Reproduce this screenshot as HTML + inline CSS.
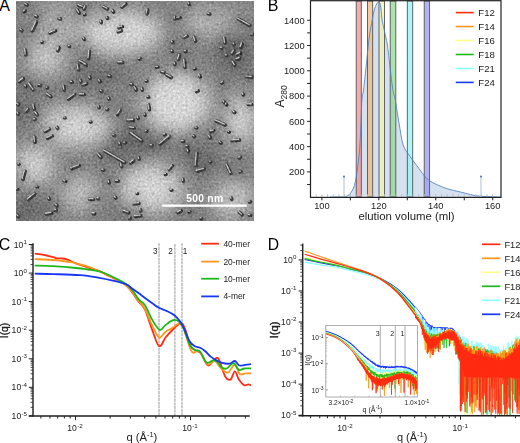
<!DOCTYPE html>
<html><head><meta charset="utf-8"><style>
html,body{margin:0;padding:0;background:#fff;width:520px;height:443px;overflow:hidden;}
svg{display:block;font-family:"Liberation Sans",sans-serif;}
</style></head><body>
<svg width="520" height="443" viewBox="0 0 520 443">
<defs>
<clipPath id="clipA"><rect x="16" y="1" width="238" height="220"/></clipPath>
<clipPath id="clipD"><rect x="303" y="240" width="217" height="175.6"/></clipPath>
<clipPath id="clipInset"><rect x="326" y="326" width="91.4" height="70.6"/></clipPath>
<filter id="blurA" x="-20%" y="-20%" width="140%" height="140%"><feGaussianBlur stdDeviation="9"/></filter>
<filter id="blurH" x="-10%" y="-10%" width="120%" height="120%"><feGaussianBlur stdDeviation="3"/></filter>
<filter id="blurR" x="-5%" y="-5%" width="110%" height="110%"><feGaussianBlur stdDeviation="0.45"/></filter>
<filter id="grainA" x="16" y="1" width="238" height="220" filterUnits="userSpaceOnUse" color-interpolation-filters="sRGB">
<feTurbulence type="fractalNoise" baseFrequency="0.42" numOctaves="2" seed="7" result="t"/>
<feColorMatrix in="t" type="matrix" values="0.33 0.33 0.33 0 0  0.33 0.33 0.33 0 0  0.33 0.33 0.33 0 0  0 0 0 0 1" result="g"/>
<feComposite in="SourceGraphic" in2="g" operator="arithmetic" k1="0" k2="1" k3="0.55" k4="-0.275"/>
</filter>
</defs>
<text x="-0.8" y="10.8" font-size="16" font-family="Liberation Sans, sans-serif" fill="#000">A</text>
<g clip-path="url(#clipA)">
<g filter="url(#grainA)">
<rect x="16" y="1" width="238" height="220" fill="rgb(132,132,132)"/>
<g filter="url(#blurA)">
<ellipse cx="22" cy="105" rx="10" ry="30" fill="rgb(115,115,115)" opacity="1.00"/>
<ellipse cx="105" cy="70" rx="24" ry="12" fill="rgb(112,112,112)" opacity="0.95"/>
<ellipse cx="135" cy="145" rx="36" ry="16" fill="rgb(108,108,108)" opacity="0.95"/>
<ellipse cx="26" cy="12" rx="14" ry="12" fill="rgb(135,135,135)" opacity="0.50"/>
<ellipse cx="28" cy="210" rx="16" ry="14" fill="rgb(100,100,100)" opacity="0.90"/>
<ellipse cx="234" cy="55" rx="22" ry="20" fill="rgb(110,110,110)" opacity="0.95"/>
<ellipse cx="236" cy="10" rx="20" ry="12" fill="rgb(120,120,120)" opacity="0.70"/>
<ellipse cx="200" cy="158" rx="22" ry="16" fill="rgb(110,110,110)" opacity="0.90"/>
<ellipse cx="120" cy="212" rx="22" ry="10" fill="rgb(115,115,115)" opacity="0.80"/>
<ellipse cx="50" cy="100" rx="20" ry="12" fill="rgb(135,135,135)" opacity="0.50"/>
<ellipse cx="46" cy="58" rx="20" ry="17" fill="rgb(200,200,200)" opacity="0.95"/>
<ellipse cx="58" cy="30" rx="22" ry="16" fill="rgb(188,188,188)" opacity="0.80"/>
<ellipse cx="122" cy="32" rx="40" ry="22" fill="rgb(212,212,212)" opacity="1.00"/>
<ellipse cx="236" cy="14" rx="16" ry="10" fill="rgb(170,170,170)" opacity="0.60"/>
<ellipse cx="206" cy="22" rx="22" ry="15" fill="rgb(188,188,188)" opacity="0.85"/>
<ellipse cx="176" cy="102" rx="34" ry="30" fill="rgb(215,215,215)" opacity="1.00"/>
<ellipse cx="76" cy="126" rx="34" ry="20" fill="rgb(210,210,210)" opacity="1.00"/>
<ellipse cx="34" cy="165" rx="20" ry="20" fill="rgb(205,205,205)" opacity="1.00"/>
<ellipse cx="152" cy="188" rx="32" ry="24" fill="rgb(210,210,210)" opacity="1.00"/>
<ellipse cx="240" cy="120" rx="16" ry="26" fill="rgb(205,205,205)" opacity="1.00"/>
<ellipse cx="234" cy="200" rx="22" ry="18" fill="rgb(200,200,200)" opacity="0.95"/>
<ellipse cx="80" cy="193" rx="18" ry="18" fill="rgb(195,195,195)" opacity="0.90"/>
<ellipse cx="60" cy="6" rx="22" ry="8" fill="rgb(175,175,175)" opacity="0.60"/>
</g>
<path d="M25.9,4.4L27.1,5.1M24.4,11.7L25.2,11.2M35.9,16.1L37.1,16.8M32.4,30.9L36.6,22.0M21.0,29.8L22.0,30.7M50.2,33.2L55.6,30.7M59.2,18.8L60.6,19.1M42.2,42.2L42.6,42.2M25.5,49.7L25.9,55.0M57.9,50.8L59.1,47.7M69.3,46.4L69.7,46.5M83.6,38.5L84.6,39.4M78.7,5.6L82.9,7.1M77.3,9.8L79.3,13.1M84.3,9.1L85.5,7.0M84.7,14.8L85.1,14.8M88.8,58.5L89.4,51.2M80.1,61.3L86.5,65.0M77.9,64.9L78.7,69.8M103.8,7.0L107.6,9.2M112.9,10.8L113.5,12.1M107.2,17.7L107.6,18.4M101.1,21.3L101.3,22.6M122.1,7.1L125.9,4.0M119.1,27.8L122.3,26.7M118.3,32.0L121.5,30.9M147.1,13.9L147.7,10.0M175.0,16.9L175.0,19.2M172.3,41.8L172.7,42.7M172.3,51.4L172.7,51.4M139.2,59.2L140.6,58.7M118.8,62.6L122.7,62.6M156.7,67.3L158.1,67.3M161.9,71.9L164.7,72.8M174.9,63.3L175.1,64.6M188.9,3.2L189.1,4.5M208.4,13.8L209.8,14.1M177.8,18.3L180.2,17.8M238.3,18.9L249.9,25.6M184.4,37.7L187.0,36.2M194.2,37.4L195.6,41.1M224.5,38.2L225.3,43.1M221.1,48.1L221.9,48.1M233.9,43.9L234.3,44.6M240.9,47.5L242.3,43.8M232.5,53.8L234.2,50.9M237.6,54.8L240.6,53.1M226.2,55.6L227.0,55.6M236.7,59.5L239.9,58.4M233.1,62.3L235.1,65.6M251.8,34.8L253.2,34.8M178.4,59.7L179.6,55.0M184.5,60.3L185.1,67.6M185.2,51.4L186.1,51.4M194.5,69.0L195.3,69.0M19.6,81.9L23.4,78.8M29.4,84.0L33.6,90.1M25.2,85.8L26.2,86.7M39.2,85.5L40.6,85.5M47.1,94.0L51.1,96.9M47.2,88.0L47.6,88.0M63.8,86.0L64.4,89.9M68.6,99.2L74.6,94.9M80.5,94.5L84.4,94.5M83.1,85.2L86.7,83.9M70.9,81.8L72.3,82.3M80.6,80.6L81.0,81.9M89.7,77.2L90.3,78.5M17.7,104.1L18.7,105.0M17.8,113.1L18.6,114.4M26.5,111.6L28.3,109.3M33.7,105.2L34.3,109.1M35.6,112.6L37.4,114.9M34.4,119.6L35.4,119.6M45.3,131.7L49.5,129.2M47.5,138.3L52.3,136.0M57.0,127.4L57.8,128.5M34.7,137.0L35.1,142.3M64.7,118.0L65.1,118.0M90.6,122.1L91.0,122.1M109.2,76.0L110.6,76.5M99.5,80.6L100.1,81.9M130.9,84.4L132.3,84.7M135.0,87.5L136.4,90.0M142.3,88.9L142.5,90.2M146.2,81.2L147.0,81.2M101.1,91.0L101.9,91.5M108.7,98.1L109.3,99.4M98.9,106.5L99.1,107.8M107.0,109.6L107.9,109.6M117.6,114.7L120.4,110.6M147.9,97.0L148.8,97.0M148.7,104.7L149.5,109.6M144.7,114.0L145.1,115.3M138.0,117.6L138.4,118.3M128.0,120.7L133.4,120.2M130.5,127.6L134.3,128.3M131.1,133.3L142.1,141.0M146.4,131.4L146.8,131.4M113.5,135.5L114.5,135.5M119.7,143.2L120.1,144.5M124.5,143.0L125.4,143.0M160.2,144.4L169.6,136.5M150.9,145.6L152.3,145.6M166.8,74.9L171.4,77.6M164.5,134.7L165.3,134.7M199.6,75.6L200.2,76.9M221.8,83.2L223.0,82.5M196.5,91.6L198.3,90.9M246.4,76.8L251.8,77.3M243.1,94.2L243.5,94.9M223.7,101.5L224.5,102.6M226.5,104.1L226.7,105.0M248.1,104.5L251.9,104.5M233.6,111.7L234.6,112.6M216.0,120.8L225.4,125.1M196.1,127.8L196.9,128.1M211.0,131.8L213.8,130.9M228.9,132.2L229.3,132.2M209.4,136.3L210.4,138.0M193.7,136.1L194.3,136.6M232.1,140.8L239.5,140.1M182.5,141.4L183.9,141.4M187.0,146.4L187.8,146.4M220.3,142.7L221.1,143.2M22.9,179.3L25.1,171.2M28.1,199.8L34.9,194.1M72.3,168.2L79.3,165.7M71.4,168.1L71.8,169.0M64.2,180.9L65.6,181.4M37.2,187.0L37.6,187.0M48.8,198.0L49.5,199.3M56.1,204.9L57.1,205.8M46.4,214.1L51.8,213.2M55.0,210.5L56.4,210.2M89.6,199.5L93.5,199.5M18.8,164.5L19.2,164.5M17.1,189.5L17.5,189.5M17.7,215.7L18.7,216.6M93.4,213.7L94.8,213.7M98.5,154.6L101.1,157.5M104.8,151.0L125.0,162.7M121.2,163.8L121.8,166.7M130.9,163.2L133.9,160.7M139.0,157.9L139.2,159.2M102.8,170.2L103.7,170.2M108.8,181.0L109.2,182.9M116.5,181.2L118.4,181.2M169.2,169.6L172.4,165.9M165.4,174.5L166.2,174.5M171.2,190.2L172.0,190.2M134.2,203.9L139.0,203.4M124.2,211.1L128.8,212.8M135.5,216.4L140.9,215.9M140.5,209.7L140.9,211.0M115.4,197.5L116.0,198.0M137.2,193.7L137.6,193.7M97.8,198.7L98.7,198.7M129.7,218.7L130.1,218.7M197.0,153.3L196.0,165.6M197.1,171.2L204.3,169.3M210.2,162.0L211.1,162.0M227.2,165.4L231.0,173.5M187.9,150.2L188.5,151.9M239.2,158.0L240.6,157.5M240.4,172.0L241.2,172.0M183.0,179.3L183.4,181.2M231.5,198.0L231.7,199.3M239.3,212.4L242.3,214.9M249.3,215.4L250.7,215.4M178.3,212.8L181.3,211.1M189.5,212.0L190.3,212.0M249.3,202.0L250.7,202.0M201.3,218.7L201.7,218.7" stroke="#000" stroke-width="9" stroke-linecap="round" opacity="0.10" filter="url(#blurH)" fill="none"/>
<g filter="url(#blurR)" fill="none" stroke-linecap="round">
<path d="M25.9,4.4L27.1,5.1M24.4,11.7L25.2,11.2M35.9,16.1L37.1,16.8M32.4,30.9L36.6,22.0M21.0,29.8L22.0,30.7M50.2,33.2L55.6,30.7M59.2,18.8L60.6,19.1M42.2,42.2L42.6,42.2M25.5,49.7L25.9,55.0M57.9,50.8L59.1,47.7M69.3,46.4L69.7,46.5M83.6,38.5L84.6,39.4M78.7,5.6L82.9,7.1M77.3,9.8L79.3,13.1M84.3,9.1L85.5,7.0M84.7,14.8L85.1,14.8M88.8,58.5L89.4,51.2M80.1,61.3L86.5,65.0M77.9,64.9L78.7,69.8M103.8,7.0L107.6,9.2M112.9,10.8L113.5,12.1M107.2,17.7L107.6,18.4M101.1,21.3L101.3,22.6M122.1,7.1L125.9,4.0M119.1,27.8L122.3,26.7M118.3,32.0L121.5,30.9M147.1,13.9L147.7,10.0M175.0,16.9L175.0,19.2M172.3,41.8L172.7,42.7M172.3,51.4L172.7,51.4M139.2,59.2L140.6,58.7M118.8,62.6L122.7,62.6M156.7,67.3L158.1,67.3M161.9,71.9L164.7,72.8M174.9,63.3L175.1,64.6M188.9,3.2L189.1,4.5M208.4,13.8L209.8,14.1M177.8,18.3L180.2,17.8M238.3,18.9L249.9,25.6M184.4,37.7L187.0,36.2M194.2,37.4L195.6,41.1M224.5,38.2L225.3,43.1M221.1,48.1L221.9,48.1M233.9,43.9L234.3,44.6M240.9,47.5L242.3,43.8M232.5,53.8L234.2,50.9M237.6,54.8L240.6,53.1M226.2,55.6L227.0,55.6M236.7,59.5L239.9,58.4M233.1,62.3L235.1,65.6M251.8,34.8L253.2,34.8M178.4,59.7L179.6,55.0M184.5,60.3L185.1,67.6M185.2,51.4L186.1,51.4M194.5,69.0L195.3,69.0M19.6,81.9L23.4,78.8M29.4,84.0L33.6,90.1M25.2,85.8L26.2,86.7M39.2,85.5L40.6,85.5M47.1,94.0L51.1,96.9M47.2,88.0L47.6,88.0M63.8,86.0L64.4,89.9M68.6,99.2L74.6,94.9M80.5,94.5L84.4,94.5M83.1,85.2L86.7,83.9M70.9,81.8L72.3,82.3M80.6,80.6L81.0,81.9M89.7,77.2L90.3,78.5M17.7,104.1L18.7,105.0M17.8,113.1L18.6,114.4M26.5,111.6L28.3,109.3M33.7,105.2L34.3,109.1M35.6,112.6L37.4,114.9M34.4,119.6L35.4,119.6M45.3,131.7L49.5,129.2M47.5,138.3L52.3,136.0M57.0,127.4L57.8,128.5M34.7,137.0L35.1,142.3M64.7,118.0L65.1,118.0M90.6,122.1L91.0,122.1M109.2,76.0L110.6,76.5M99.5,80.6L100.1,81.9M130.9,84.4L132.3,84.7M135.0,87.5L136.4,90.0M142.3,88.9L142.5,90.2M146.2,81.2L147.0,81.2M101.1,91.0L101.9,91.5M108.7,98.1L109.3,99.4M98.9,106.5L99.1,107.8M107.0,109.6L107.9,109.6M117.6,114.7L120.4,110.6M147.9,97.0L148.8,97.0M148.7,104.7L149.5,109.6M144.7,114.0L145.1,115.3M138.0,117.6L138.4,118.3M128.0,120.7L133.4,120.2M130.5,127.6L134.3,128.3M131.1,133.3L142.1,141.0M146.4,131.4L146.8,131.4M113.5,135.5L114.5,135.5M119.7,143.2L120.1,144.5M124.5,143.0L125.4,143.0M160.2,144.4L169.6,136.5M150.9,145.6L152.3,145.6M166.8,74.9L171.4,77.6M164.5,134.7L165.3,134.7M199.6,75.6L200.2,76.9M221.8,83.2L223.0,82.5M196.5,91.6L198.3,90.9M246.4,76.8L251.8,77.3M243.1,94.2L243.5,94.9M223.7,101.5L224.5,102.6M226.5,104.1L226.7,105.0M248.1,104.5L251.9,104.5M233.6,111.7L234.6,112.6M216.0,120.8L225.4,125.1M196.1,127.8L196.9,128.1M211.0,131.8L213.8,130.9M228.9,132.2L229.3,132.2M209.4,136.3L210.4,138.0M193.7,136.1L194.3,136.6M232.1,140.8L239.5,140.1M182.5,141.4L183.9,141.4M187.0,146.4L187.8,146.4M220.3,142.7L221.1,143.2M22.9,179.3L25.1,171.2M28.1,199.8L34.9,194.1M72.3,168.2L79.3,165.7M71.4,168.1L71.8,169.0M64.2,180.9L65.6,181.4M37.2,187.0L37.6,187.0M48.8,198.0L49.5,199.3M56.1,204.9L57.1,205.8M46.4,214.1L51.8,213.2M55.0,210.5L56.4,210.2M89.6,199.5L93.5,199.5M18.8,164.5L19.2,164.5M17.1,189.5L17.5,189.5M17.7,215.7L18.7,216.6M93.4,213.7L94.8,213.7M98.5,154.6L101.1,157.5M104.8,151.0L125.0,162.7M121.2,163.8L121.8,166.7M130.9,163.2L133.9,160.7M139.0,157.9L139.2,159.2M102.8,170.2L103.7,170.2M108.8,181.0L109.2,182.9M116.5,181.2L118.4,181.2M169.2,169.6L172.4,165.9M165.4,174.5L166.2,174.5M171.2,190.2L172.0,190.2M134.2,203.9L139.0,203.4M124.2,211.1L128.8,212.8M135.5,216.4L140.9,215.9M140.5,209.7L140.9,211.0M115.4,197.5L116.0,198.0M137.2,193.7L137.6,193.7M97.8,198.7L98.7,198.7M129.7,218.7L130.1,218.7M197.0,153.3L196.0,165.6M197.1,171.2L204.3,169.3M210.2,162.0L211.1,162.0M227.2,165.4L231.0,173.5M187.9,150.2L188.5,151.9M239.2,158.0L240.6,157.5M240.4,172.0L241.2,172.0M183.0,179.3L183.4,181.2M231.5,198.0L231.7,199.3M239.3,212.4L242.3,214.9M249.3,215.4L250.7,215.4M178.3,212.8L181.3,211.1M189.5,212.0L190.3,212.0M249.3,202.0L250.7,202.0M201.3,218.7L201.7,218.7" stroke="#3a3a3a" stroke-width="3.6"/>
<path d="M25.0,3.5L26.3,4.2M23.6,10.8L24.3,10.3M35.0,15.2L36.3,15.9M31.6,30.0L35.7,21.1M20.1,28.9L21.2,29.8M49.4,32.3L54.7,29.8M58.4,17.9L59.7,18.2M41.3,41.4L41.8,41.4M24.6,48.8L25.1,54.1M57.1,49.9L58.2,46.8M68.5,45.5L68.8,45.6M82.8,37.6L83.7,38.5M77.9,4.7L82.0,6.2M76.5,8.9L78.4,12.2M83.5,8.2L84.7,6.1M83.9,13.8L84.3,13.8M87.9,57.6L88.6,50.3M79.2,60.4L85.7,64.1M77.0,64.0L77.9,68.9M102.9,6.1L106.8,8.2M112.0,9.9L112.7,11.2M106.3,16.8L106.8,17.5M100.2,20.4L100.5,21.7M121.3,6.2L125.0,3.1M118.3,26.9L121.4,25.8M117.5,31.1L120.6,30.0M146.2,13.0L146.9,9.1M174.2,16.0L174.2,18.3M171.5,40.9L171.8,41.8M171.5,50.5L171.8,50.5M138.4,58.3L139.7,57.8M117.9,61.8L121.8,61.8M155.9,66.5L157.2,66.5M161.1,71.0L163.8,71.9M174.0,62.4L174.3,63.7M188.0,2.3L188.3,3.6M207.6,12.9L208.9,13.2M177.0,17.4L179.3,16.9M237.4,18.0L249.1,24.7M183.6,36.8L186.1,35.3M193.4,36.5L194.7,40.2M223.6,37.3L224.5,42.2M220.2,47.2L221.1,47.2M233.0,43.0L233.5,43.7M240.1,46.6L241.4,42.9M231.6,52.9L233.3,50.0M236.8,53.9L239.7,52.2M225.3,54.8L226.2,54.8M235.9,58.6L239.0,57.5M232.3,61.4L234.2,64.7M251.0,33.9L252.3,33.9M177.5,58.8L178.8,54.1M183.6,59.4L184.3,66.7M184.4,50.5L185.3,50.5M193.6,68.1L194.5,68.1M18.8,81.0L22.5,77.9M28.5,83.1L32.8,89.2M24.3,84.9L25.4,85.8M38.3,84.6L39.8,84.6M46.2,93.1L50.3,96.0M46.3,87.1L46.8,87.1M62.9,85.1L63.6,89.0M67.7,98.3L73.8,94.0M79.6,93.7L83.5,93.7M82.2,84.3L85.9,83.0M70.1,80.9L71.4,81.4M79.7,79.7L80.2,81.0M88.8,76.3L89.5,77.6M16.8,103.2L17.9,104.1M17.0,112.2L17.7,113.5M25.6,110.7L27.5,108.4M32.8,104.3L33.5,108.2M34.7,111.7L36.6,114.0M33.6,118.8L34.5,118.8M44.4,130.8L48.7,128.3M46.6,137.4L51.5,135.1M56.1,126.5L57.0,127.6M33.8,136.1L34.3,141.4M63.9,117.1L64.3,117.1M89.8,121.2L90.2,121.2M108.4,75.1L109.7,75.6M98.6,79.7L99.3,81.0M130.1,83.5L131.4,83.8M134.1,86.6L135.6,89.1M141.4,88.0L141.7,89.3M145.3,80.4L146.2,80.4M100.3,90.1L101.0,90.6M107.8,97.2L108.5,98.5M98.0,105.6L98.3,106.9M106.1,108.8L107.0,108.8M116.7,113.8L119.6,109.7M147.0,96.2L147.9,96.2M147.8,103.8L148.7,108.7M143.8,113.1L144.3,114.4M137.1,116.7L137.6,117.4M127.2,119.8L132.5,119.3M129.6,126.7L133.5,127.4M130.3,132.4L141.2,140.1M145.6,130.5L145.9,130.5M112.7,134.6L113.6,134.6M118.8,142.3L119.3,143.6M123.6,142.1L124.5,142.1M159.3,143.5L168.8,135.6M150.1,144.7L151.4,144.7M165.9,74.0L170.6,76.7M163.6,133.8L164.5,133.8M198.7,74.7L199.4,76.0M220.9,82.3L222.2,81.6M195.7,90.7L197.4,90.0M245.6,75.9L250.9,76.4M242.2,93.3L242.7,94.0M222.8,100.6L223.7,101.7M225.7,103.2L225.8,104.1M247.2,103.7L251.1,103.7M232.7,110.8L233.8,111.7M215.1,119.9L224.6,124.2M195.2,126.9L196.1,127.2M210.2,130.9L212.9,130.0M228.1,131.2L228.4,131.2M208.6,135.4L209.5,137.1M192.8,135.2L193.5,135.7M231.3,139.9L238.6,139.2M181.7,140.5L183.0,140.5M186.1,145.5L187.0,145.5M219.5,141.8L220.2,142.3M22.1,178.4L24.2,170.3M27.2,198.9L34.1,193.2M71.5,167.3L78.4,164.8M70.6,167.2L70.9,168.1M63.4,180.0L64.7,180.5M36.3,186.1L36.8,186.1M47.9,197.1L48.6,198.4M55.2,204.0L56.3,204.9M45.6,213.2L50.9,212.3M54.2,209.6L55.5,209.3M88.8,198.6L92.7,198.6M17.9,163.6L18.3,163.6M16.2,188.6L16.6,188.6M16.8,214.8L17.9,215.7M92.5,212.8L94.0,212.8M97.7,153.7L100.2,156.6M103.9,150.1L124.2,161.8M120.4,162.9L120.9,165.8M130.1,162.3L133.0,159.8M138.1,157.0L138.4,158.3M101.9,169.3L102.8,169.3M108.0,180.1L108.3,182.0M115.6,180.2L117.5,180.2M168.4,168.7L171.5,165.0M164.5,173.6L165.4,173.6M170.3,189.3L171.2,189.3M133.3,203.0L138.2,202.5M123.3,210.2L128.0,211.9M134.7,215.5L140.0,215.0M139.6,208.8L140.1,210.1M114.5,196.6L115.2,197.1M136.4,192.8L136.8,192.8M96.9,197.8L97.8,197.8M128.9,217.8L129.2,217.8M196.2,152.4L195.1,164.7M196.3,170.3L203.4,168.4M209.4,161.1L210.3,161.1M226.4,164.5L230.1,172.6M187.0,149.3L187.7,151.0M238.4,157.1L239.7,156.6M239.5,171.1L240.4,171.1M182.2,178.4L182.5,180.3M230.6,197.1L230.9,198.4M238.5,211.5L241.4,214.0M248.5,214.5L249.8,214.5M177.5,211.9L180.4,210.2M188.6,211.1L189.5,211.1M248.5,201.1L249.8,201.1M200.5,217.8L200.8,217.8" stroke="#c2c2c2" stroke-width="1.4"/>
</g>
</g>
</g>
<rect x="162.3" y="204.5" width="84.5" height="2.3" fill="#fff"/>
<text x="204.8" y="202.2" font-size="10.3" font-weight="bold" letter-spacing="0.25" text-anchor="middle" fill="#fff" font-family="Liberation Sans, sans-serif">500 nm</text>
<text x="267.7" y="11.1" font-size="16" font-family="Liberation Sans, sans-serif" fill="#000">B</text>
<path d="M330.00,197.00 C331.72,196.98 337.88,196.97 340.30,196.90 C342.72,196.83 343.05,196.95 344.50,196.60 C345.95,196.25 347.50,196.23 349.00,194.80 C350.50,193.37 352.28,191.02 353.50,188.00 C354.72,184.98 355.50,181.03 356.30,176.70 C357.10,172.37 357.70,167.28 358.30,162.00 C358.90,156.72 359.45,151.67 359.90,145.00 C360.35,138.33 360.67,129.50 361.00,122.00 C361.33,114.50 361.48,105.33 361.90,100.00 C362.32,94.67 362.82,95.38 363.50,90.00 C364.18,84.62 365.28,74.37 366.00,67.70 C366.72,61.03 367.22,55.45 367.80,50.00 C368.38,44.55 368.77,40.00 369.50,35.00 C370.23,30.00 371.40,24.17 372.20,20.00 C373.00,15.83 373.57,12.67 374.30,10.00 C375.03,7.33 375.90,5.35 376.60,4.00 C377.30,2.65 377.93,1.97 378.50,1.90 C379.07,1.83 379.58,2.42 380.00,3.60 C380.42,4.78 380.65,6.27 381.00,9.00 C381.35,11.73 381.63,16.83 382.10,20.00 C382.57,23.17 383.27,25.50 383.80,28.00 C384.33,30.50 384.70,32.17 385.30,35.00 C385.90,37.83 386.60,39.55 387.40,45.00 C388.20,50.45 389.18,60.20 390.10,67.70 C391.02,75.20 392.03,84.62 392.90,90.00 C393.77,95.38 394.28,94.50 395.30,100.00 C396.32,105.50 397.68,115.50 399.00,123.00 C400.32,130.50 401.37,139.43 403.20,145.00 C405.03,150.57 407.75,152.98 410.00,156.40 C412.25,159.82 414.27,162.23 416.70,165.50 C419.13,168.77 422.38,173.42 424.60,176.00 C426.82,178.58 427.43,179.33 430.00,181.00 C432.57,182.67 436.67,184.58 440.00,186.00 C443.33,187.42 445.90,188.33 450.00,189.50 C454.10,190.67 460.27,191.95 464.60,193.00 C468.93,194.05 471.77,195.18 476.00,195.80 C480.23,196.42 485.83,196.50 490.00,196.70 C494.17,196.90 499.17,196.95 501.00,197.00 L501,197 L330,197 Z" fill="#d6e1f0"/>
<rect x="356.2" y="1" width="5.1" height="196" fill="#f09090" fill-opacity="0.75" stroke="#555" stroke-width="0.9"/>
<rect x="367.5" y="1" width="5.2" height="196" fill="#f0b880" fill-opacity="0.75" stroke="#555" stroke-width="0.9"/>
<rect x="379.0" y="1" width="5.5" height="196" fill="#f0f0b0" fill-opacity="0.75" stroke="#555" stroke-width="0.9"/>
<rect x="390.2" y="1" width="5.6" height="196" fill="#90d890" fill-opacity="0.75" stroke="#555" stroke-width="0.9"/>
<rect x="407.3" y="1" width="5.4" height="196" fill="#90f4f4" fill-opacity="0.75" stroke="#555" stroke-width="0.9"/>
<rect x="424.2" y="1" width="5.4" height="196" fill="#9898f0" fill-opacity="0.75" stroke="#555" stroke-width="0.9"/>
<path d="M330.00,197.00 C331.72,196.98 337.88,196.97 340.30,196.90 C342.72,196.83 343.05,196.95 344.50,196.60 C345.95,196.25 347.50,196.23 349.00,194.80 C350.50,193.37 352.28,191.02 353.50,188.00 C354.72,184.98 355.50,181.03 356.30,176.70 C357.10,172.37 357.70,167.28 358.30,162.00 C358.90,156.72 359.45,151.67 359.90,145.00 C360.35,138.33 360.67,129.50 361.00,122.00 C361.33,114.50 361.48,105.33 361.90,100.00 C362.32,94.67 362.82,95.38 363.50,90.00 C364.18,84.62 365.28,74.37 366.00,67.70 C366.72,61.03 367.22,55.45 367.80,50.00 C368.38,44.55 368.77,40.00 369.50,35.00 C370.23,30.00 371.40,24.17 372.20,20.00 C373.00,15.83 373.57,12.67 374.30,10.00 C375.03,7.33 375.90,5.35 376.60,4.00 C377.30,2.65 377.93,1.97 378.50,1.90 C379.07,1.83 379.58,2.42 380.00,3.60 C380.42,4.78 380.65,6.27 381.00,9.00 C381.35,11.73 381.63,16.83 382.10,20.00 C382.57,23.17 383.27,25.50 383.80,28.00 C384.33,30.50 384.70,32.17 385.30,35.00 C385.90,37.83 386.60,39.55 387.40,45.00 C388.20,50.45 389.18,60.20 390.10,67.70 C391.02,75.20 392.03,84.62 392.90,90.00 C393.77,95.38 394.28,94.50 395.30,100.00 C396.32,105.50 397.68,115.50 399.00,123.00 C400.32,130.50 401.37,139.43 403.20,145.00 C405.03,150.57 407.75,152.98 410.00,156.40 C412.25,159.82 414.27,162.23 416.70,165.50 C419.13,168.77 422.38,173.42 424.60,176.00 C426.82,178.58 427.43,179.33 430.00,181.00 C432.57,182.67 436.67,184.58 440.00,186.00 C443.33,187.42 445.90,188.33 450.00,189.50 C454.10,190.67 460.27,191.95 464.60,193.00 C468.93,194.05 471.77,195.18 476.00,195.80 C480.23,196.42 485.83,196.50 490.00,196.70 C494.17,196.90 499.17,196.95 501.00,197.00" fill="none" stroke="#4f80c0" stroke-width="0.85"/>
<rect x="343.3" y="176.5" width="1.4" height="20.4" fill="#c5d3e6"/>
<circle cx="344.0" cy="176.5" r="0.9" fill="#3a6ab0"/>
<rect x="480.3" y="176.5" width="1.4" height="20.4" fill="#c5d3e6"/>
<circle cx="481.0" cy="176.5" r="0.9" fill="#3a6ab0"/>
<line x1="316.2" y1="194.2" x2="316.2" y2="196.8" stroke="#bbb" stroke-width="0.9"/>
<line x1="321.9" y1="194.2" x2="321.9" y2="196.8" stroke="#bbb" stroke-width="0.9"/>
<line x1="327.6" y1="194.2" x2="327.6" y2="196.8" stroke="#bbb" stroke-width="0.9"/>
<line x1="333.3" y1="194.2" x2="333.3" y2="196.8" stroke="#bbb" stroke-width="0.9"/>
<line x1="339.0" y1="194.2" x2="339.0" y2="196.8" stroke="#bbb" stroke-width="0.9"/>
<line x1="344.7" y1="194.2" x2="344.7" y2="196.8" stroke="#bbb" stroke-width="0.9"/>
<line x1="350.4" y1="194.2" x2="350.4" y2="196.8" stroke="#bbb" stroke-width="0.9"/>
<line x1="356.1" y1="194.2" x2="356.1" y2="196.8" stroke="#bbb" stroke-width="0.9"/>
<line x1="361.8" y1="194.2" x2="361.8" y2="196.8" stroke="#bbb" stroke-width="0.9"/>
<line x1="367.5" y1="194.2" x2="367.5" y2="196.8" stroke="#bbb" stroke-width="0.9"/>
<line x1="373.1" y1="194.2" x2="373.1" y2="196.8" stroke="#bbb" stroke-width="0.9"/>
<line x1="378.8" y1="194.2" x2="378.8" y2="196.8" stroke="#bbb" stroke-width="0.9"/>
<line x1="384.5" y1="194.2" x2="384.5" y2="196.8" stroke="#bbb" stroke-width="0.9"/>
<line x1="390.2" y1="194.2" x2="390.2" y2="196.8" stroke="#bbb" stroke-width="0.9"/>
<line x1="395.9" y1="194.2" x2="395.9" y2="196.8" stroke="#bbb" stroke-width="0.9"/>
<line x1="401.6" y1="194.2" x2="401.6" y2="196.8" stroke="#bbb" stroke-width="0.9"/>
<line x1="407.3" y1="194.2" x2="407.3" y2="196.8" stroke="#bbb" stroke-width="0.9"/>
<line x1="413.0" y1="194.2" x2="413.0" y2="196.8" stroke="#bbb" stroke-width="0.9"/>
<line x1="418.7" y1="194.2" x2="418.7" y2="196.8" stroke="#bbb" stroke-width="0.9"/>
<line x1="424.4" y1="194.2" x2="424.4" y2="196.8" stroke="#bbb" stroke-width="0.9"/>
<line x1="430.1" y1="194.2" x2="430.1" y2="196.8" stroke="#bbb" stroke-width="0.9"/>
<line x1="435.8" y1="194.2" x2="435.8" y2="196.8" stroke="#bbb" stroke-width="0.9"/>
<line x1="441.5" y1="194.2" x2="441.5" y2="196.8" stroke="#bbb" stroke-width="0.9"/>
<line x1="447.2" y1="194.2" x2="447.2" y2="196.8" stroke="#bbb" stroke-width="0.9"/>
<line x1="452.9" y1="194.2" x2="452.9" y2="196.8" stroke="#bbb" stroke-width="0.9"/>
<line x1="458.6" y1="194.2" x2="458.6" y2="196.8" stroke="#bbb" stroke-width="0.9"/>
<line x1="464.2" y1="194.2" x2="464.2" y2="196.8" stroke="#bbb" stroke-width="0.9"/>
<line x1="469.9" y1="194.2" x2="469.9" y2="196.8" stroke="#bbb" stroke-width="0.9"/>
<line x1="475.6" y1="194.2" x2="475.6" y2="196.8" stroke="#bbb" stroke-width="0.9"/>
<line x1="481.3" y1="194.2" x2="481.3" y2="196.8" stroke="#bbb" stroke-width="0.9"/>
<line x1="487.0" y1="194.2" x2="487.0" y2="196.8" stroke="#bbb" stroke-width="0.9"/>
<line x1="492.7" y1="194.2" x2="492.7" y2="196.8" stroke="#bbb" stroke-width="0.9"/>
<rect x="310.5" y="0.7" width="190.5" height="196.7" fill="none" stroke="#222" stroke-width="1.2"/>
<line x1="307.1" y1="184.56" x2="310.5" y2="184.56" stroke="#222" stroke-width="1.0"/>
<line x1="307.1" y1="171.92" x2="310.5" y2="171.92" stroke="#222" stroke-width="1.0"/>
<text x="304.6" y="175.22" font-size="9.3" text-anchor="end" font-family="Liberation Sans, sans-serif" fill="#222">200</text>
<line x1="307.1" y1="159.28" x2="310.5" y2="159.28" stroke="#222" stroke-width="1.0"/>
<line x1="307.1" y1="146.64" x2="310.5" y2="146.64" stroke="#222" stroke-width="1.0"/>
<text x="304.6" y="149.94" font-size="9.3" text-anchor="end" font-family="Liberation Sans, sans-serif" fill="#222">400</text>
<line x1="307.1" y1="134.00" x2="310.5" y2="134.00" stroke="#222" stroke-width="1.0"/>
<line x1="307.1" y1="121.36" x2="310.5" y2="121.36" stroke="#222" stroke-width="1.0"/>
<text x="304.6" y="124.66" font-size="9.3" text-anchor="end" font-family="Liberation Sans, sans-serif" fill="#222">600</text>
<line x1="307.1" y1="108.72" x2="310.5" y2="108.72" stroke="#222" stroke-width="1.0"/>
<line x1="307.1" y1="96.08" x2="310.5" y2="96.08" stroke="#222" stroke-width="1.0"/>
<text x="304.6" y="99.38" font-size="9.3" text-anchor="end" font-family="Liberation Sans, sans-serif" fill="#222">800</text>
<line x1="307.1" y1="83.44" x2="310.5" y2="83.44" stroke="#222" stroke-width="1.0"/>
<line x1="307.1" y1="70.80" x2="310.5" y2="70.80" stroke="#222" stroke-width="1.0"/>
<text x="304.6" y="74.10" font-size="9.3" text-anchor="end" font-family="Liberation Sans, sans-serif" fill="#222">1000</text>
<line x1="307.1" y1="58.16" x2="310.5" y2="58.16" stroke="#222" stroke-width="1.0"/>
<line x1="307.1" y1="45.52" x2="310.5" y2="45.52" stroke="#222" stroke-width="1.0"/>
<text x="304.6" y="48.82" font-size="9.3" text-anchor="end" font-family="Liberation Sans, sans-serif" fill="#222">1200</text>
<line x1="307.1" y1="32.88" x2="310.5" y2="32.88" stroke="#222" stroke-width="1.0"/>
<line x1="307.1" y1="20.24" x2="310.5" y2="20.24" stroke="#222" stroke-width="1.0"/>
<text x="304.6" y="23.54" font-size="9.3" text-anchor="end" font-family="Liberation Sans, sans-serif" fill="#222">1400</text>
<line x1="321.90" y1="197" x2="321.90" y2="200.3" stroke="#222" stroke-width="1.0"/>
<text x="321.90" y="209" font-size="9.3" text-anchor="middle" font-family="Liberation Sans, sans-serif" fill="#222">100</text>
<line x1="350.37" y1="197" x2="350.37" y2="200.3" stroke="#222" stroke-width="1.0"/>
<line x1="378.84" y1="197" x2="378.84" y2="200.3" stroke="#222" stroke-width="1.0"/>
<text x="378.84" y="209" font-size="9.3" text-anchor="middle" font-family="Liberation Sans, sans-serif" fill="#222">120</text>
<line x1="407.31" y1="197" x2="407.31" y2="200.3" stroke="#222" stroke-width="1.0"/>
<line x1="435.78" y1="197" x2="435.78" y2="200.3" stroke="#222" stroke-width="1.0"/>
<text x="435.78" y="209" font-size="9.3" text-anchor="middle" font-family="Liberation Sans, sans-serif" fill="#222">140</text>
<line x1="464.25" y1="197" x2="464.25" y2="200.3" stroke="#222" stroke-width="1.0"/>
<line x1="492.72" y1="197" x2="492.72" y2="200.3" stroke="#222" stroke-width="1.0"/>
<text x="492.72" y="209" font-size="9.3" text-anchor="middle" font-family="Liberation Sans, sans-serif" fill="#222">160</text>
<text x="406.5" y="219.8" font-size="11.4" text-anchor="middle" font-family="Liberation Sans, sans-serif" fill="#222">elution volume (ml)</text>
<text transform="translate(284.3,107.5) rotate(-90)" font-size="12" font-family="Liberation Sans, sans-serif" fill="#222">A<tspan font-size="8.5" dy="3">280</tspan></text>
<line x1="455.8" y1="12.60" x2="473.7" y2="12.60" stroke="#ff2c12" stroke-width="1.6"/>
<text x="478.3" y="15.90" font-size="9.6" font-family="Liberation Sans, sans-serif" fill="#222">F12</text>
<line x1="455.8" y1="26.56" x2="473.7" y2="26.56" stroke="#ff961c" stroke-width="1.6"/>
<text x="478.3" y="29.86" font-size="9.6" font-family="Liberation Sans, sans-serif" fill="#222">F14</text>
<line x1="455.8" y1="40.52" x2="473.7" y2="40.52" stroke="#ffff8c" stroke-width="1.6"/>
<text x="478.3" y="43.82" font-size="9.6" font-family="Liberation Sans, sans-serif" fill="#222">F16</text>
<line x1="455.8" y1="54.48" x2="473.7" y2="54.48" stroke="#1cb81c" stroke-width="1.6"/>
<text x="478.3" y="57.78" font-size="9.6" font-family="Liberation Sans, sans-serif" fill="#222">F18</text>
<line x1="455.8" y1="68.44" x2="473.7" y2="68.44" stroke="#8cffff" stroke-width="1.6"/>
<text x="478.3" y="71.74" font-size="9.6" font-family="Liberation Sans, sans-serif" fill="#222">F21</text>
<line x1="455.8" y1="82.40" x2="473.7" y2="82.40" stroke="#1838f4" stroke-width="1.6"/>
<text x="478.3" y="85.70" font-size="9.6" font-family="Liberation Sans, sans-serif" fill="#222">F24</text>
<text x="-1.2" y="250.2" font-size="16" font-family="Liberation Sans, sans-serif" fill="#000">C</text>
<line x1="159.0" y1="243.3" x2="159.0" y2="416" stroke="#ababab" stroke-width="1.2" stroke-dasharray="3,0.6"/>
<text x="155.2" y="254.2" font-size="8.2" text-anchor="middle" font-family="Liberation Sans, sans-serif" fill="#222">3</text>
<line x1="174.9" y1="244.0" x2="174.9" y2="416" stroke="#ababab" stroke-width="1.2" stroke-dasharray="3,0.6"/>
<text x="170.5" y="254.2" font-size="8.2" text-anchor="middle" font-family="Liberation Sans, sans-serif" fill="#222">2</text>
<line x1="182.0" y1="243.3" x2="182.0" y2="416" stroke="#ababab" stroke-width="1.2" stroke-dasharray="3,0.6"/>
<text x="185.1" y="254.2" font-size="8.2" text-anchor="middle" font-family="Liberation Sans, sans-serif" fill="#222">1</text>
<path d="M34.70,253.60 C36.18,253.82 40.52,254.32 43.60,254.90 C46.68,255.48 50.95,256.53 53.20,257.10 C55.45,257.67 55.50,258.07 57.10,258.30 C58.70,258.53 61.20,258.32 62.80,258.50 C64.40,258.68 65.08,258.82 66.70,259.40 C68.32,259.98 70.73,261.25 72.50,262.00 C74.27,262.75 75.38,263.22 77.30,263.90 C79.22,264.58 81.88,265.38 84.00,266.10 C86.12,266.82 87.47,267.38 90.00,268.20 C92.53,269.02 95.87,269.62 99.20,271.00 C102.53,272.38 106.62,274.83 110.00,276.50 C113.38,278.17 116.60,279.32 119.50,281.00 C122.40,282.68 125.15,284.52 127.40,286.60 C129.65,288.68 131.15,291.02 133.00,293.50 C134.85,295.98 136.50,298.80 138.50,301.50 C140.50,304.20 142.70,304.92 145.00,309.70 C147.30,314.48 149.93,324.10 152.30,330.20 C154.67,336.30 157.00,345.08 159.20,346.30 C161.40,347.52 163.22,340.30 165.50,337.50 C167.78,334.70 170.70,331.70 172.90,329.50 C175.10,327.30 177.12,325.28 178.70,324.30 C180.28,323.32 181.17,322.37 182.40,323.60 C183.63,324.83 185.00,328.65 186.10,331.70 C187.20,334.75 188.03,339.22 189.00,341.90 C189.97,344.58 190.68,346.33 191.90,347.80 C193.12,349.27 194.78,349.75 196.30,350.70 C197.82,351.65 199.10,351.07 201.00,353.50 C202.90,355.93 205.68,364.05 207.70,365.30 C209.72,366.55 211.52,362.27 213.10,361.00 C214.68,359.73 216.07,357.57 217.20,357.70 C218.33,357.83 218.55,358.63 219.90,361.80 C221.25,364.97 223.50,373.77 225.30,376.70 C227.10,379.63 229.12,380.30 230.70,379.40 C232.28,378.50 233.43,371.30 234.80,371.30 C236.17,371.30 237.32,377.07 238.90,379.40 C240.48,381.73 242.73,384.48 244.30,385.30 C245.87,386.12 247.18,384.30 248.30,384.30 C249.42,384.30 250.55,385.13 251.00,385.30" fill="none" stroke="#ff2c12" stroke-width="1.8" stroke-linejoin="round"/>
<path d="M34.70,259.10 C37.78,259.25 48.52,259.68 53.20,260.00 C57.88,260.32 59.58,260.60 62.80,261.00 C66.02,261.40 70.08,261.92 72.50,262.40 C74.92,262.88 75.38,263.42 77.30,263.90 C79.22,264.38 81.88,264.72 84.00,265.30 C86.12,265.88 87.47,266.45 90.00,267.40 C92.53,268.35 95.87,269.52 99.20,271.00 C102.53,272.48 106.62,274.63 110.00,276.30 C113.38,277.97 116.60,279.28 119.50,281.00 C122.40,282.72 125.15,284.60 127.40,286.60 C129.65,288.60 131.15,290.63 133.00,293.00 C134.85,295.37 136.50,298.15 138.50,300.80 C140.50,303.45 142.70,304.73 145.00,308.90 C147.30,313.07 149.93,321.03 152.30,325.80 C154.67,330.57 157.00,336.52 159.20,337.50 C161.40,338.48 163.22,333.35 165.50,331.70 C167.78,330.05 170.70,328.95 172.90,327.60 C175.10,326.25 177.00,323.65 178.70,323.60 C180.40,323.55 181.63,324.48 183.10,327.30 C184.57,330.12 186.27,336.83 187.50,340.50 C188.73,344.17 189.52,347.23 190.50,349.30 C191.48,351.37 192.18,352.67 193.40,352.90 C194.62,353.13 196.53,350.68 197.80,350.70 C199.07,350.72 199.35,350.70 201.00,353.00 C202.65,355.30 205.45,363.17 207.70,364.50 C209.95,365.83 212.23,360.33 214.50,361.00 C216.77,361.67 219.05,366.57 221.30,368.50 C223.55,370.43 225.75,373.27 228.00,372.60 C230.25,371.93 232.85,364.27 234.80,364.50 C236.75,364.73 237.90,372.52 239.70,374.00 C241.50,375.48 243.72,373.50 245.60,373.40 C247.48,373.30 250.10,373.40 251.00,373.40" fill="none" stroke="#ff961c" stroke-width="1.8" stroke-linejoin="round"/>
<path d="M34.70,265.60 C37.75,265.70 46.08,265.80 53.00,266.20 C59.92,266.60 70.42,267.45 76.20,268.00 C81.98,268.55 83.87,268.92 87.70,269.50 C91.53,270.08 95.48,270.50 99.20,271.50 C102.92,272.50 106.62,274.03 110.00,275.50 C113.38,276.97 116.60,278.72 119.50,280.30 C122.40,281.88 125.15,283.22 127.40,285.00 C129.65,286.78 131.15,288.63 133.00,291.00 C134.85,293.37 136.50,296.82 138.50,299.20 C140.50,301.58 142.70,301.85 145.00,305.30 C147.30,308.75 149.85,315.80 152.30,319.90 C154.75,324.00 157.50,329.03 159.70,329.90 C161.90,330.77 163.30,326.72 165.50,325.10 C167.70,323.48 170.70,320.82 172.90,320.20 C175.10,319.58 177.00,320.22 178.70,321.40 C180.40,322.58 181.63,324.37 183.10,327.30 C184.57,330.23 186.27,335.83 187.50,339.00 C188.73,342.17 189.27,344.47 190.50,346.30 C191.73,348.13 193.32,349.13 194.90,350.00 C196.48,350.87 198.08,349.40 200.00,351.50 C201.92,353.60 204.22,361.12 206.40,362.60 C208.58,364.08 211.30,360.53 213.10,360.40 C214.90,360.27 215.83,360.67 217.20,361.80 C218.57,362.93 219.72,366.08 221.30,367.20 C222.88,368.32 224.68,369.18 226.70,368.50 C228.72,367.82 231.37,362.87 233.40,363.10 C235.43,363.33 237.08,369.00 238.90,369.90 C240.72,370.80 242.28,368.73 244.30,368.50 C246.32,368.27 249.88,368.50 251.00,368.50" fill="none" stroke="#1cb81c" stroke-width="1.8" stroke-linejoin="round"/>
<path d="M34.70,273.70 C37.75,273.77 45.45,273.85 53.00,274.10 C60.55,274.35 72.30,274.58 80.00,275.20 C87.70,275.82 93.93,276.95 99.20,277.80 C104.47,278.65 107.17,279.23 111.60,280.30 C116.03,281.37 122.40,282.83 125.80,284.20 C129.20,285.57 129.88,287.03 132.00,288.50 C134.12,289.97 136.33,291.42 138.50,293.00 C140.67,294.58 142.70,296.28 145.00,298.00 C147.30,299.72 149.98,301.67 152.30,303.30 C154.62,304.93 156.45,306.50 158.90,307.80 C161.35,309.10 164.43,309.85 167.00,311.10 C169.57,312.35 172.10,313.55 174.30,315.30 C176.50,317.05 178.60,319.45 180.20,321.60 C181.80,323.75 182.80,325.88 183.90,328.20 C185.00,330.52 185.70,333.10 186.80,335.50 C187.90,337.90 189.15,340.80 190.50,342.60 C191.85,344.40 193.32,345.43 194.90,346.30 C196.48,347.17 198.32,347.02 200.00,347.80 C201.68,348.58 203.27,349.57 205.00,351.00 C206.73,352.43 208.73,354.98 210.40,356.40 C212.07,357.82 213.18,358.47 215.00,359.50 C216.82,360.53 218.90,361.90 221.30,362.60 C223.70,363.30 227.15,363.97 229.40,363.70 C231.65,363.43 233.22,360.73 234.80,361.00 C236.38,361.27 237.53,364.58 238.90,365.30 C240.27,366.02 240.98,365.48 243.00,365.30 C245.02,365.12 249.67,364.38 251.00,364.20" fill="none" stroke="#1838f4" stroke-width="1.8" stroke-linejoin="round"/>
<line x1="33" y1="243.3" x2="33" y2="416.6" stroke="#2a2a2a" stroke-width="1.5"/>
<line x1="28.8" y1="416" x2="249.8" y2="416" stroke="#1e1e1e" stroke-width="1.5"/>
<line x1="28.8" y1="415.92" x2="33" y2="415.92" stroke="#222" stroke-width="1.0"/>
<line x1="30.6" y1="407.32" x2="33" y2="407.32" stroke="#333" stroke-width="0.9"/>
<line x1="30.6" y1="402.29" x2="33" y2="402.29" stroke="#333" stroke-width="0.9"/>
<line x1="30.6" y1="398.72" x2="33" y2="398.72" stroke="#333" stroke-width="0.9"/>
<line x1="30.6" y1="395.95" x2="33" y2="395.95" stroke="#333" stroke-width="0.9"/>
<line x1="30.6" y1="393.69" x2="33" y2="393.69" stroke="#333" stroke-width="0.9"/>
<line x1="30.6" y1="391.78" x2="33" y2="391.78" stroke="#333" stroke-width="0.9"/>
<line x1="30.6" y1="390.12" x2="33" y2="390.12" stroke="#333" stroke-width="0.9"/>
<line x1="30.6" y1="388.66" x2="33" y2="388.66" stroke="#333" stroke-width="0.9"/>
<text x="27.00" y="418.92" font-size="8.60" text-anchor="end" font-family="Liberation Sans, sans-serif" fill="#222">10<tspan font-size="6.20" dy="-3.4" dx="0.3">-5</tspan></text>
<line x1="28.8" y1="387.35" x2="33" y2="387.35" stroke="#222" stroke-width="1.0"/>
<line x1="30.6" y1="378.75" x2="33" y2="378.75" stroke="#333" stroke-width="0.9"/>
<line x1="30.6" y1="373.72" x2="33" y2="373.72" stroke="#333" stroke-width="0.9"/>
<line x1="30.6" y1="370.15" x2="33" y2="370.15" stroke="#333" stroke-width="0.9"/>
<line x1="30.6" y1="367.38" x2="33" y2="367.38" stroke="#333" stroke-width="0.9"/>
<line x1="30.6" y1="365.12" x2="33" y2="365.12" stroke="#333" stroke-width="0.9"/>
<line x1="30.6" y1="363.21" x2="33" y2="363.21" stroke="#333" stroke-width="0.9"/>
<line x1="30.6" y1="361.55" x2="33" y2="361.55" stroke="#333" stroke-width="0.9"/>
<line x1="30.6" y1="360.09" x2="33" y2="360.09" stroke="#333" stroke-width="0.9"/>
<text x="27.00" y="390.35" font-size="8.60" text-anchor="end" font-family="Liberation Sans, sans-serif" fill="#222">10<tspan font-size="6.20" dy="-3.4" dx="0.3">-4</tspan></text>
<line x1="28.8" y1="358.78" x2="33" y2="358.78" stroke="#222" stroke-width="1.0"/>
<line x1="30.6" y1="350.18" x2="33" y2="350.18" stroke="#333" stroke-width="0.9"/>
<line x1="30.6" y1="345.15" x2="33" y2="345.15" stroke="#333" stroke-width="0.9"/>
<line x1="30.6" y1="341.58" x2="33" y2="341.58" stroke="#333" stroke-width="0.9"/>
<line x1="30.6" y1="338.81" x2="33" y2="338.81" stroke="#333" stroke-width="0.9"/>
<line x1="30.6" y1="336.55" x2="33" y2="336.55" stroke="#333" stroke-width="0.9"/>
<line x1="30.6" y1="334.64" x2="33" y2="334.64" stroke="#333" stroke-width="0.9"/>
<line x1="30.6" y1="332.98" x2="33" y2="332.98" stroke="#333" stroke-width="0.9"/>
<line x1="30.6" y1="331.52" x2="33" y2="331.52" stroke="#333" stroke-width="0.9"/>
<text x="27.00" y="361.78" font-size="8.60" text-anchor="end" font-family="Liberation Sans, sans-serif" fill="#222">10<tspan font-size="6.20" dy="-3.4" dx="0.3">-3</tspan></text>
<line x1="28.8" y1="330.21" x2="33" y2="330.21" stroke="#222" stroke-width="1.0"/>
<line x1="30.6" y1="321.61" x2="33" y2="321.61" stroke="#333" stroke-width="0.9"/>
<line x1="30.6" y1="316.58" x2="33" y2="316.58" stroke="#333" stroke-width="0.9"/>
<line x1="30.6" y1="313.01" x2="33" y2="313.01" stroke="#333" stroke-width="0.9"/>
<line x1="30.6" y1="310.24" x2="33" y2="310.24" stroke="#333" stroke-width="0.9"/>
<line x1="30.6" y1="307.98" x2="33" y2="307.98" stroke="#333" stroke-width="0.9"/>
<line x1="30.6" y1="306.07" x2="33" y2="306.07" stroke="#333" stroke-width="0.9"/>
<line x1="30.6" y1="304.41" x2="33" y2="304.41" stroke="#333" stroke-width="0.9"/>
<line x1="30.6" y1="302.95" x2="33" y2="302.95" stroke="#333" stroke-width="0.9"/>
<text x="27.00" y="333.21" font-size="8.60" text-anchor="end" font-family="Liberation Sans, sans-serif" fill="#222">10<tspan font-size="6.20" dy="-3.4" dx="0.3">-2</tspan></text>
<line x1="28.8" y1="301.64" x2="33" y2="301.64" stroke="#222" stroke-width="1.0"/>
<line x1="30.6" y1="293.04" x2="33" y2="293.04" stroke="#333" stroke-width="0.9"/>
<line x1="30.6" y1="288.01" x2="33" y2="288.01" stroke="#333" stroke-width="0.9"/>
<line x1="30.6" y1="284.44" x2="33" y2="284.44" stroke="#333" stroke-width="0.9"/>
<line x1="30.6" y1="281.67" x2="33" y2="281.67" stroke="#333" stroke-width="0.9"/>
<line x1="30.6" y1="279.41" x2="33" y2="279.41" stroke="#333" stroke-width="0.9"/>
<line x1="30.6" y1="277.50" x2="33" y2="277.50" stroke="#333" stroke-width="0.9"/>
<line x1="30.6" y1="275.84" x2="33" y2="275.84" stroke="#333" stroke-width="0.9"/>
<line x1="30.6" y1="274.38" x2="33" y2="274.38" stroke="#333" stroke-width="0.9"/>
<text x="27.00" y="304.64" font-size="8.60" text-anchor="end" font-family="Liberation Sans, sans-serif" fill="#222">10<tspan font-size="6.20" dy="-3.4" dx="0.3">-1</tspan></text>
<line x1="28.8" y1="273.07" x2="33" y2="273.07" stroke="#222" stroke-width="1.0"/>
<line x1="30.6" y1="264.47" x2="33" y2="264.47" stroke="#333" stroke-width="0.9"/>
<line x1="30.6" y1="259.44" x2="33" y2="259.44" stroke="#333" stroke-width="0.9"/>
<line x1="30.6" y1="255.87" x2="33" y2="255.87" stroke="#333" stroke-width="0.9"/>
<line x1="30.6" y1="253.10" x2="33" y2="253.10" stroke="#333" stroke-width="0.9"/>
<line x1="30.6" y1="250.84" x2="33" y2="250.84" stroke="#333" stroke-width="0.9"/>
<line x1="30.6" y1="248.93" x2="33" y2="248.93" stroke="#333" stroke-width="0.9"/>
<line x1="30.6" y1="247.27" x2="33" y2="247.27" stroke="#333" stroke-width="0.9"/>
<line x1="30.6" y1="245.81" x2="33" y2="245.81" stroke="#333" stroke-width="0.9"/>
<text x="27.00" y="276.07" font-size="8.60" text-anchor="end" font-family="Liberation Sans, sans-serif" fill="#222">10<tspan font-size="6.20" dy="-3.4" dx="0.3">0</tspan></text>
<line x1="28.8" y1="244.50" x2="33" y2="244.50" stroke="#222" stroke-width="1.0"/>
<text x="27.00" y="247.50" font-size="8.60" text-anchor="end" font-family="Liberation Sans, sans-serif" fill="#222">10<tspan font-size="6.20" dy="-3.4" dx="0.3">1</tspan></text>
<line x1="40.88" y1="416" x2="40.88" y2="418.50" stroke="#222" stroke-width="1.0"/>
<line x1="49.99" y1="416" x2="49.99" y2="418.50" stroke="#222" stroke-width="1.0"/>
<line x1="57.69" y1="416" x2="57.69" y2="418.50" stroke="#222" stroke-width="1.0"/>
<line x1="64.36" y1="416" x2="64.36" y2="418.50" stroke="#222" stroke-width="1.0"/>
<line x1="70.24" y1="416" x2="70.24" y2="418.50" stroke="#222" stroke-width="1.0"/>
<line x1="75.50" y1="416" x2="75.50" y2="420.20" stroke="#222" stroke-width="1.0"/>
<line x1="110.12" y1="416" x2="110.12" y2="418.50" stroke="#222" stroke-width="1.0"/>
<line x1="130.37" y1="416" x2="130.37" y2="418.50" stroke="#222" stroke-width="1.0"/>
<line x1="144.74" y1="416" x2="144.74" y2="418.50" stroke="#222" stroke-width="1.0"/>
<line x1="155.88" y1="416" x2="155.88" y2="418.50" stroke="#222" stroke-width="1.0"/>
<line x1="164.99" y1="416" x2="164.99" y2="418.50" stroke="#222" stroke-width="1.0"/>
<line x1="172.69" y1="416" x2="172.69" y2="418.50" stroke="#222" stroke-width="1.0"/>
<line x1="179.36" y1="416" x2="179.36" y2="418.50" stroke="#222" stroke-width="1.0"/>
<line x1="185.24" y1="416" x2="185.24" y2="418.50" stroke="#222" stroke-width="1.0"/>
<text x="75.00" y="431.20" font-size="8.60" text-anchor="middle" font-family="Liberation Sans, sans-serif" fill="#222">10<tspan font-size="6.20" dy="-3.4" dx="0.3">-2</tspan></text>
<line x1="190.50" y1="416" x2="190.50" y2="420.20" stroke="#222" stroke-width="1.0"/>
<line x1="225.12" y1="416" x2="225.12" y2="418.50" stroke="#222" stroke-width="1.0"/>
<line x1="245.37" y1="416" x2="245.37" y2="418.50" stroke="#222" stroke-width="1.0"/>
<text x="190.00" y="431.20" font-size="8.60" text-anchor="middle" font-family="Liberation Sans, sans-serif" fill="#222">10<tspan font-size="6.20" dy="-3.4" dx="0.3">-1</tspan></text>
<text transform="translate(8.3,338.2) rotate(-90)" font-size="10.2" font-family="Liberation Sans, sans-serif" fill="#222" stroke="#222" stroke-width="0.3">I(q)</text>
<text x="126.4" y="441.2" font-size="11.2" font-family="Liberation Sans, sans-serif" fill="#222">q (Å<tspan font-size="7.5" dy="-4.5">-1</tspan><tspan dy="4.5">)</tspan></text>
<line x1="201.2" y1="243.70" x2="218.9" y2="243.70" stroke="#ff2c12" stroke-width="1.8"/>
<text x="223.4" y="246.70" font-size="8.45" font-family="Liberation Sans, sans-serif" fill="#222">40-mer</text>
<line x1="201.2" y1="261.60" x2="218.9" y2="261.60" stroke="#ff961c" stroke-width="1.8"/>
<text x="223.4" y="264.60" font-size="8.45" font-family="Liberation Sans, sans-serif" fill="#222">20-mer</text>
<line x1="201.2" y1="278.70" x2="218.9" y2="278.70" stroke="#1cb81c" stroke-width="1.8"/>
<text x="223.4" y="281.70" font-size="8.45" font-family="Liberation Sans, sans-serif" fill="#222">10-mer</text>
<line x1="201.2" y1="296.40" x2="218.9" y2="296.40" stroke="#1838f4" stroke-width="1.8"/>
<text x="223.4" y="299.40" font-size="8.45" font-family="Liberation Sans, sans-serif" fill="#222">4-mer</text>
<text x="267.8" y="249.8" font-size="15.7" font-family="Liberation Sans, sans-serif" fill="#000">D</text>
<g clip-path="url(#clipD)">
<path d="M304.60,259.50 C307.17,260.02 314.83,261.60 320.00,262.60 C325.17,263.60 330.60,264.45 335.60,265.50 C340.60,266.55 344.77,267.62 350.00,268.90 C355.23,270.18 361.87,271.60 367.00,273.20 C372.13,274.80 375.82,275.95 380.80,278.50 C385.78,281.05 391.90,284.53 396.90,288.50 C401.90,292.47 407.78,299.13 410.80,302.30 C413.82,305.47 414.30,306.63 415.00,307.50" fill="none" stroke="#1838f4" stroke-width="1.2"/>
<polyline points="415.00,306.5 415.17,306.7 415.34,306.9 415.51,307.1 415.68,307.3 415.85,307.5 416.02,307.7 416.19,307.9 416.36,308.1 416.53,308.3 416.70,308.4 416.87,308.7 417.04,308.9 417.21,309.1 417.38,309.3 417.55,309.4 417.72,309.7 417.89,309.9 418.06,310.0 418.23,310.3 418.40,310.5 418.57,310.8 418.74,310.8 418.91,311.1 419.08,311.2 419.25,311.6 419.42,311.8 419.59,311.8 419.76,312.4 419.93,312.6 420.10,312.6 420.27,313.2 420.44,313.1 420.61,313.7 420.78,313.8 420.95,313.7 421.12,314.4 421.29,314.4 421.46,314.5 421.63,314.8 421.80,315.0 421.97,315.5 422.14,316.1 422.31,315.7 422.48,323.8 422.65,326.6 422.82,316.9 422.99,316.8 423.16,317.1 423.33,317.6 423.50,318.3 423.67,317.8 423.84,317.9 424.01,318.3 424.18,319.1 424.35,319.2 424.52,319.8 424.69,319.6 424.86,320.1 425.03,319.5 425.20,319.9 425.37,319.9 425.54,320.3 425.71,321.0 425.88,321.3 426.05,330.0 426.22,326.3 426.39,321.8 426.56,321.9 426.73,322.0 426.90,322.5 427.07,322.3 427.24,322.6 427.41,323.0 427.58,323.9 427.75,323.3 427.92,323.7 428.09,327.0 428.26,324.3 428.43,324.2 428.60,324.8 428.77,324.0 428.94,325.0 429.11,324.4 429.28,324.1 429.45,324.1 429.62,324.6 429.79,325.7 429.96,335.5 430.13,325.2 430.30,326.0 430.47,325.4 430.64,325.9 430.81,326.3 430.98,326.5 431.15,326.1 431.32,330.5 431.49,326.1 431.66,325.6 431.83,331.9 432.00,325.6 432.17,326.1 432.34,326.6 432.51,326.1 432.68,327.2 432.85,327.5 433.02,327.4 433.19,327.1 433.36,332.7 433.53,327.9 433.70,337.8 433.87,327.2 434.04,327.0 434.21,328.1 434.38,328.0 434.55,327.2 434.72,336.7 434.89,328.6 435.06,327.3 435.23,328.3 435.40,327.6 435.57,327.4 435.74,328.1 435.91,327.3 436.08,328.1 436.25,328.4 436.42,327.6 436.59,329.7 436.76,328.2 436.93,327.6 437.10,327.3 437.27,335.7 437.44,328.1 437.61,327.2 437.78,327.3 437.95,328.3 438.12,327.9 438.29,327.8 438.46,327.3 438.63,327.4 438.80,327.7 438.97,327.3 439.14,327.9 439.31,327.2 439.48,327.8 439.65,327.3 439.82,327.7 439.99,327.1 440.16,327.8 440.33,327.1 440.50,327.8 440.67,327.2 440.84,327.7 441.01,328.2 441.18,334.0 441.35,327.2 441.52,328.1 441.69,328.1 441.86,328.0 442.03,327.6 442.20,337.0 442.37,328.0 442.54,327.9 442.71,327.2 442.88,327.8 443.05,327.9 443.22,328.0 443.39,328.1 443.56,327.3 443.73,327.3 443.90,328.2 444.07,327.8 444.24,327.7 444.41,328.1 444.58,328.1 444.75,334.9 444.92,327.7 445.09,328.2 445.26,327.2 445.43,336.9 445.60,335.0 445.77,328.2 445.94,328.2 446.11,328.0 446.28,327.6 446.45,327.4 446.62,327.8 446.79,328.4 446.96,327.6 447.13,327.9 447.30,327.8 447.47,328.0 447.64,327.6 447.81,328.3 447.98,328.3 448.15,328.0 448.32,328.5 448.49,328.6 448.66,328.7 448.83,329.8 449.00,328.2 449.17,328.5 449.34,328.4 449.51,337.6 449.68,328.8 449.85,327.8 450.02,328.9 450.19,328.3 450.36,328.9 450.53,328.1 450.70,328.3 450.87,327.8 451.04,328.2 451.21,329.0 451.38,327.8 451.55,328.4 451.72,328.5 451.89,328.5 452.06,328.8 452.23,328.1 452.40,329.3 452.57,337.0 452.74,328.6 452.91,328.6 453.08,328.9 453.25,329.0 453.42,329.7 453.59,329.4 453.76,329.5 453.93,329.6 454.10,337.1 454.27,335.2 454.44,330.5 454.61,331.0 454.78,331.0 454.95,330.8 455.12,340.1 455.29,331.8 455.46,338.6 455.63,332.1 455.80,331.9 455.97,339.9 456.14,333.0 456.31,332.2 456.48,333.4 456.65,331.9 456.82,333.7 456.99,332.1 457.16,332.4 457.33,334.6 457.50,341.4 457.67,334.4 457.84,334.8 458.01,335.0 458.18,336.3 458.35,334.8 458.52,336.8 458.69,335.0 458.86,337.0 459.03,337.4 459.20,337.8 459.37,335.7 459.54,337.3 459.71,337.4 459.88,337.8 460.05,338.4 460.22,338.3 460.39,338.1 460.56,337.2 460.73,340.5 460.90,340.5 461.07,339.8 461.24,340.0 461.41,340.6 461.58,340.3 461.75,342.0 461.92,339.6 462.09,342.2 462.26,341.5 462.43,340.2 462.60,343.2 462.77,343.4 462.94,340.8 463.11,341.9 463.28,341.9 463.45,343.4 463.62,344.6 463.79,341.6 463.96,344.5 464.13,344.3 464.30,343.2 464.47,344.5 464.64,344.8 464.81,342.4 464.98,342.7 465.15,342.6 465.32,345.8 465.49,346.7 465.66,344.4 465.83,394.8 466.00,343.5 466.17,354.2 466.34,343.9 466.51,346.0 466.68,345.0 466.85,343.9 467.02,344.9 467.19,346.6 467.36,345.7 467.53,346.1 467.70,347.1 467.87,344.5 468.04,348.2 468.21,347.7 468.38,345.0 468.55,345.7 468.72,347.0 468.89,348.9 469.06,348.7 469.23,346.5 469.40,345.8 469.57,347.8 469.74,391.7 469.91,346.4 470.08,348.0 470.25,346.4 470.42,349.9 470.59,346.3 470.76,347.3 470.93,349.7 471.10,349.1 471.27,346.3 471.44,349.8 471.61,348.7 471.78,347.8 471.95,349.6 472.12,399.8 472.29,394.3 472.46,347.6 472.63,346.7 472.80,349.7 472.97,347.0 473.14,350.0 473.31,349.3 473.48,347.7 473.65,347.4 473.82,349.3 473.99,347.1 474.16,350.3 474.33,350.1 474.50,348.6 474.67,347.5 474.84,347.7 475.01,347.4 475.18,348.3 475.35,349.5 475.52,347.1 475.69,347.4 475.86,350.7 476.03,347.5 476.20,350.4 476.37,349.1 476.54,349.7 476.71,348.5 476.88,348.2 477.05,351.0 477.22,349.4 477.39,350.1 477.56,347.6 477.73,349.9 477.90,350.8 478.07,349.3 478.24,348.1 478.41,349.3 478.58,347.7 478.75,350.7 478.92,348.7 479.09,349.6 479.26,348.4 479.43,348.0 479.60,350.1 479.77,348.4 479.94,351.1 480.11,348.0 480.28,350.5 480.45,349.4 480.62,351.5 480.79,350.8 480.96,350.5 481.13,350.4 481.30,349.1 481.47,350.1 481.64,350.2 481.81,348.3 481.98,351.6 482.15,348.9 482.32,348.9 482.49,349.9 482.66,350.4 482.83,349.5 483.00,348.7 483.17,349.7 483.34,348.8 483.51,349.2 483.68,348.8 483.85,348.7 484.02,349.0 484.19,351.4 484.36,351.2 484.53,351.9 484.70,350.8 484.87,351.7 485.04,349.7 485.21,349.7 485.38,350.9 485.55,351.6 485.72,350.4 485.89,349.0 486.06,351.1 486.23,351.8 486.40,351.0 486.57,349.9 486.74,350.4 486.91,351.5 487.08,351.2 487.25,350.3 487.42,349.8 487.59,349.6 487.76,352.2 487.93,350.6 488.10,351.3 488.27,351.1 488.44,350.5 488.61,350.4 488.78,350.9 488.95,352.2 489.12,351.7 489.29,350.2 489.46,350.7 489.63,352.6 489.80,352.5 489.97,351.6 490.14,352.5 490.31,353.0 490.48,352.9 490.65,350.5 490.82,353.7 490.99,351.1 491.16,350.9 491.33,351.5 491.50,352.8 491.67,351.0 491.84,354.0 492.01,352.1 492.18,352.2 492.35,353.5 492.52,352.1 492.69,351.7 492.86,352.6 493.03,354.3 493.20,352.8 493.37,354.3 493.54,351.7 493.71,351.4 493.88,353.2 494.05,351.7 494.22,377.8 494.39,351.5 494.56,353.5 494.73,351.9 494.90,353.4 495.07,353.5 495.24,353.5 495.41,354.0 495.58,352.1 495.75,354.5 495.92,354.7 496.09,354.1 496.26,352.2 496.43,353.2 496.60,353.9 496.77,352.5 496.94,353.6 497.11,353.6 497.28,354.4 497.45,353.0 497.62,354.4 497.79,354.2 497.96,353.1 498.13,354.7 498.30,354.6 498.47,354.2 498.64,354.2 498.81,353.2 498.98,353.1 499.15,354.6 499.32,355.5 499.49,353.0 499.66,353.3 499.83,355.7 500.00,355.5 500.17,353.5 500.34,353.4 500.51,354.6 500.68,354.6 500.85,355.6 501.02,355.8 501.19,354.3 501.36,356.0 501.53,354.9 501.70,353.8 501.87,355.1 502.04,353.6 502.21,353.1 502.38,353.6 502.55,354.9 502.72,355.0 502.89,352.9 503.06,353.3 503.23,352.4 503.40,353.8 503.57,351.9 503.74,351.6 503.91,354.2 504.08,352.4 504.25,352.3 504.42,353.0 504.59,351.8 504.76,352.1 504.93,352.4 505.10,350.9 505.27,352.1 505.44,352.9 505.61,352.4 505.78,350.4 505.95,352.3 506.12,352.4 506.29,351.3 506.46,349.7 506.63,352.9 506.80,349.8 506.97,350.2 507.14,351.5 507.31,350.8 507.48,349.3 507.65,351.2 507.82,348.9 507.99,350.1 508.16,350.4 508.33,350.8 508.50,349.6 508.67,349.0 508.84,349.0 509.01,350.3 509.18,349.2 509.35,349.2 509.52,349.6 509.69,348.3 509.86,350.6 510.03,349.6 510.20,349.7 510.37,348.2 510.54,347.0 510.71,347.1 510.88,349.0 511.05,349.0 511.22,347.3 511.39,349.1 511.56,348.5 511.73,348.0 511.90,347.9 512.07,348.0 512.24,346.6 512.41,345.2 512.58,345.4 512.75,344.9 512.92,346.3 513.09,347.1 513.26,345.1 513.43,347.0 513.60,344.5 513.77,344.7 513.94,347.3 514.11,346.4 514.28,347.7 514.45,347.1 514.62,345.8 514.79,343.6 514.96,346.6 515.13,346.8 515.30,346.2 515.47,344.2 515.64,344.6 515.81,343.3 515.98,343.8 516.15,345.4 516.32,343.6 516.49,342.6 516.66,341.2 516.83,341.9 517.00,342.9 517.17,341.9 517.34,344.4 517.51,344.3 517.68,339.4 517.85,342.8 518.02,341.1 518.19,341.9 518.36,339.3 518.53,342.8 518.70,341.7 518.87,339.1 519.04,341.9 519.21,339.0 519.38,341.5 519.55,341.1 519.72,338.9 519.89,340.1 520.06,340.2 520.23,337.9 520.40,337.5 520.57,341.3 520.74,338.0 520.91,340.5" fill="none" stroke="#1838f4" stroke-width="0.7" stroke-linejoin="bevel"/>
<path d="M304.60,262.20 C307.17,262.63 314.83,263.97 320.00,264.80 C325.17,265.63 330.60,266.28 335.60,267.20 C340.60,268.12 344.77,269.00 350.00,270.30 C355.23,271.60 361.87,273.42 367.00,275.00 C372.13,276.58 375.82,277.38 380.80,279.80 C385.78,282.22 391.90,285.38 396.90,289.50 C401.90,293.62 407.78,301.17 410.80,304.50 C413.82,307.83 414.30,308.67 415.00,309.50" fill="none" stroke="#8cffff" stroke-width="1.2"/>
<polyline points="415.00,309.5 415.17,309.8 415.34,310.0 415.51,310.2 415.68,310.4 415.85,310.5 416.02,310.9 416.19,311.3 416.36,311.7 416.53,311.6 416.70,312.4 416.87,311.9 417.04,312.7 417.21,312.2 417.38,312.6 417.55,312.7 417.72,314.2 417.89,314.0 418.06,314.1 418.23,314.9 418.40,315.3 418.57,314.5 418.74,315.7 418.91,314.8 419.08,315.9 419.25,316.5 419.42,315.7 419.59,316.6 419.76,317.1 419.93,315.7 420.10,317.8 420.27,316.5 420.44,317.0 420.61,317.2 420.78,317.6 420.95,320.6 421.12,318.8 421.29,321.1 421.46,318.1 421.63,318.9 421.80,317.9 421.97,320.7 422.14,321.3 422.31,319.5 422.48,327.2 422.65,323.5 422.82,324.4 422.99,320.7 423.16,320.6 423.33,323.9 423.50,327.6 423.67,337.5 423.84,338.4 424.01,322.0 424.18,327.1 424.35,325.4 424.52,323.9 424.69,328.2 424.86,329.9 425.03,329.2 425.20,324.5 425.37,327.9 425.54,329.6 425.71,329.7 425.88,331.6 426.05,326.6 426.22,328.0 426.39,323.8 426.56,330.5 426.73,327.9 426.90,334.3 427.07,330.7 427.24,332.6 427.41,334.7 427.58,344.5 427.75,329.4 427.92,328.3 428.09,334.4 428.26,335.0 428.43,326.9 428.60,333.5 428.77,332.2 428.94,329.4 429.11,344.1 429.28,337.1 429.45,344.5 429.62,336.3 429.79,336.4 429.96,333.9 430.13,334.9 430.30,330.6 430.47,330.9 430.64,337.0 430.81,336.9 430.98,330.5 431.15,338.0 431.32,335.4 431.49,330.9 431.66,329.7 431.83,336.4 432.00,329.8 432.17,333.5 432.34,340.8 432.51,327.5 432.68,334.2 432.85,337.8 433.02,328.9 433.19,331.6 433.36,330.9 433.53,334.2 433.70,345.3 433.87,328.0 434.04,335.3 434.21,336.2 434.38,337.4 434.55,334.7 434.72,330.8 434.89,328.6 435.06,328.1 435.23,332.0 435.40,332.3 435.57,334.0 435.74,333.7 435.91,327.6 436.08,336.8 436.25,334.6 436.42,334.5 436.59,336.3 436.76,331.9 436.93,329.2 437.10,328.2 437.27,340.6 437.44,335.0 437.61,333.8 437.78,330.6 437.95,331.2 438.12,333.2 438.29,332.7 438.46,334.1 438.63,332.3 438.80,334.1 438.97,332.7 439.14,339.7 439.31,329.2 439.48,328.7 439.65,333.7 439.82,332.2 439.99,331.5 440.16,335.4 440.33,344.7 440.50,334.4 440.67,334.2 440.84,333.3 441.01,328.6 441.18,335.1 441.35,330.4 441.52,331.4 441.69,339.8 441.86,334.7 442.03,332.9 442.20,330.1 442.37,334.1 442.54,333.4 442.71,330.4 442.88,330.2 443.05,332.0 443.22,335.5 443.39,336.0 443.56,329.5 443.73,337.7 443.90,331.1 444.07,334.9 444.24,336.1 444.41,333.3 444.58,335.7 444.75,332.4 444.92,343.6 445.09,336.0 445.26,333.0 445.43,330.2 445.60,330.9 445.77,331.6 445.94,335.6 446.11,343.9 446.28,333.1 446.45,332.2 446.62,333.8 446.79,330.0 446.96,335.7 447.13,330.4 447.30,341.0 447.47,336.1 447.64,334.0 447.81,339.8 447.98,335.9 448.15,330.6 448.32,330.1 448.49,342.7 448.66,332.1 448.83,345.9 449.00,332.1 449.17,340.8 449.34,329.3 449.51,328.5 449.68,335.0 449.85,347.1 450.02,330.8 450.19,329.4 450.36,332.4 450.53,333.6 450.70,332.1 450.87,330.5 451.04,332.9 451.21,337.1 451.38,335.8 451.55,335.9 451.72,336.2 451.89,340.3 452.06,330.2 452.23,330.2 452.40,338.7 452.57,334.2 452.74,330.7 452.91,335.2 453.08,334.6 453.25,330.7 453.42,335.1 453.59,337.4 453.76,339.3 453.93,339.6 454.10,334.4 454.27,331.2 454.44,332.4 454.61,335.8 454.78,334.9 454.95,331.7 455.12,338.8 455.29,340.6 455.46,338.2 455.63,334.2 455.80,344.9 455.97,330.9 456.14,342.4 456.31,342.4 456.48,335.6 456.65,335.9 456.82,340.5 456.99,332.1 457.16,347.6 457.33,339.4 457.50,334.9 457.67,343.2 457.84,333.6 458.01,338.6 458.18,332.7 458.35,334.1 458.52,344.6 458.69,342.5 458.86,358.2 459.03,384.0 459.20,334.0 459.37,394.4 459.54,343.9 459.71,348.8 459.88,336.2 460.05,342.5 460.22,348.0 460.39,411.5 460.56,339.9 460.73,409.3 460.90,392.8 461.07,346.3 461.24,353.8 461.41,348.3 461.58,409.5 461.75,350.7 461.92,408.8 462.09,361.2 462.26,337.4 462.43,341.5 462.60,372.6 462.77,363.3 462.94,336.1 463.11,349.4 463.28,340.4 463.45,351.3 463.62,349.4 463.79,392.5 463.96,336.5 464.13,342.0 464.30,349.9 464.47,347.2 464.64,361.4 464.81,352.6 464.98,341.6 465.15,360.1 465.32,348.0 465.49,365.0 465.66,352.8 465.83,339.5 466.00,354.0 466.17,353.8 466.34,354.0 466.51,339.6 466.68,361.3 466.85,338.2 467.02,398.5 467.19,340.9 467.36,365.3 467.53,352.3 467.70,403.4 467.87,345.7 468.04,339.5 468.21,341.8 468.38,352.3 468.55,358.7 468.72,355.6 468.89,366.5 469.06,358.5 469.23,343.1 469.40,362.4 469.57,348.2 469.74,353.9 469.91,362.7 470.08,362.9 470.25,355.8 470.42,352.9 470.59,368.0 470.76,352.8 470.93,347.3 471.10,358.6 471.27,341.9 471.44,366.0 471.61,362.4 471.78,359.5 471.95,340.3 472.12,352.6 472.29,344.4 472.46,353.6 472.63,353.1 472.80,412.1 472.97,357.8 473.14,360.4 473.31,367.7 473.48,357.2 473.65,353.0 473.82,361.2 473.99,357.6 474.16,344.5 474.33,346.0 474.50,363.0 474.67,345.0 474.84,350.5 475.01,356.8 475.18,363.5 475.35,353.5 475.52,345.6 475.69,346.1 475.86,344.6 476.03,364.7 476.20,341.7 476.37,368.8 476.54,399.4 476.71,356.5 476.88,344.0 477.05,347.9 477.22,348.9 477.39,411.4 477.56,341.9 477.73,350.1 477.90,355.6 478.07,361.4 478.24,346.3 478.41,361.2 478.58,343.8 478.75,368.0 478.92,353.0 479.09,342.7 479.26,368.8 479.43,343.9 479.60,365.3 479.77,398.7 479.94,406.2 480.11,355.0 480.28,362.7 480.45,356.6 480.62,361.1 480.79,342.7 480.96,359.9 481.13,365.3 481.30,398.4 481.47,342.7 481.64,360.0 481.81,368.2 481.98,357.4 482.15,357.8 482.32,345.5 482.49,356.0 482.66,355.0 482.83,395.5 483.00,395.6 483.17,345.3 483.34,348.2 483.51,368.0 483.68,350.2 483.85,352.0 484.02,366.2 484.19,358.1 484.36,355.0 484.53,350.4 484.70,360.0 484.87,352.7 485.04,351.1 485.21,358.6 485.38,350.5 485.55,357.9 485.72,360.0 485.89,366.0 486.06,407.5 486.23,367.0 486.40,352.0 486.57,349.2 486.74,360.8 486.91,355.8 487.08,356.2 487.25,415.5 487.42,365.4 487.59,351.7 487.76,409.5 487.93,414.4 488.10,364.4 488.27,343.6 488.44,366.2 488.61,364.5 488.78,364.1 488.95,390.9 489.12,414.0 489.29,366.1 489.46,367.0 489.63,356.4 489.80,369.0 489.97,345.1 490.14,351.6 490.31,364.8 490.48,367.5 490.65,368.7 490.82,357.2 490.99,347.7 491.16,364.5 491.33,363.4 491.50,345.5 491.67,358.5 491.84,344.9 492.01,353.7 492.18,396.8 492.35,351.7 492.52,357.9 492.69,359.5 492.86,361.6 493.03,353.9 493.20,368.2 493.37,346.4 493.54,366.1 493.71,368.3 493.88,362.4 494.05,403.8 494.22,369.8 494.39,361.4 494.56,353.0 494.73,346.1 494.90,360.7 495.07,367.8 495.24,346.3 495.41,356.9 495.58,362.6 495.75,346.9 495.92,357.9 496.09,355.9 496.26,353.1 496.43,406.4 496.60,356.3 496.77,346.8 496.94,354.8 497.11,364.5 497.28,352.3 497.45,355.0 497.62,367.2 497.79,369.5 497.96,354.8 498.13,346.8 498.30,352.6 498.47,359.8 498.64,354.8 498.81,367.4 498.98,351.9 499.15,364.9 499.32,353.1 499.49,348.6 499.66,360.4 499.83,369.2 500.00,350.2 500.17,352.3 500.34,364.8 500.51,351.5 500.68,360.8 500.85,408.3 501.02,353.6 501.19,356.4 501.36,353.0 501.53,349.4 501.70,351.1 501.87,377.5 502.04,357.5 502.21,368.4 502.38,351.9 502.55,377.4 502.72,352.8 502.89,352.5 503.06,350.1 503.23,361.6 503.40,345.7 503.57,368.3 503.74,369.9 503.91,367.6 504.08,413.2 504.25,367.8 504.42,355.3 504.59,366.0 504.76,355.2 504.93,367.5 505.10,349.7 505.27,366.1 505.44,350.2 505.61,354.8 505.78,347.7 505.95,366.6 506.12,353.6 506.29,347.9 506.46,359.3 506.63,362.7 506.80,363.6 506.97,363.1 507.14,357.4 507.31,342.9 507.48,367.6 507.65,413.9 507.82,353.9 507.99,351.7 508.16,398.0 508.33,359.2 508.50,342.2 508.67,343.2 508.84,353.7 509.01,395.2 509.18,344.4 509.35,359.2 509.52,361.0 509.69,351.1 509.86,351.9 510.03,356.5 510.20,356.3 510.37,365.5 510.54,347.0 510.71,404.6 510.88,355.7 511.05,363.1 511.22,348.7 511.39,399.5 511.56,356.3 511.73,357.2 511.90,340.3 512.07,350.1 512.24,363.5 512.41,364.3 512.58,354.0 512.75,343.6 512.92,353.0 513.09,353.8 513.26,359.9 513.43,363.0 513.60,368.7 513.77,362.5 513.94,367.6 514.11,345.2 514.28,345.9 514.45,357.4 514.62,368.3 514.79,351.8 514.96,355.7 515.13,359.1 515.30,337.8 515.47,352.7 515.64,355.9 515.81,337.2 515.98,338.9 516.15,357.8 516.32,347.3 516.49,381.3 516.66,335.7 516.83,342.0 517.00,359.0 517.17,350.3 517.34,408.4 517.51,339.0 517.68,368.8 517.85,337.9 518.02,355.6 518.19,337.9 518.36,363.4 518.53,337.5 518.70,345.4 518.87,362.6 519.04,363.5 519.21,353.0 519.38,357.7 519.55,338.6 519.72,340.3 519.89,406.2 520.06,344.8 520.23,412.7 520.40,353.8 520.57,349.0 520.74,352.9 520.91,342.0" fill="none" stroke="#8cffff" stroke-width="0.7" stroke-linejoin="bevel"/>
<path d="M304.60,257.50 C307.17,258.13 314.83,260.08 320.00,261.30 C325.17,262.52 330.60,263.60 335.60,264.80 C340.60,266.00 344.77,267.13 350.00,268.50 C355.23,269.87 361.87,271.25 367.00,273.00 C372.13,274.75 375.82,276.00 380.80,279.00 C385.78,282.00 391.90,286.25 396.90,291.00 C401.90,295.75 407.78,303.83 410.80,307.50 C413.82,311.17 414.30,312.08 415.00,313.00" fill="none" stroke="#ffff8c" stroke-width="1.2"/>
<polyline points="415.00,313.0 415.17,313.3 415.34,313.4 415.51,313.9 415.68,314.2 415.85,314.1 416.02,314.5 416.19,314.7 416.36,314.9 416.53,315.5 416.70,315.8 416.87,315.5 417.04,316.0 417.21,316.5 417.38,316.6 417.55,316.2 417.72,316.8 417.89,317.2 418.06,318.2 418.23,318.3 418.40,318.3 418.57,317.8 418.74,319.4 418.91,318.2 419.08,318.6 419.25,318.5 419.42,319.7 419.59,320.5 419.76,320.5 419.93,321.1 420.10,321.2 420.27,321.5 420.44,320.7 420.61,323.6 420.78,324.3 420.95,323.8 421.12,325.4 421.29,325.5 421.46,326.0 421.63,325.9 421.80,326.7 421.97,326.6 422.14,327.9 422.31,327.3 422.48,326.8 422.65,327.6 422.82,330.0 422.99,331.0 423.16,328.5 423.33,332.3 423.50,342.9 423.67,327.9 423.84,332.2 424.01,339.4 424.18,337.0 424.35,333.1 424.52,345.3 424.69,330.4 424.86,328.8 425.03,333.5 425.20,335.5 425.37,348.6 425.54,331.0 425.71,330.0 425.88,331.6 426.05,333.3 426.22,333.4 426.39,336.9 426.56,335.8 426.73,334.6 426.90,345.9 427.07,332.5 427.24,337.0 427.41,338.1 427.58,340.4 427.75,341.8 427.92,334.7 428.09,342.6 428.26,342.8 428.43,337.6 428.60,333.0 428.77,335.6 428.94,340.7 429.11,339.5 429.28,337.9 429.45,333.7 429.62,352.0 429.79,348.4 429.96,334.3 430.13,345.8 430.30,334.5 430.47,344.9 430.64,336.1 430.81,335.8 430.98,342.5 431.15,345.4 431.32,342.4 431.49,344.1 431.66,343.1 431.83,334.6 432.00,348.1 432.17,337.6 432.34,340.3 432.51,339.0 432.68,339.2 432.85,335.2 433.02,339.1 433.19,335.2 433.36,335.2 433.53,339.7 433.70,354.9 433.87,334.6 434.04,344.5 434.21,340.1 434.38,333.4 434.55,347.8 434.72,338.1 434.89,342.3 435.06,351.7 435.23,340.5 435.40,334.1 435.57,334.0 435.74,336.8 435.91,349.9 436.08,343.7 436.25,334.1 436.42,335.9 436.59,338.8 436.76,339.0 436.93,334.8 437.10,337.7 437.27,339.0 437.44,336.6 437.61,334.5 437.78,335.3 437.95,340.6 438.12,338.3 438.29,340.7 438.46,337.4 438.63,344.4 438.80,337.4 438.97,333.1 439.14,335.5 439.31,339.1 439.48,332.8 439.65,337.2 439.82,334.2 439.99,339.0 440.16,334.7 440.33,338.4 440.50,339.8 440.67,338.6 440.84,332.9 441.01,337.0 441.18,332.3 441.35,335.6 441.52,336.6 441.69,334.3 441.86,338.4 442.03,341.7 442.20,334.1 442.37,337.6 442.54,336.8 442.71,336.1 442.88,333.6 443.05,342.3 443.22,338.2 443.39,339.2 443.56,335.9 443.73,330.3 443.90,342.1 444.07,337.0 444.24,334.1 444.41,331.0 444.58,331.0 444.75,334.3 444.92,336.3 445.09,330.8 445.26,336.5 445.43,341.2 445.60,330.3 445.77,336.8 445.94,332.0 446.11,334.6 446.28,341.7 446.45,344.0 446.62,333.3 446.79,330.0 446.96,335.8 447.13,333.4 447.30,336.2 447.47,332.8 447.64,331.2 447.81,328.7 447.98,331.6 448.15,334.4 448.32,340.3 448.49,329.1 448.66,329.5 448.83,337.3 449.00,336.7 449.17,343.8 449.34,330.8 449.51,329.9 449.68,334.7 449.85,343.9 450.02,337.3 450.19,331.4 450.36,332.4 450.53,334.1 450.70,334.5 450.87,331.8 451.04,329.7 451.21,329.9 451.38,338.0 451.55,337.6 451.72,333.1 451.89,334.4 452.06,332.5 452.23,335.5 452.40,332.5 452.57,337.6 452.74,347.3 452.91,334.8 453.08,341.7 453.25,335.7 453.42,335.2 453.59,337.3 453.76,342.3 453.93,336.4 454.10,339.2 454.27,335.1 454.44,339.2 454.61,331.9 454.78,336.2 454.95,331.7 455.12,337.2 455.29,332.8 455.46,334.6 455.63,333.6 455.80,348.6 455.97,334.9 456.14,342.2 456.31,337.2 456.48,340.2 456.65,336.0 456.82,336.2 456.99,338.3 457.16,342.7 457.33,344.8 457.50,336.5 457.67,336.1 457.84,337.0 458.01,343.6 458.18,349.4 458.35,353.9 458.52,341.6 458.69,341.8 458.86,349.9 459.03,340.0 459.20,357.1 459.37,356.8 459.54,369.1 459.71,354.2 459.88,341.8 460.05,340.7 460.22,348.7 460.39,348.5 460.56,346.6 460.73,362.0 460.90,351.4 461.07,407.0 461.24,347.8 461.41,346.0 461.58,356.1 461.75,350.8 461.92,364.6 462.09,349.1 462.26,348.6 462.43,347.8 462.60,351.5 462.77,341.3 462.94,346.5 463.11,350.9 463.28,346.8 463.45,368.4 463.62,346.1 463.79,360.1 463.96,361.8 464.13,370.7 464.30,347.9 464.47,409.2 464.64,354.0 464.81,416.4 464.98,347.7 465.15,353.5 465.32,362.1 465.49,367.6 465.66,360.9 465.83,360.2 466.00,383.7 466.17,353.8 466.34,411.4 466.51,343.8 466.68,368.5 466.85,359.1 467.02,347.2 467.19,366.5 467.36,396.2 467.53,361.8 467.70,356.1 467.87,373.2 468.04,368.2 468.21,366.4 468.38,358.0 468.55,351.7 468.72,359.2 468.89,371.3 469.06,367.9 469.23,350.3 469.40,401.3 469.57,363.2 469.74,362.6 469.91,346.5 470.08,346.2 470.25,400.0 470.42,372.9 470.59,416.0 470.76,345.6 470.93,373.8 471.10,371.8 471.27,357.3 471.44,352.1 471.61,356.3 471.78,350.4 471.95,399.0 472.12,352.6 472.29,348.0 472.46,357.4 472.63,366.8 472.80,373.4 472.97,373.4 473.14,347.9 473.31,355.9 473.48,390.6 473.65,393.9 473.82,354.9 473.99,373.4 474.16,368.4 474.33,358.0 474.50,355.6 474.67,361.0 474.84,365.0 475.01,351.5 475.18,366.7 475.35,370.1 475.52,352.1 475.69,400.2 475.86,403.1 476.03,356.5 476.20,349.5 476.37,369.7 476.54,363.0 476.71,346.9 476.88,362.8 477.05,350.9 477.22,361.0 477.39,369.6 477.56,373.7 477.73,346.9 477.90,371.4 478.07,370.8 478.24,358.5 478.41,398.8 478.58,350.3 478.75,369.0 478.92,357.8 479.09,353.4 479.26,347.4 479.43,354.0 479.60,369.9 479.77,361.3 479.94,361.2 480.11,371.1 480.28,370.5 480.45,356.4 480.62,351.0 480.79,354.0 480.96,358.8 481.13,406.9 481.30,387.7 481.47,369.7 481.64,354.8 481.81,388.6 481.98,349.9 482.15,363.2 482.32,354.4 482.49,368.9 482.66,351.1 482.83,366.2 483.00,372.0 483.17,360.0 483.34,359.8 483.51,373.7 483.68,355.1 483.85,363.2 484.02,410.5 484.19,369.0 484.36,371.2 484.53,350.7 484.70,377.0 484.87,365.0 485.04,352.1 485.21,348.9 485.38,369.8 485.55,354.4 485.72,363.9 485.89,361.6 486.06,362.7 486.23,367.7 486.40,362.3 486.57,354.1 486.74,376.6 486.91,413.8 487.08,364.0 487.25,360.3 487.42,356.1 487.59,351.8 487.76,360.5 487.93,352.2 488.10,353.0 488.27,362.4 488.44,364.6 488.61,385.1 488.78,369.3 488.95,364.6 489.12,356.9 489.29,349.9 489.46,357.5 489.63,361.5 489.80,365.8 489.97,412.4 490.14,361.3 490.31,412.9 490.48,364.7 490.65,362.0 490.82,371.7 490.99,353.8 491.16,372.9 491.33,351.6 491.50,359.5 491.67,350.8 491.84,371.3 492.01,360.0 492.18,360.7 492.35,368.8 492.52,373.0 492.69,371.2 492.86,373.6 493.03,372.4 493.20,371.7 493.37,371.0 493.54,371.0 493.71,366.8 493.88,373.2 494.05,393.7 494.22,400.9 494.39,364.0 494.56,364.5 494.73,362.9 494.90,373.4 495.07,367.1 495.24,355.1 495.41,374.1 495.58,355.0 495.75,364.5 495.92,381.0 496.09,363.4 496.26,355.7 496.43,355.2 496.60,406.9 496.77,366.9 496.94,359.3 497.11,372.9 497.28,363.0 497.45,363.5 497.62,355.6 497.79,371.5 497.96,357.5 498.13,368.7 498.30,352.6 498.47,365.9 498.64,363.9 498.81,361.6 498.98,355.3 499.15,352.0 499.32,405.4 499.49,401.2 499.66,362.9 499.83,415.2 500.00,358.7 500.17,370.0 500.34,355.1 500.51,353.8 500.68,365.0 500.85,360.3 501.02,393.6 501.19,367.7 501.36,353.1 501.53,373.9 501.70,352.9 501.87,363.9 502.04,354.4 502.21,355.3 502.38,351.8 502.55,369.0 502.72,361.7 502.89,352.8 503.06,400.1 503.23,351.4 503.40,368.5 503.57,369.6 503.74,382.0 503.91,398.7 504.08,358.1 504.25,362.7 504.42,352.7 504.59,366.5 504.76,352.5 504.93,363.3 505.10,372.6 505.27,365.0 505.44,354.7 505.61,352.8 505.78,367.6 505.95,354.2 506.12,367.6 506.29,354.0 506.46,405.6 506.63,362.4 506.80,349.2 506.97,371.3 507.14,349.6 507.31,378.6 507.48,355.2 507.65,360.1 507.82,348.3 507.99,347.9 508.16,353.5 508.33,371.6 508.50,369.1 508.67,367.0 508.84,370.6 509.01,354.3 509.18,366.4 509.35,352.3 509.52,370.7 509.69,359.6 509.86,357.3 510.03,396.0 510.20,348.9 510.37,352.6 510.54,368.6 510.71,347.0 510.88,345.4 511.05,349.1 511.22,356.9 511.39,345.8 511.56,350.3 511.73,353.3 511.90,365.9 512.07,362.1 512.24,354.9 512.41,348.3 512.58,372.3 512.75,369.8 512.92,350.9 513.09,348.1 513.26,409.2 513.43,372.2 513.60,346.0 513.77,366.0 513.94,354.7 514.11,401.3 514.28,360.6 514.45,361.0 514.62,357.3 514.79,365.5 514.96,367.4 515.13,399.8 515.30,377.9 515.47,371.2 515.64,341.7 515.81,344.4 515.98,343.8 516.15,371.3 516.32,370.6 516.49,359.2 516.66,346.1 516.83,367.9 517.00,355.4 517.17,352.0 517.34,370.2 517.51,371.2 517.68,367.8 517.85,370.7 518.02,356.5 518.19,342.3 518.36,345.1 518.53,397.7 518.70,358.5 518.87,339.3 519.04,367.7 519.21,359.8 519.38,336.3 519.55,363.6 519.72,371.1 519.89,371.0 520.06,355.4 520.23,410.4 520.40,348.4 520.57,342.5 520.74,365.9 520.91,359.4" fill="none" stroke="#ffff8c" stroke-width="0.7" stroke-linejoin="bevel"/>
<path d="M304.60,258.50 C307.17,259.08 314.83,260.88 320.00,262.00 C325.17,263.12 330.60,264.07 335.60,265.20 C340.60,266.33 344.77,267.47 350.00,268.80 C355.23,270.13 361.87,271.53 367.00,273.20 C372.13,274.87 375.82,275.92 380.80,278.80 C385.78,281.68 391.90,285.97 396.90,290.50 C401.90,295.03 407.78,302.50 410.80,306.00 C413.82,309.50 414.30,310.58 415.00,311.50" fill="none" stroke="#1cb81c" stroke-width="1.2"/>
<polyline points="415.00,311.5 415.17,311.8 415.34,312.2 415.51,312.4 415.68,312.6 415.85,313.1 416.02,313.2 416.19,313.6 416.36,313.7 416.53,314.4 416.70,314.1 416.87,314.6 417.04,315.5 417.21,314.9 417.38,315.5 417.55,315.6 417.72,316.1 417.89,316.7 418.06,317.6 418.23,317.9 418.40,317.1 418.57,318.2 418.74,318.0 418.91,317.6 419.08,318.2 419.25,318.6 419.42,319.0 419.59,320.7 419.76,320.6 419.93,319.1 420.10,320.7 420.27,320.4 420.44,320.7 420.61,323.1 420.78,320.7 420.95,323.6 421.12,324.7 421.29,321.5 421.46,323.1 421.63,325.9 421.80,322.7 421.97,324.6 422.14,327.9 422.31,327.7 422.48,324.4 422.65,325.4 422.82,324.9 422.99,327.6 423.16,325.2 423.33,325.6 423.50,337.7 423.67,330.1 423.84,326.6 424.01,335.6 424.18,332.4 424.35,332.1 424.52,337.6 424.69,329.1 424.86,330.9 425.03,336.6 425.20,336.3 425.37,336.4 425.54,337.7 425.71,335.7 425.88,329.5 426.05,331.2 426.22,337.1 426.39,331.1 426.56,332.8 426.73,343.9 426.90,335.7 427.07,338.4 427.24,335.4 427.41,337.6 427.58,340.2 427.75,340.1 427.92,344.9 428.09,338.3 428.26,338.0 428.43,338.0 428.60,337.6 428.77,351.0 428.94,334.2 429.11,332.9 429.28,349.5 429.45,347.9 429.62,341.6 429.79,338.1 429.96,347.7 430.13,338.9 430.30,336.6 430.47,337.6 430.64,353.2 430.81,335.0 430.98,341.9 431.15,333.6 431.32,342.1 431.49,338.0 431.66,333.7 431.83,334.7 432.00,337.0 432.17,334.7 432.34,338.5 432.51,344.0 432.68,342.8 432.85,338.7 433.02,337.3 433.19,338.0 433.36,337.0 433.53,339.6 433.70,334.1 433.87,336.4 434.04,337.8 434.21,344.1 434.38,343.0 434.55,337.2 434.72,333.9 434.89,339.3 435.06,342.2 435.23,339.8 435.40,337.2 435.57,334.9 435.74,337.1 435.91,342.3 436.08,336.8 436.25,337.6 436.42,338.3 436.59,334.5 436.76,348.9 436.93,341.6 437.10,334.0 437.27,334.4 437.44,347.5 437.61,335.8 437.78,338.2 437.95,336.6 438.12,334.3 438.29,339.1 438.46,338.6 438.63,348.7 438.80,337.7 438.97,338.7 439.14,336.7 439.31,348.8 439.48,334.7 439.65,339.3 439.82,338.6 439.99,332.6 440.16,333.4 440.33,349.4 440.50,336.8 440.67,344.4 440.84,339.4 441.01,333.5 441.18,335.3 441.35,336.9 441.52,336.5 441.69,337.4 441.86,338.0 442.03,339.7 442.20,335.9 442.37,339.7 442.54,338.8 442.71,335.7 442.88,344.9 443.05,332.3 443.22,332.5 443.39,333.0 443.56,341.7 443.73,332.6 443.90,338.0 444.07,348.1 444.24,337.7 444.41,335.1 444.58,333.4 444.75,333.4 444.92,340.3 445.09,338.5 445.26,331.8 445.43,339.3 445.60,334.8 445.77,337.5 445.94,336.7 446.11,334.3 446.28,330.8 446.45,331.3 446.62,348.1 446.79,336.5 446.96,337.4 447.13,335.7 447.30,335.2 447.47,332.6 447.64,334.6 447.81,330.7 447.98,332.9 448.15,333.7 448.32,333.6 448.49,332.5 448.66,332.8 448.83,331.0 449.00,334.9 449.17,338.0 449.34,337.2 449.51,346.2 449.68,332.5 449.85,335.3 450.02,332.3 450.19,334.0 450.36,337.3 450.53,334.6 450.70,332.1 450.87,338.1 451.04,335.5 451.21,338.8 451.38,330.9 451.55,331.6 451.72,331.3 451.89,338.5 452.06,338.1 452.23,331.7 452.40,336.3 452.57,339.0 452.74,331.7 452.91,333.1 453.08,335.0 453.25,333.9 453.42,339.3 453.59,336.6 453.76,338.6 453.93,338.5 454.10,336.6 454.27,332.8 454.44,334.7 454.61,335.9 454.78,339.2 454.95,335.0 455.12,339.5 455.29,338.7 455.46,332.7 455.63,339.9 455.80,333.2 455.97,344.7 456.14,341.2 456.31,337.1 456.48,354.2 456.65,347.2 456.82,336.8 456.99,352.9 457.16,337.2 457.33,338.3 457.50,336.3 457.67,343.1 457.84,355.4 458.01,336.6 458.18,344.8 458.35,338.6 458.52,344.0 458.69,349.1 458.86,351.3 459.03,344.3 459.20,348.5 459.37,344.4 459.54,343.2 459.71,349.7 459.88,351.9 460.05,355.7 460.22,343.8 460.39,343.5 460.56,347.4 460.73,338.9 460.90,342.1 461.07,356.7 461.24,353.2 461.41,342.2 461.58,342.6 461.75,342.5 461.92,344.2 462.09,363.6 462.26,344.6 462.43,364.1 462.60,362.7 462.77,354.8 462.94,363.0 463.11,365.1 463.28,350.8 463.45,362.2 463.62,351.4 463.79,348.8 463.96,366.8 464.13,353.0 464.30,357.7 464.47,370.6 464.64,344.8 464.81,346.4 464.98,358.7 465.15,348.8 465.32,347.8 465.49,362.0 465.66,350.0 465.83,343.0 466.00,344.6 466.17,347.9 466.34,356.8 466.51,394.9 466.68,355.5 466.85,381.2 467.02,413.2 467.19,369.2 467.36,353.3 467.53,355.3 467.70,362.5 467.87,364.4 468.04,347.3 468.21,370.5 468.38,370.2 468.55,359.1 468.72,350.0 468.89,350.5 469.06,357.7 469.23,351.4 469.40,347.0 469.57,356.6 469.74,375.8 469.91,364.4 470.08,350.4 470.25,369.6 470.42,363.2 470.59,352.2 470.76,360.3 470.93,366.0 471.10,368.0 471.27,355.8 471.44,358.2 471.61,349.6 471.78,351.0 471.95,365.8 472.12,357.4 472.29,371.4 472.46,362.5 472.63,403.9 472.80,352.5 472.97,360.0 473.14,357.7 473.31,351.2 473.48,356.8 473.65,352.4 473.82,346.0 473.99,355.6 474.16,357.9 474.33,346.8 474.50,354.2 474.67,363.3 474.84,368.8 475.01,367.4 475.18,366.5 475.35,366.6 475.52,368.1 475.69,372.6 475.86,352.3 476.03,401.7 476.20,364.8 476.37,372.0 476.54,353.9 476.71,372.9 476.88,370.8 477.05,360.1 477.22,363.4 477.39,350.5 477.56,359.6 477.73,358.0 477.90,371.4 478.07,365.5 478.24,359.8 478.41,349.0 478.58,364.5 478.75,353.0 478.92,347.9 479.09,378.9 479.26,388.0 479.43,367.5 479.60,349.4 479.77,351.7 479.94,360.6 480.11,367.9 480.28,357.0 480.45,362.4 480.62,354.4 480.79,353.8 480.96,364.4 481.13,366.9 481.30,369.9 481.47,416.0 481.64,355.2 481.81,364.1 481.98,356.3 482.15,358.5 482.32,363.7 482.49,357.5 482.66,373.0 482.83,350.9 483.00,363.2 483.17,358.4 483.34,354.8 483.51,360.2 483.68,355.9 483.85,367.4 484.02,370.4 484.19,354.3 484.36,365.3 484.53,360.9 484.70,357.8 484.87,368.7 485.04,368.3 485.21,368.5 485.38,350.5 485.55,349.2 485.72,359.8 485.89,353.1 486.06,353.1 486.23,350.6 486.40,366.8 486.57,351.0 486.74,360.0 486.91,414.3 487.08,369.4 487.25,364.9 487.42,359.8 487.59,350.6 487.76,350.2 487.93,366.2 488.10,357.9 488.27,359.7 488.44,357.4 488.61,368.5 488.78,370.4 488.95,350.7 489.12,361.8 489.29,354.7 489.46,361.2 489.63,357.2 489.80,368.6 489.97,377.5 490.14,369.7 490.31,371.6 490.48,353.3 490.65,356.2 490.82,356.6 490.99,350.4 491.16,352.2 491.33,357.6 491.50,366.1 491.67,357.7 491.84,350.7 492.01,361.1 492.18,379.2 492.35,365.8 492.52,355.9 492.69,354.3 492.86,369.0 493.03,364.1 493.20,352.9 493.37,373.0 493.54,369.3 493.71,363.7 493.88,357.5 494.05,373.5 494.22,361.2 494.39,371.8 494.56,365.4 494.73,355.9 494.90,361.5 495.07,357.2 495.24,365.9 495.41,362.7 495.58,368.9 495.75,355.4 495.92,372.6 496.09,371.0 496.26,373.7 496.43,373.4 496.60,365.9 496.77,352.8 496.94,356.1 497.11,371.4 497.28,363.6 497.45,355.4 497.62,354.9 497.79,373.6 497.96,371.3 498.13,360.6 498.30,360.8 498.47,365.4 498.64,372.9 498.81,373.7 498.98,366.6 499.15,371.0 499.32,355.8 499.49,371.2 499.66,415.2 499.83,364.8 500.00,356.7 500.17,370.5 500.34,369.5 500.51,370.8 500.68,365.4 500.85,354.2 501.02,354.8 501.19,373.3 501.36,362.9 501.53,369.9 501.70,414.7 501.87,368.6 502.04,353.1 502.21,360.7 502.38,360.8 502.55,352.7 502.72,360.3 502.89,362.4 503.06,361.2 503.23,373.7 503.40,353.2 503.57,372.3 503.74,405.0 503.91,357.5 504.08,366.7 504.25,368.7 504.42,373.2 504.59,361.3 504.76,359.1 504.93,360.9 505.10,353.2 505.27,355.3 505.44,351.1 505.61,372.6 505.78,369.9 505.95,378.8 506.12,352.1 506.29,395.5 506.46,370.8 506.63,358.3 506.80,397.3 506.97,365.6 507.14,416.2 507.31,354.4 507.48,354.5 507.65,354.4 507.82,361.1 507.99,380.2 508.16,355.5 508.33,359.0 508.50,368.1 508.67,351.3 508.84,362.8 509.01,397.4 509.18,378.4 509.35,373.2 509.52,360.0 509.69,368.8 509.86,356.2 510.03,415.8 510.20,364.2 510.37,346.9 510.54,363.1 510.71,361.2 510.88,348.8 511.05,367.0 511.22,367.1 511.39,361.0 511.56,355.9 511.73,349.4 511.90,363.9 512.07,365.6 512.24,367.9 512.41,363.4 512.58,352.6 512.75,345.6 512.92,356.8 513.09,352.1 513.26,394.3 513.43,372.1 513.60,349.4 513.77,352.7 513.94,370.9 514.11,353.1 514.28,354.1 514.45,356.1 514.62,354.8 514.79,400.4 514.96,360.8 515.13,351.9 515.30,356.8 515.47,350.6 515.64,365.5 515.81,351.5 515.98,364.8 516.15,358.5 516.32,366.8 516.49,371.0 516.66,351.1 516.83,347.0 517.00,342.5 517.17,357.2 517.34,358.7 517.51,397.9 517.68,356.7 517.85,361.0 518.02,370.5 518.19,368.0 518.36,402.3 518.53,348.6 518.70,368.9 518.87,365.4 519.04,351.3 519.21,356.0 519.38,371.4 519.55,346.4 519.72,340.3 519.89,352.1 520.06,352.0 520.23,359.3 520.40,347.8 520.57,365.3 520.74,372.2 520.91,352.1" fill="none" stroke="#1cb81c" stroke-width="0.7" stroke-linejoin="bevel"/>
<path d="M304.60,251.00 C307.17,251.92 314.83,254.70 320.00,256.50 C325.17,258.30 330.60,260.13 335.60,261.80 C340.60,263.47 344.77,264.75 350.00,266.50 C355.23,268.25 361.87,270.22 367.00,272.30 C372.13,274.38 375.82,275.80 380.80,279.00 C385.78,282.20 391.90,286.58 396.90,291.50 C401.90,296.42 407.78,304.72 410.80,308.50 C413.82,312.28 414.30,313.25 415.00,314.20" fill="none" stroke="#ff961c" stroke-width="1.2"/>
<polygon points="415.0,316.7 415.5,317.3 416.0,317.9 416.5,318.4 417.0,319.0 417.5,319.6 418.0,320.2 418.5,320.8 419.0,321.3 419.5,321.9 420.0,322.5 420.5,323.4 421.0,324.4 421.5,325.4 422.0,326.3 422.5,327.2 423.0,328.2 423.5,329.1 424.0,330.1 424.5,331.1 425.0,332.0 425.5,332.6 426.0,333.1 426.5,333.6 427.0,334.2 427.5,334.8 428.0,335.3 428.5,335.8 429.0,336.4 429.5,336.9 430.0,337.5 430.5,337.4 431.0,337.3 431.5,337.2 432.0,337.1 432.5,337.0 433.0,336.9 433.5,336.8 434.0,336.6 434.5,336.5 435.0,336.4 435.5,336.3 436.0,336.2 436.5,336.1 437.0,336.0 437.5,335.8 438.0,335.5 438.5,335.2 439.0,335.0 439.5,334.8 440.0,334.5 440.5,334.2 441.0,334.0 441.5,333.8 442.0,333.5 442.5,333.2 443.0,333.0 443.5,332.8 444.0,332.5 444.5,332.2 445.0,332.0 445.5,331.9 446.0,331.8 446.5,331.7 447.0,331.6 447.5,331.5 448.0,331.4 448.5,331.3 449.0,331.2 449.5,331.1 450.0,331.0 450.5,331.2 451.0,331.3 451.5,331.4 452.0,331.6 452.5,331.8 453.0,331.9 453.5,332.0 454.0,332.2 454.5,332.4 455.0,332.5 455.5,333.1 456.0,333.8 456.5,334.4 457.0,335.0 457.5,335.6 458.0,336.2 458.5,336.9 459.0,340.5 459.5,341.0 460.0,341.5 460.5,342.0 461.0,342.5 461.5,343.0 462.0,343.5 462.5,344.0 463.0,344.5 463.5,345.0 464.0,345.5 464.5,346.0 465.0,346.5 465.5,346.8 466.0,347.0 466.5,347.3 467.0,347.6 467.5,347.9 468.0,348.1 468.5,348.4 469.0,348.7 469.5,348.9 470.0,349.2 470.5,349.3 471.0,349.4 471.5,349.5 472.0,349.6 472.5,349.7 473.0,349.8 473.5,349.9 474.0,350.0 474.5,350.1 475.0,350.2 475.5,350.3 476.0,350.4 476.5,350.5 477.0,350.6 477.5,350.7 478.0,350.8 478.5,350.8 479.0,350.9 479.5,351.0 480.0,351.1 480.5,351.2 481.0,351.3 481.5,351.4 482.0,351.5 482.5,351.6 483.0,351.7 483.5,351.8 484.0,351.9 484.5,352.0 485.0,352.1 485.5,352.2 486.0,352.3 486.5,352.5 487.0,352.6 487.5,352.8 488.0,352.9 488.5,353.1 489.0,353.2 489.5,353.4 490.0,353.5 490.5,353.7 491.0,353.8 491.5,354.0 492.0,354.1 492.5,354.3 493.0,354.4 493.5,354.6 494.0,354.8 494.5,354.9 495.0,355.1 495.5,355.2 496.0,355.4 496.5,355.5 497.0,355.7 497.5,355.8 498.0,356.0 498.5,356.1 499.0,356.3 499.5,356.4 500.0,356.6 500.5,356.7 501.0,356.9 501.5,356.5 502.0,356.2 502.5,355.8 503.0,355.5 503.5,355.1 504.0,354.7 504.5,354.4 505.0,354.0 505.5,353.6 506.0,353.3 506.5,352.9 507.0,352.6 507.5,352.2 508.0,351.8 508.5,351.5 509.0,351.1 509.5,350.8 510.0,350.4 510.5,350.0 511.0,349.7 511.5,349.3 512.0,348.9 512.5,348.6 513.0,348.2 513.5,347.9 514.0,347.5 514.5,346.9 515.0,346.2 515.5,345.6 516.0,345.0 516.5,344.4 517.0,343.8 517.5,343.1 518.0,342.5 518.5,341.9 519.0,341.2 519.5,340.6 520.0,340.0 520.5,340.0 521.0,340.0 521.5,340.0 522.0,340.0 522.0,378.0 521.5,378.0 521.0,378.0 520.5,378.0 520.0,378.0 519.5,378.0 519.0,378.0 518.5,378.0 518.0,378.0 517.5,378.0 517.0,377.9 516.5,377.9 516.0,377.9 515.5,377.9 515.0,377.9 514.5,377.9 514.0,377.9 513.5,377.9 513.0,377.9 512.5,377.9 512.0,377.9 511.5,377.8 511.0,377.8 510.5,377.8 510.0,377.8 509.5,377.8 509.0,377.8 508.5,377.8 508.0,377.8 507.5,377.8 507.0,377.8 506.5,377.8 506.0,377.7 505.5,377.7 505.0,377.7 504.5,377.7 504.0,377.7 503.5,377.7 503.0,377.7 502.5,377.7 502.0,377.7 501.5,377.7 501.0,377.7 500.5,377.6 500.0,377.6 499.5,377.6 499.0,377.6 498.5,377.6 498.0,377.6 497.5,377.6 497.0,377.6 496.5,377.6 496.0,377.6 495.5,377.6 495.0,377.5 494.5,377.5 494.0,377.5 493.5,377.5 493.0,377.5 492.5,377.5 492.0,377.5 491.5,377.5 491.0,377.5 490.5,377.5 490.0,377.5 489.5,377.4 489.0,377.4 488.5,377.4 488.0,377.4 487.5,377.4 487.0,377.4 486.5,377.4 486.0,377.4 485.5,377.4 485.0,377.4 484.5,377.4 484.0,377.3 483.5,377.3 483.0,377.3 482.5,377.3 482.0,377.3 481.5,377.3 481.0,377.3 480.5,377.3 480.0,377.3 479.5,377.3 479.0,377.3 478.5,377.2 478.0,377.2 477.5,377.2 477.0,377.2 476.5,377.2 476.0,377.2 475.5,377.2 475.0,377.2 474.5,377.2 474.0,377.2 473.5,377.2 473.0,377.1 472.5,377.1 472.0,377.1 471.5,377.1 471.0,377.1 470.5,377.1 470.0,377.1 469.5,377.1 469.0,377.1 468.5,377.1 468.0,377.1 467.5,377.0 467.0,377.0 466.5,377.0 466.0,377.0 465.5,377.0 465.0,377.0 464.5,375.5 464.0,374.0 463.5,372.5 463.0,371.0 462.5,369.5 462.0,368.0 461.5,366.5 461.0,365.0 460.5,363.5 460.0,362.0 459.5,360.5 459.0,359.0 458.5,358.0 458.0,355.5 457.5,353.0 457.0,350.5 456.5,348.0 456.0,345.5 455.5,343.0 455.0,340.5 454.5,340.3 454.0,340.1 453.5,339.9 453.0,339.8 452.5,339.6 452.0,339.4 451.5,339.2 451.0,339.0 450.5,338.8 450.0,338.6 449.5,338.4 449.0,338.2 448.5,338.1 448.0,337.9 447.5,337.7 447.0,337.5 446.5,337.7 446.0,337.9 445.5,338.1 445.0,338.4 444.5,338.6 444.0,338.8 443.5,339.0 443.0,339.2 442.5,339.4 442.0,339.6 441.5,339.9 441.0,340.1 440.5,340.3 440.0,340.5 439.5,341.1 439.0,341.8 438.5,342.4 438.0,343.1 437.5,343.8 437.0,344.4 436.5,345.0 436.0,345.7 435.5,346.4 435.0,347.0 434.5,347.2 434.0,347.3 433.5,347.4 433.0,347.6 432.5,347.8 432.0,347.9 431.5,348.0 431.0,348.2 430.5,348.4 430.0,348.5 429.5,347.7 429.0,346.9 428.5,346.1 428.0,345.3 427.5,344.5 427.0,343.7 426.5,342.9 426.0,342.1 425.5,341.3 425.0,340.5 424.5,338.7 424.0,336.9 423.5,335.1 423.0,333.3 422.5,331.5 422.0,329.7 421.5,327.9 421.0,326.1 420.5,324.3 420.0,322.5 419.5,321.6 419.0,320.7 418.5,319.8 418.0,318.9 417.5,318.0 417.0,317.1 416.5,316.2 416.0,315.3 415.5,314.4 415.0,313.5" fill="#ff961c"/>
<polyline points="415.00,314.2 415.17,314.5 415.34,314.7 415.51,314.9 415.68,315.1 415.85,315.6 416.02,315.8 416.19,315.7 416.36,316.2 416.53,316.6 416.70,316.9 416.87,317.3 417.04,317.7 417.21,317.7 417.38,318.4 417.55,317.9 417.72,317.8 417.89,319.2 418.06,318.2 418.23,318.2 418.40,318.4 418.57,319.5 418.74,320.6 418.91,319.6 419.08,321.3 419.25,321.4 419.42,320.0 419.59,320.9 419.76,321.4 419.93,321.9 420.10,322.4 420.27,320.7 420.44,323.4 420.61,321.8 420.78,323.6 420.95,324.2 421.12,322.6 421.29,325.7 421.46,325.8 421.63,324.4 421.80,327.9 421.97,324.6 422.14,324.6 422.31,328.0 422.48,326.6 422.65,329.9 422.82,330.7 422.99,329.8 423.16,328.4 423.33,334.6 423.50,329.3 423.67,327.0 423.84,335.0 424.01,333.3 424.18,337.3 424.35,337.3 424.52,335.7 424.69,336.0 424.86,333.0 425.03,331.3 425.20,349.8 425.37,333.0 425.54,338.7 425.71,335.8 425.88,336.0 426.05,338.4 426.22,341.3 426.39,352.5 426.56,333.2 426.73,342.8 426.90,336.4 427.07,339.0 427.24,332.3 427.41,342.6 427.58,344.1 427.75,334.1 427.92,333.7 428.09,343.3 428.26,334.7 428.43,351.0 428.60,347.9 428.77,338.6 428.94,342.4 429.11,341.8 429.28,343.8 429.45,345.5 429.62,347.4 429.79,346.2 429.96,343.7 430.13,358.1 430.30,353.3 430.47,348.3 430.64,340.4 430.81,344.7 430.98,351.4 431.15,343.1 431.32,354.4 431.49,343.9 431.66,335.6 431.83,335.6 432.00,335.8 432.17,342.7 432.34,337.5 432.51,338.3 432.68,341.7 432.85,337.7 433.02,337.5 433.19,343.7 433.36,336.1 433.53,339.4 433.70,345.5 433.87,337.6 434.04,334.4 434.21,343.4 434.38,346.4 434.55,337.5 434.72,338.2 434.89,351.9 435.06,346.0 435.23,339.2 435.40,340.5 435.57,342.4 435.74,348.8 435.91,339.2 436.08,336.0 436.25,336.7 436.42,343.4 436.59,341.9 436.76,343.0 436.93,343.0 437.10,337.9 437.27,336.7 437.44,343.3 437.61,338.5 437.78,335.9 437.95,351.2 438.12,339.7 438.29,339.4 438.46,341.8 438.63,341.6 438.80,333.3 438.97,340.4 439.14,339.2 439.31,334.5 439.48,340.2 439.65,334.7 439.82,337.2 439.99,338.9 440.16,349.1 440.33,334.9 440.50,334.4 440.67,339.1 440.84,339.4 441.01,341.2 441.18,334.8 441.35,335.8 441.52,334.8 441.69,338.1 441.86,333.4 442.03,337.6 442.20,337.4 442.37,335.0 442.54,331.8 442.71,339.6 442.88,334.3 443.05,335.7 443.22,336.4 443.39,344.8 443.56,336.3 443.73,332.5 443.90,332.6 444.07,337.9 444.24,332.4 444.41,335.1 444.58,334.4 444.75,337.6 444.92,335.3 445.09,336.2 445.26,331.2 445.43,334.8 445.60,337.9 445.77,337.9 445.94,334.0 446.11,339.4 446.28,337.1 446.45,337.8 446.62,329.9 446.79,335.2 446.96,331.2 447.13,333.1 447.30,336.2 447.47,335.7 447.64,335.0 447.81,329.0 447.98,337.1 448.15,335.1 448.32,329.1 448.49,335.5 448.66,329.0 448.83,330.4 449.00,328.9 449.17,336.8 449.34,331.5 449.51,334.4 449.68,330.5 449.85,338.1 450.02,335.0 450.19,335.7 450.36,328.8 450.53,338.8 450.70,344.0 450.87,341.9 451.04,332.7 451.21,338.6 451.38,336.8 451.55,330.0 451.72,333.8 451.89,337.7 452.06,337.3 452.23,330.6 452.40,332.4 452.57,339.9 452.74,330.2 452.91,338.8 453.08,339.8 453.25,330.8 453.42,330.3 453.59,340.2 453.76,332.6 453.93,335.9 454.10,338.3 454.27,338.6 454.44,337.1 454.61,340.1 454.78,339.9 454.95,331.9 455.12,350.8 455.29,344.6 455.46,332.6 455.63,333.0 455.80,333.2 455.97,342.4 456.14,344.9 456.31,333.1 456.48,340.9 456.65,340.0 456.82,351.0 456.99,339.8 457.16,340.7 457.33,335.2 457.50,339.3 457.67,358.2 457.84,336.3 458.01,342.8 458.18,349.6 458.35,350.1 458.52,338.5 458.69,344.5 458.86,338.7 459.03,347.2 459.20,348.7 459.37,338.9 459.54,336.2 459.71,348.0 459.88,351.1 460.05,343.2 460.22,350.9 460.39,339.1 460.56,351.5 460.73,339.9 460.90,360.7 461.07,349.0 461.24,365.3 461.41,410.9 461.58,351.8 461.75,391.7 461.92,346.5 462.09,358.6 462.26,362.9 462.43,400.0 462.60,383.4 462.77,366.2 462.94,365.9 463.11,366.3 463.28,342.5 463.45,398.9 463.62,369.5 463.79,364.3 463.96,352.8 464.13,359.4 464.30,372.9 464.47,405.9 464.64,361.4 464.81,374.9 464.98,352.9 465.15,363.1 465.32,352.1 465.49,346.8 465.66,366.3 465.83,352.3 466.00,375.4 466.17,371.3 466.34,373.4 466.51,358.3 466.68,371.2 466.85,370.9 467.02,370.4 467.19,364.7 467.36,350.8 467.53,361.2 467.70,349.7 467.87,375.3 468.04,343.5 468.21,364.0 468.38,352.8 468.55,346.1 468.72,372.7 468.89,352.3 469.06,351.6 469.23,359.0 469.40,363.6 469.57,348.1 469.74,404.8 469.91,347.3 470.08,346.7 470.25,357.7 470.42,364.7 470.59,358.1 470.76,346.7 470.93,346.0 471.10,358.2 471.27,375.2 471.44,412.1 471.61,349.5 471.78,364.6 471.95,361.3 472.12,358.2 472.29,414.2 472.46,373.5 472.63,371.8 472.80,359.0 472.97,349.7 473.14,402.5 473.31,373.6 473.48,373.1 473.65,362.0 473.82,346.6 473.99,363.3 474.16,361.5 474.33,363.4 474.50,370.9 474.67,411.8 474.84,352.3 475.01,370.0 475.18,350.7 475.35,374.4 475.52,406.3 475.69,367.7 475.86,366.5 476.03,382.2 476.20,352.8 476.37,370.7 476.54,407.3 476.71,346.0 476.88,349.3 477.05,346.6 477.22,350.2 477.39,363.5 477.56,349.6 477.73,353.7 477.90,379.6 478.07,371.4 478.24,356.3 478.41,365.0 478.58,350.3 478.75,363.3 478.92,359.0 479.09,375.8 479.26,369.2 479.43,361.8 479.60,407.5 479.77,374.1 479.94,360.1 480.11,356.7 480.28,379.2 480.45,371.7 480.62,347.3 480.79,409.2 480.96,362.1 481.13,371.3 481.30,413.3 481.47,358.6 481.64,350.8 481.81,415.7 481.98,366.8 482.15,370.5 482.32,363.4 482.49,357.8 482.66,348.8 482.83,367.9 483.00,353.7 483.17,367.4 483.34,376.0 483.51,354.4 483.68,365.6 483.85,351.0 484.02,375.7 484.19,355.3 484.36,368.3 484.53,352.5 484.70,347.2 484.87,357.4 485.04,372.3 485.21,362.7 485.38,365.7 485.55,379.8 485.72,353.7 485.89,354.2 486.06,370.3 486.23,409.7 486.40,409.3 486.57,371.6 486.74,404.5 486.91,364.1 487.08,367.7 487.25,380.4 487.42,369.8 487.59,362.3 487.76,352.4 487.93,357.8 488.10,367.0 488.27,370.4 488.44,370.6 488.61,370.4 488.78,358.2 488.95,368.1 489.12,355.5 489.29,368.2 489.46,369.2 489.63,361.0 489.80,353.7 489.97,373.3 490.14,365.6 490.31,375.5 490.48,351.3 490.65,349.8 490.82,366.4 490.99,364.1 491.16,353.8 491.33,391.0 491.50,349.9 491.67,388.9 491.84,363.5 492.01,371.6 492.18,354.9 492.35,370.9 492.52,365.5 492.69,374.3 492.86,368.0 493.03,361.8 493.20,396.9 493.37,374.2 493.54,365.6 493.71,399.6 493.88,359.2 494.05,372.4 494.22,373.6 494.39,371.7 494.56,369.1 494.73,357.0 494.90,353.0 495.07,358.8 495.24,373.2 495.41,361.1 495.58,352.7 495.75,375.5 495.92,369.5 496.09,353.2 496.26,353.3 496.43,364.2 496.60,362.2 496.77,363.3 496.94,354.5 497.11,409.1 497.28,374.0 497.45,374.5 497.62,415.3 497.79,358.4 497.96,364.7 498.13,371.3 498.30,353.7 498.47,356.5 498.64,353.4 498.81,375.2 498.98,361.9 499.15,394.4 499.32,374.5 499.49,359.1 499.66,366.6 499.83,361.9 500.00,361.4 500.17,351.6 500.34,373.4 500.51,368.0 500.68,356.6 500.85,372.0 501.02,361.2 501.19,364.2 501.36,354.1 501.53,373.2 501.70,368.6 501.87,369.0 502.04,365.7 502.21,356.8 502.38,351.3 502.55,353.7 502.72,374.6 502.89,353.6 503.06,360.1 503.23,374.1 503.40,369.8 503.57,350.4 503.74,375.2 503.91,354.0 504.08,374.7 504.25,350.1 504.42,351.5 504.59,361.5 504.76,366.1 504.93,375.3 505.10,353.2 505.27,352.7 505.44,350.5 505.61,351.8 505.78,381.6 505.95,359.2 506.12,381.0 506.29,414.2 506.46,352.2 506.63,375.4 506.80,365.9 506.97,374.0 507.14,411.7 507.31,354.7 507.48,370.7 507.65,357.3 507.82,362.5 507.99,362.3 508.16,363.1 508.33,360.4 508.50,373.4 508.67,358.3 508.84,367.9 509.01,374.9 509.18,347.5 509.35,354.7 509.52,376.2 509.69,367.9 509.86,357.5 510.03,369.9 510.20,365.5 510.37,350.4 510.54,347.5 510.71,376.8 510.88,348.5 511.05,366.3 511.22,379.7 511.39,352.0 511.56,391.1 511.73,356.1 511.90,372.9 512.07,371.0 512.24,355.7 512.41,370.6 512.58,368.0 512.75,364.0 512.92,375.8 513.09,392.6 513.26,363.8 513.43,362.1 513.60,355.5 513.77,374.4 513.94,353.1 514.11,363.3 514.28,352.2 514.45,351.8 514.62,343.9 514.79,372.8 514.96,341.1 515.13,373.2 515.30,343.7 515.47,358.2 515.64,367.8 515.81,399.5 515.98,339.6 516.15,357.6 516.32,357.8 516.49,356.3 516.66,348.5 516.83,342.7 517.00,338.5 517.17,346.8 517.34,364.5 517.51,346.7 517.68,361.9 517.85,356.4 518.02,354.9 518.19,409.9 518.36,375.8 518.53,347.9 518.70,366.7 518.87,366.2 519.04,372.2 519.21,340.9 519.38,372.8 519.55,339.2 519.72,409.7 519.89,352.3 520.06,349.0 520.23,366.1 520.40,361.8 520.57,348.5 520.74,408.9 520.91,335.3" fill="none" stroke="#ff961c" stroke-width="0.7" stroke-linejoin="bevel"/>
<path d="M304.60,254.20 C307.17,254.97 314.83,257.30 320.00,258.80 C325.17,260.30 330.60,261.78 335.60,263.20 C340.60,264.62 344.77,265.73 350.00,267.30 C355.23,268.87 361.87,270.60 367.00,272.60 C372.13,274.60 375.82,276.07 380.80,279.30 C385.78,282.53 391.90,287.02 396.90,292.00 C401.90,296.98 407.78,305.37 410.80,309.20 C413.82,313.03 414.30,314.03 415.00,315.00" fill="none" stroke="#ff2c12" stroke-width="1.2"/>
<polygon points="415.0,317.5 415.5,318.1 416.0,318.7 416.5,319.3 417.0,319.9 417.5,320.5 418.0,321.1 418.5,321.7 419.0,322.3 419.5,322.9 420.0,323.5 420.5,324.5 421.0,325.5 421.5,326.5 422.0,327.5 422.5,328.5 423.0,329.5 423.5,330.5 424.0,331.5 424.5,332.5 425.0,333.5 425.5,334.1 426.0,334.6 426.5,335.1 427.0,335.7 427.5,336.2 428.0,336.8 428.5,337.4 429.0,337.9 429.5,338.5 430.0,339.0 430.5,338.9 431.0,338.8 431.5,338.7 432.0,338.6 432.5,338.5 433.0,338.4 433.5,338.2 434.0,338.1 434.5,338.0 435.0,337.9 435.5,337.8 436.0,337.7 436.5,337.6 437.0,337.5 437.5,337.2 438.0,336.9 438.5,336.7 439.0,336.4 439.5,336.1 440.0,335.8 440.5,335.5 441.0,335.2 441.5,335.0 442.0,334.7 442.5,334.4 443.0,334.1 443.5,333.8 444.0,333.6 444.5,333.3 445.0,333.0 445.5,332.9 446.0,332.8 446.5,332.7 447.0,332.6 447.5,332.5 448.0,332.4 448.5,332.3 449.0,332.2 449.5,332.1 450.0,332.0 450.5,332.2 451.0,332.3 451.5,332.4 452.0,332.6 452.5,332.8 453.0,332.9 453.5,333.1 454.0,333.2 454.5,333.4 455.0,333.5 455.5,334.4 456.0,335.2 456.5,336.1 457.0,337.0 457.5,337.9 458.0,338.8 458.5,339.6 459.0,343.5 459.5,344.1 460.0,344.7 460.5,345.2 461.0,345.8 461.5,346.4 462.0,347.0 462.5,347.6 463.0,348.2 463.5,348.8 464.0,349.3 464.5,349.9 465.0,350.5 465.5,350.8 466.0,351.0 466.5,351.3 467.0,351.6 467.5,351.9 468.0,352.1 468.5,352.4 469.0,352.7 469.5,352.9 470.0,353.2 470.5,353.3 471.0,353.4 471.5,353.5 472.0,353.6 472.5,353.7 473.0,353.8 473.5,353.9 474.0,354.0 474.5,354.1 475.0,354.2 475.5,354.3 476.0,354.4 476.5,354.5 477.0,354.6 477.5,354.7 478.0,354.8 478.5,354.8 479.0,354.9 479.5,355.0 480.0,355.1 480.5,355.2 481.0,355.3 481.5,355.4 482.0,355.5 482.5,355.6 483.0,355.7 483.5,355.8 484.0,355.9 484.5,356.0 485.0,356.1 485.5,356.2 486.0,356.3 486.5,356.5 487.0,356.6 487.5,356.8 488.0,356.9 488.5,357.1 489.0,357.2 489.5,357.4 490.0,357.5 490.5,357.7 491.0,357.8 491.5,358.0 492.0,358.1 492.5,358.3 493.0,358.4 493.5,358.6 494.0,358.8 494.5,358.9 495.0,359.1 495.5,359.2 496.0,359.4 496.5,359.5 497.0,359.7 497.5,359.8 498.0,360.0 498.5,360.1 499.0,360.3 499.5,360.4 500.0,360.6 500.5,360.7 501.0,360.9 501.5,360.5 502.0,360.2 502.5,359.8 503.0,359.5 503.5,359.1 504.0,358.7 504.5,358.4 505.0,358.0 505.5,357.6 506.0,357.3 506.5,356.9 507.0,356.6 507.5,356.2 508.0,355.8 508.5,355.5 509.0,355.1 509.5,354.8 510.0,354.4 510.5,354.0 511.0,353.7 511.5,353.3 512.0,352.9 512.5,352.6 513.0,352.2 513.5,351.9 514.0,351.5 514.5,350.9 515.0,350.3 515.5,349.6 516.0,349.0 516.5,348.4 517.0,347.8 517.5,347.1 518.0,346.5 518.5,345.9 519.0,345.2 519.5,344.6 520.0,344.0 520.5,343.6 521.0,343.2 521.5,342.9 522.0,342.5 522.0,378.0 521.5,378.0 521.0,378.0 520.5,378.0 520.0,378.0 519.5,378.0 519.0,378.0 518.5,378.0 518.0,378.0 517.5,378.0 517.0,377.9 516.5,377.9 516.0,377.9 515.5,377.9 515.0,377.9 514.5,377.9 514.0,377.9 513.5,377.9 513.0,377.9 512.5,377.9 512.0,377.9 511.5,377.8 511.0,377.8 510.5,377.8 510.0,377.8 509.5,377.8 509.0,377.8 508.5,377.8 508.0,377.8 507.5,377.8 507.0,377.8 506.5,377.8 506.0,377.7 505.5,377.7 505.0,377.7 504.5,377.7 504.0,377.7 503.5,377.7 503.0,377.7 502.5,377.7 502.0,377.7 501.5,377.7 501.0,377.7 500.5,377.6 500.0,377.6 499.5,377.6 499.0,377.6 498.5,377.6 498.0,377.6 497.5,377.6 497.0,377.6 496.5,377.6 496.0,377.6 495.5,377.6 495.0,377.5 494.5,377.5 494.0,377.5 493.5,377.5 493.0,377.5 492.5,377.5 492.0,377.5 491.5,377.5 491.0,377.5 490.5,377.5 490.0,377.5 489.5,377.4 489.0,377.4 488.5,377.4 488.0,377.4 487.5,377.4 487.0,377.4 486.5,377.4 486.0,377.4 485.5,377.4 485.0,377.4 484.5,377.4 484.0,377.3 483.5,377.3 483.0,377.3 482.5,377.3 482.0,377.3 481.5,377.3 481.0,377.3 480.5,377.3 480.0,377.3 479.5,377.3 479.0,377.3 478.5,377.2 478.0,377.2 477.5,377.2 477.0,377.2 476.5,377.2 476.0,377.2 475.5,377.2 475.0,377.2 474.5,377.2 474.0,377.2 473.5,377.2 473.0,377.1 472.5,377.1 472.0,377.1 471.5,377.1 471.0,377.1 470.5,377.1 470.0,377.1 469.5,377.1 469.0,377.1 468.5,377.1 468.0,377.1 467.5,377.0 467.0,377.0 466.5,377.0 466.0,377.0 465.5,377.0 465.0,377.0 464.5,375.5 464.0,374.0 463.5,372.5 463.0,371.0 462.5,369.5 462.0,368.0 461.5,366.5 461.0,365.0 460.5,363.5 460.0,362.0 459.5,360.5 459.0,359.0 458.5,358.0 458.0,355.5 457.5,353.0 457.0,350.5 456.5,348.0 456.0,345.5 455.5,343.0 455.0,340.5 454.5,340.3 454.0,340.1 453.5,339.9 453.0,339.8 452.5,339.6 452.0,339.4 451.5,339.2 451.0,339.0 450.5,338.8 450.0,338.6 449.5,338.4 449.0,338.2 448.5,338.1 448.0,337.9 447.5,337.7 447.0,337.5 446.5,337.7 446.0,337.9 445.5,338.1 445.0,338.4 444.5,338.6 444.0,338.8 443.5,339.0 443.0,339.2 442.5,339.4 442.0,339.6 441.5,339.9 441.0,340.1 440.5,340.3 440.0,340.5 439.5,341.1 439.0,341.8 438.5,342.4 438.0,343.1 437.5,343.8 437.0,344.4 436.5,345.0 436.0,345.7 435.5,346.4 435.0,347.0 434.5,347.2 434.0,347.3 433.5,347.4 433.0,347.6 432.5,347.8 432.0,347.9 431.5,348.0 431.0,348.2 430.5,348.4 430.0,348.5 429.5,347.7 429.0,346.9 428.5,346.1 428.0,345.3 427.5,344.5 427.0,343.7 426.5,342.9 426.0,342.1 425.5,341.3 425.0,340.5 424.5,338.7 424.0,336.9 423.5,335.1 423.0,333.3 422.5,331.5 422.0,329.7 421.5,327.9 421.0,326.1 420.5,324.3 420.0,322.5 419.5,321.6 419.0,320.7 418.5,319.8 418.0,318.9 417.5,318.0 417.0,317.1 416.5,316.2 416.0,315.3 415.5,314.4 415.0,313.5" fill="#ff2c12"/>
<polyline points="415.00,315.0 415.17,315.3 415.34,315.4 415.51,315.8 415.68,315.9 415.85,316.4 416.02,316.5 416.19,316.9 416.36,317.3 416.53,316.9 416.70,318.0 416.87,317.3 417.04,318.6 417.21,317.8 417.38,319.1 417.55,318.9 417.72,319.2 417.89,319.6 418.06,320.5 418.23,319.7 418.40,321.0 418.57,319.4 418.74,320.1 418.91,321.1 419.08,321.4 419.25,322.2 419.42,322.3 419.59,321.3 419.76,321.7 419.93,322.1 420.10,321.9 420.27,324.6 420.44,325.1 420.61,324.4 420.78,324.8 420.95,322.9 421.12,327.3 421.29,326.2 421.46,325.0 421.63,328.8 421.80,327.8 421.97,325.3 422.14,326.5 422.31,335.1 422.48,331.9 422.65,329.1 422.82,328.0 422.99,330.9 423.16,327.6 423.33,329.5 423.50,332.3 423.67,329.4 423.84,333.3 424.01,331.1 424.18,329.9 424.35,332.5 424.52,336.5 424.69,333.5 424.86,332.7 425.03,340.6 425.20,340.2 425.37,332.5 425.54,341.2 425.71,337.9 425.88,336.1 426.05,341.6 426.22,333.2 426.39,342.7 426.56,339.4 426.73,342.4 426.90,337.9 427.07,341.6 427.24,334.6 427.41,340.6 427.58,353.8 427.75,334.9 427.92,346.0 428.09,335.6 428.26,341.6 428.43,352.3 428.60,338.3 428.77,347.2 428.94,342.4 429.11,341.3 429.28,346.9 429.45,338.6 429.62,336.6 429.79,349.4 429.96,342.8 430.13,340.8 430.30,346.4 430.47,342.1 430.64,346.4 430.81,343.1 430.98,347.6 431.15,351.1 431.32,337.0 431.49,347.3 431.66,348.8 431.83,346.3 432.00,347.8 432.17,348.6 432.34,353.6 432.51,354.8 432.68,336.6 432.85,340.7 433.02,338.9 433.19,338.3 433.36,354.9 433.53,346.8 433.70,336.6 433.87,346.5 434.04,335.8 434.21,346.3 434.38,342.2 434.55,343.3 434.72,339.1 434.89,337.5 435.06,348.0 435.23,347.8 435.40,348.9 435.57,335.7 435.74,341.1 435.91,337.3 436.08,338.5 436.25,346.4 436.42,346.4 436.59,340.1 436.76,340.3 436.93,340.1 437.10,347.8 437.27,344.0 437.44,337.2 437.61,343.0 437.78,342.0 437.95,341.7 438.12,339.5 438.29,344.7 438.46,340.5 438.63,352.1 438.80,342.3 438.97,340.1 439.14,342.8 439.31,339.9 439.48,333.9 439.65,341.4 439.82,335.7 439.99,336.3 440.16,334.6 440.33,336.5 440.50,337.2 440.67,333.8 440.84,337.6 441.01,336.9 441.18,339.5 441.35,340.2 441.52,338.0 441.69,339.8 441.86,340.8 442.03,337.9 442.20,338.1 442.37,339.1 442.54,338.3 442.71,338.6 442.88,332.7 443.05,339.4 443.22,334.4 443.39,337.7 443.56,332.2 443.73,337.3 443.90,332.4 444.07,332.7 444.24,331.1 444.41,332.6 444.58,330.9 444.75,338.9 444.92,334.4 445.09,339.3 445.26,336.9 445.43,333.5 445.60,337.0 445.77,337.7 445.94,334.9 446.11,333.1 446.28,334.9 446.45,336.2 446.62,338.7 446.79,335.6 446.96,335.7 447.13,335.7 447.30,334.7 447.47,333.5 447.64,331.3 447.81,336.9 447.98,332.5 448.15,332.4 448.32,330.8 448.49,338.9 448.66,332.3 448.83,338.2 449.00,330.6 449.17,334.3 449.34,338.7 449.51,345.2 449.68,339.4 449.85,338.8 450.02,333.2 450.19,330.5 450.36,335.3 450.53,338.1 450.70,339.7 450.87,338.5 451.04,339.5 451.21,338.6 451.38,340.6 451.55,330.5 451.72,332.8 451.89,340.0 452.06,330.9 452.23,336.0 452.40,333.5 452.57,340.1 452.74,339.9 452.91,340.7 453.08,335.2 453.25,330.8 453.42,333.3 453.59,333.6 453.76,334.5 453.93,331.6 454.10,345.8 454.27,331.4 454.44,340.5 454.61,338.8 454.78,334.7 454.95,332.0 455.12,342.4 455.29,342.9 455.46,336.2 455.63,344.2 455.80,354.6 455.97,343.7 456.14,340.5 456.31,341.2 456.48,346.3 456.65,334.1 456.82,347.1 456.99,351.6 457.16,342.0 457.33,353.6 457.50,345.7 457.67,343.6 457.84,350.3 458.01,337.3 458.18,346.6 458.35,340.5 458.52,353.8 458.69,344.2 458.86,356.3 459.03,359.5 459.20,351.2 459.37,350.1 459.54,351.7 459.71,348.4 459.88,345.9 460.05,340.3 460.22,351.5 460.39,410.7 460.56,351.9 460.73,411.5 460.90,345.1 461.07,347.7 461.24,360.1 461.41,406.1 461.58,350.3 461.75,343.7 461.92,396.0 462.09,347.5 462.26,404.0 462.43,357.6 462.60,359.0 462.77,350.6 462.94,359.6 463.11,344.8 463.28,398.8 463.45,401.8 463.62,358.9 463.79,359.9 463.96,346.3 464.13,369.2 464.30,358.9 464.47,376.5 464.64,354.7 464.81,377.4 464.98,381.3 465.15,412.1 465.32,348.3 465.49,363.4 465.66,375.4 465.83,366.0 466.00,369.6 466.17,376.1 466.34,401.7 466.51,363.9 466.68,348.0 466.85,360.4 467.02,348.6 467.19,360.1 467.36,368.7 467.53,398.7 467.70,378.8 467.87,390.2 468.04,373.6 468.21,392.1 468.38,354.2 468.55,354.2 468.72,378.3 468.89,350.5 469.06,355.2 469.23,367.9 469.40,367.1 469.57,353.3 469.74,355.9 469.91,406.7 470.08,349.7 470.25,375.1 470.42,369.4 470.59,366.9 470.76,361.8 470.93,348.0 471.10,403.2 471.27,372.5 471.44,397.5 471.61,361.2 471.78,370.4 471.95,358.4 472.12,358.4 472.29,376.6 472.46,358.4 472.63,402.8 472.80,363.4 472.97,368.2 473.14,378.7 473.31,374.1 473.48,368.1 473.65,361.9 473.82,367.1 473.99,394.5 474.16,361.8 474.33,364.8 474.50,377.3 474.67,370.3 474.84,365.3 475.01,367.2 475.18,354.1 475.35,364.8 475.52,369.8 475.69,374.9 475.86,350.7 476.03,394.9 476.20,378.1 476.37,377.0 476.54,351.6 476.71,354.5 476.88,361.0 477.05,356.2 477.22,399.9 477.39,362.1 477.56,393.7 477.73,366.4 477.90,359.8 478.07,351.0 478.24,357.8 478.41,366.6 478.58,350.5 478.75,361.9 478.92,355.4 479.09,410.6 479.26,362.5 479.43,357.1 479.60,409.6 479.77,388.3 479.94,351.4 480.11,350.2 480.28,412.1 480.45,350.7 480.62,374.3 480.79,375.7 480.96,352.8 481.13,353.1 481.30,366.8 481.47,355.3 481.64,369.6 481.81,353.3 481.98,351.3 482.15,398.3 482.32,354.1 482.49,363.9 482.66,377.1 482.83,370.0 483.00,399.5 483.17,364.0 483.34,414.5 483.51,359.7 483.68,365.2 483.85,360.6 484.02,378.7 484.19,393.3 484.36,377.6 484.53,378.2 484.70,352.8 484.87,357.6 485.04,395.8 485.21,354.9 485.38,412.9 485.55,386.2 485.72,385.1 485.89,351.7 486.06,355.1 486.23,359.4 486.40,411.3 486.57,372.3 486.74,368.2 486.91,377.6 487.08,404.9 487.25,353.0 487.42,366.4 487.59,364.3 487.76,358.0 487.93,364.3 488.10,367.6 488.27,374.9 488.44,376.0 488.61,365.8 488.78,354.2 488.95,410.0 489.12,356.5 489.29,362.7 489.46,365.0 489.63,412.0 489.80,385.6 489.97,401.0 490.14,400.6 490.31,360.3 490.48,376.4 490.65,359.8 490.82,359.1 490.99,355.3 491.16,415.4 491.33,355.7 491.50,384.6 491.67,360.9 491.84,353.1 492.01,363.1 492.18,387.2 492.35,375.4 492.52,407.1 492.69,405.0 492.86,412.5 493.03,364.9 493.20,357.9 493.37,374.0 493.54,367.9 493.71,361.4 493.88,355.1 494.05,388.6 494.22,354.3 494.39,373.3 494.56,365.3 494.73,409.6 494.90,364.6 495.07,375.0 495.24,355.2 495.41,356.6 495.58,362.1 495.75,413.6 495.92,373.6 496.09,357.5 496.26,380.5 496.43,400.7 496.60,373.0 496.77,377.0 496.94,369.8 497.11,367.5 497.28,358.6 497.45,370.9 497.62,368.2 497.79,371.2 497.96,356.5 498.13,413.6 498.30,356.5 498.47,411.2 498.64,388.6 498.81,412.7 498.98,366.1 499.15,357.4 499.32,357.9 499.49,365.4 499.66,370.0 499.83,377.6 500.00,357.3 500.17,369.3 500.34,371.3 500.51,366.4 500.68,413.7 500.85,360.3 501.02,361.3 501.19,359.9 501.36,367.9 501.53,359.5 501.70,364.8 501.87,358.3 502.04,372.2 502.21,367.1 502.38,368.7 502.55,368.9 502.72,384.2 502.89,376.4 503.06,374.0 503.23,363.9 503.40,379.8 503.57,357.9 503.74,379.0 503.91,378.3 504.08,366.7 504.25,364.8 504.42,369.2 504.59,416.3 504.76,375.7 504.93,392.7 505.10,366.0 505.27,361.1 505.44,361.6 505.61,413.8 505.78,355.7 505.95,353.3 506.12,372.4 506.29,379.2 506.46,377.0 506.63,409.3 506.80,374.2 506.97,403.5 507.14,362.3 507.31,359.9 507.48,379.5 507.65,385.0 507.82,357.4 507.99,360.0 508.16,364.2 508.33,371.6 508.50,374.7 508.67,366.7 508.84,402.8 509.01,407.6 509.18,394.1 509.35,353.1 509.52,367.2 509.69,371.2 509.86,402.6 510.03,408.9 510.20,377.1 510.37,370.9 510.54,376.2 510.71,368.4 510.88,358.6 511.05,364.9 511.22,359.2 511.39,370.4 511.56,352.5 511.73,367.8 511.90,356.5 512.07,364.0 512.24,376.5 512.41,403.0 512.58,413.1 512.75,374.3 512.92,372.9 513.09,360.7 513.26,371.6 513.43,353.6 513.60,371.2 513.77,361.2 513.94,348.7 514.11,368.5 514.28,352.2 514.45,379.4 514.62,349.0 514.79,351.0 514.96,347.2 515.13,374.4 515.30,352.3 515.47,402.3 515.64,368.1 515.81,357.3 515.98,365.9 516.15,367.0 516.32,343.5 516.49,374.3 516.66,379.4 516.83,407.1 517.00,364.4 517.17,413.5 517.34,375.2 517.51,406.5 517.68,402.1 517.85,368.7 518.02,388.5 518.19,365.2 518.36,349.6 518.53,345.1 518.70,372.3 518.87,357.8 519.04,413.9 519.21,358.7 519.38,369.1 519.55,366.0 519.72,395.5 519.89,349.9 520.06,370.7 520.23,340.5 520.40,361.3 520.57,364.3 520.74,358.1 520.91,338.5" fill="none" stroke="#ff2c12" stroke-width="0.7" stroke-linejoin="bevel"/>
</g>
<line x1="302.7" y1="243.6" x2="302.7" y2="416.5" stroke="#2a2a2a" stroke-width="1.5"/>
<line x1="298.6" y1="415.8" x2="520" y2="415.8" stroke="#1e1e1e" stroke-width="1.5"/>
<line x1="298.6" y1="415.20" x2="302.7" y2="415.20" stroke="#222" stroke-width="1.0"/>
<line x1="300.3" y1="405.85" x2="302.7" y2="405.85" stroke="#333" stroke-width="0.9"/>
<line x1="300.3" y1="400.38" x2="302.7" y2="400.38" stroke="#333" stroke-width="0.9"/>
<line x1="300.3" y1="396.50" x2="302.7" y2="396.50" stroke="#333" stroke-width="0.9"/>
<line x1="300.3" y1="393.49" x2="302.7" y2="393.49" stroke="#333" stroke-width="0.9"/>
<line x1="300.3" y1="391.03" x2="302.7" y2="391.03" stroke="#333" stroke-width="0.9"/>
<line x1="300.3" y1="388.95" x2="302.7" y2="388.95" stroke="#333" stroke-width="0.9"/>
<line x1="300.3" y1="387.15" x2="302.7" y2="387.15" stroke="#333" stroke-width="0.9"/>
<line x1="300.3" y1="385.56" x2="302.7" y2="385.56" stroke="#333" stroke-width="0.9"/>
<text x="296.50" y="418.00" font-size="8.60" text-anchor="end" font-family="Liberation Sans, sans-serif" fill="#222">10<tspan font-size="6.20" dy="-3.4" dx="0.3">-5</tspan></text>
<line x1="298.6" y1="384.14" x2="302.7" y2="384.14" stroke="#222" stroke-width="1.0"/>
<line x1="300.3" y1="374.79" x2="302.7" y2="374.79" stroke="#333" stroke-width="0.9"/>
<line x1="300.3" y1="369.32" x2="302.7" y2="369.32" stroke="#333" stroke-width="0.9"/>
<line x1="300.3" y1="365.44" x2="302.7" y2="365.44" stroke="#333" stroke-width="0.9"/>
<line x1="300.3" y1="362.43" x2="302.7" y2="362.43" stroke="#333" stroke-width="0.9"/>
<line x1="300.3" y1="359.97" x2="302.7" y2="359.97" stroke="#333" stroke-width="0.9"/>
<line x1="300.3" y1="357.89" x2="302.7" y2="357.89" stroke="#333" stroke-width="0.9"/>
<line x1="300.3" y1="356.09" x2="302.7" y2="356.09" stroke="#333" stroke-width="0.9"/>
<line x1="300.3" y1="354.50" x2="302.7" y2="354.50" stroke="#333" stroke-width="0.9"/>
<text x="296.50" y="386.94" font-size="8.60" text-anchor="end" font-family="Liberation Sans, sans-serif" fill="#222">10<tspan font-size="6.20" dy="-3.4" dx="0.3">-4</tspan></text>
<line x1="298.6" y1="353.08" x2="302.7" y2="353.08" stroke="#222" stroke-width="1.0"/>
<line x1="300.3" y1="343.73" x2="302.7" y2="343.73" stroke="#333" stroke-width="0.9"/>
<line x1="300.3" y1="338.26" x2="302.7" y2="338.26" stroke="#333" stroke-width="0.9"/>
<line x1="300.3" y1="334.38" x2="302.7" y2="334.38" stroke="#333" stroke-width="0.9"/>
<line x1="300.3" y1="331.37" x2="302.7" y2="331.37" stroke="#333" stroke-width="0.9"/>
<line x1="300.3" y1="328.91" x2="302.7" y2="328.91" stroke="#333" stroke-width="0.9"/>
<line x1="300.3" y1="326.83" x2="302.7" y2="326.83" stroke="#333" stroke-width="0.9"/>
<line x1="300.3" y1="325.03" x2="302.7" y2="325.03" stroke="#333" stroke-width="0.9"/>
<line x1="300.3" y1="323.44" x2="302.7" y2="323.44" stroke="#333" stroke-width="0.9"/>
<text x="296.50" y="355.88" font-size="8.60" text-anchor="end" font-family="Liberation Sans, sans-serif" fill="#222">10<tspan font-size="6.20" dy="-3.4" dx="0.3">-3</tspan></text>
<line x1="298.6" y1="322.02" x2="302.7" y2="322.02" stroke="#222" stroke-width="1.0"/>
<line x1="300.3" y1="312.67" x2="302.7" y2="312.67" stroke="#333" stroke-width="0.9"/>
<line x1="300.3" y1="307.20" x2="302.7" y2="307.20" stroke="#333" stroke-width="0.9"/>
<line x1="300.3" y1="303.32" x2="302.7" y2="303.32" stroke="#333" stroke-width="0.9"/>
<line x1="300.3" y1="300.31" x2="302.7" y2="300.31" stroke="#333" stroke-width="0.9"/>
<line x1="300.3" y1="297.85" x2="302.7" y2="297.85" stroke="#333" stroke-width="0.9"/>
<line x1="300.3" y1="295.77" x2="302.7" y2="295.77" stroke="#333" stroke-width="0.9"/>
<line x1="300.3" y1="293.97" x2="302.7" y2="293.97" stroke="#333" stroke-width="0.9"/>
<line x1="300.3" y1="292.38" x2="302.7" y2="292.38" stroke="#333" stroke-width="0.9"/>
<text x="296.50" y="324.82" font-size="8.60" text-anchor="end" font-family="Liberation Sans, sans-serif" fill="#222">10<tspan font-size="6.20" dy="-3.4" dx="0.3">-2</tspan></text>
<line x1="298.6" y1="290.96" x2="302.7" y2="290.96" stroke="#222" stroke-width="1.0"/>
<line x1="300.3" y1="281.61" x2="302.7" y2="281.61" stroke="#333" stroke-width="0.9"/>
<line x1="300.3" y1="276.14" x2="302.7" y2="276.14" stroke="#333" stroke-width="0.9"/>
<line x1="300.3" y1="272.26" x2="302.7" y2="272.26" stroke="#333" stroke-width="0.9"/>
<line x1="300.3" y1="269.25" x2="302.7" y2="269.25" stroke="#333" stroke-width="0.9"/>
<line x1="300.3" y1="266.79" x2="302.7" y2="266.79" stroke="#333" stroke-width="0.9"/>
<line x1="300.3" y1="264.71" x2="302.7" y2="264.71" stroke="#333" stroke-width="0.9"/>
<line x1="300.3" y1="262.91" x2="302.7" y2="262.91" stroke="#333" stroke-width="0.9"/>
<line x1="300.3" y1="261.32" x2="302.7" y2="261.32" stroke="#333" stroke-width="0.9"/>
<text x="296.50" y="293.76" font-size="8.60" text-anchor="end" font-family="Liberation Sans, sans-serif" fill="#222">10<tspan font-size="6.20" dy="-3.4" dx="0.3">-1</tspan></text>
<line x1="298.6" y1="259.90" x2="302.7" y2="259.90" stroke="#222" stroke-width="1.0"/>
<line x1="300.3" y1="250.55" x2="302.7" y2="250.55" stroke="#333" stroke-width="0.9"/>
<line x1="300.3" y1="245.08" x2="302.7" y2="245.08" stroke="#333" stroke-width="0.9"/>
<text x="296.50" y="262.70" font-size="8.60" text-anchor="end" font-family="Liberation Sans, sans-serif" fill="#222">10<tspan font-size="6.20" dy="-3.4" dx="0.3">0</tspan></text>
<line x1="310.62" y1="415.8" x2="310.62" y2="418.20" stroke="#222" stroke-width="1.0"/>
<line x1="319.74" y1="415.8" x2="319.74" y2="418.20" stroke="#222" stroke-width="1.0"/>
<line x1="327.46" y1="415.8" x2="327.46" y2="418.20" stroke="#222" stroke-width="1.0"/>
<line x1="334.14" y1="415.8" x2="334.14" y2="418.20" stroke="#222" stroke-width="1.0"/>
<line x1="340.03" y1="415.8" x2="340.03" y2="418.20" stroke="#222" stroke-width="1.0"/>
<line x1="345.30" y1="415.8" x2="345.30" y2="419.80" stroke="#222" stroke-width="1.0"/>
<line x1="379.98" y1="415.8" x2="379.98" y2="418.20" stroke="#222" stroke-width="1.0"/>
<line x1="400.26" y1="415.8" x2="400.26" y2="418.20" stroke="#222" stroke-width="1.0"/>
<line x1="414.66" y1="415.8" x2="414.66" y2="418.20" stroke="#222" stroke-width="1.0"/>
<line x1="425.82" y1="415.8" x2="425.82" y2="418.20" stroke="#222" stroke-width="1.0"/>
<line x1="434.94" y1="415.8" x2="434.94" y2="418.20" stroke="#222" stroke-width="1.0"/>
<line x1="442.66" y1="415.8" x2="442.66" y2="418.20" stroke="#222" stroke-width="1.0"/>
<line x1="449.34" y1="415.8" x2="449.34" y2="418.20" stroke="#222" stroke-width="1.0"/>
<line x1="455.23" y1="415.8" x2="455.23" y2="418.20" stroke="#222" stroke-width="1.0"/>
<text x="345.00" y="431.00" font-size="8.60" text-anchor="middle" font-family="Liberation Sans, sans-serif" fill="#222">10<tspan font-size="6.20" dy="-3.4" dx="0.3">-2</tspan></text>
<line x1="460.50" y1="415.8" x2="460.50" y2="419.80" stroke="#222" stroke-width="1.0"/>
<line x1="495.18" y1="415.8" x2="495.18" y2="418.20" stroke="#222" stroke-width="1.0"/>
<line x1="515.46" y1="415.8" x2="515.46" y2="418.20" stroke="#222" stroke-width="1.0"/>
<text x="460.20" y="431.00" font-size="8.60" text-anchor="middle" font-family="Liberation Sans, sans-serif" fill="#222">10<tspan font-size="6.20" dy="-3.4" dx="0.3">-1</tspan></text>
<text transform="translate(278.0,338.3) rotate(-90)" font-size="11.2" font-family="Liberation Sans, sans-serif" fill="#222" stroke="#222" stroke-width="0.35">I(q)</text>
<text x="396.9" y="441" font-size="11" font-family="Liberation Sans, sans-serif" fill="#222">q (Å<tspan font-size="7.5" dy="-4.5">-1</tspan><tspan dy="4.5">)</tspan></text>
<line x1="482" y1="244.30" x2="500.3" y2="244.30" stroke="#ff2c12" stroke-width="1.7"/>
<text x="504.4" y="247.60" font-size="9.3" font-family="Liberation Sans, sans-serif" fill="#222">F12</text>
<line x1="482" y1="258.30" x2="500.3" y2="258.30" stroke="#ff961c" stroke-width="1.7"/>
<text x="504.4" y="261.60" font-size="9.3" font-family="Liberation Sans, sans-serif" fill="#222">F14</text>
<line x1="482" y1="272.30" x2="500.3" y2="272.30" stroke="#ffff8c" stroke-width="1.7"/>
<text x="504.4" y="275.60" font-size="9.3" font-family="Liberation Sans, sans-serif" fill="#222">F16</text>
<line x1="482" y1="286.30" x2="500.3" y2="286.30" stroke="#1cb81c" stroke-width="1.7"/>
<text x="504.4" y="289.60" font-size="9.3" font-family="Liberation Sans, sans-serif" fill="#222">F18</text>
<line x1="482" y1="300.30" x2="500.3" y2="300.30" stroke="#8cffff" stroke-width="1.7"/>
<text x="504.4" y="303.60" font-size="9.3" font-family="Liberation Sans, sans-serif" fill="#222">F21</text>
<line x1="482" y1="314.30" x2="500.3" y2="314.30" stroke="#1838f4" stroke-width="1.7"/>
<text x="504.4" y="317.60" font-size="9.3" font-family="Liberation Sans, sans-serif" fill="#222">F24</text>
<rect x="325.8" y="325.5" width="91.7" height="71.5" fill="#fff"/>
<line x1="380.3" y1="325.5" x2="380.3" y2="397.0" stroke="#8a8a8a" stroke-width="0.7"/>
<text x="377.8" y="335.6" font-size="7" text-anchor="middle" font-family="Liberation Sans, sans-serif" fill="#222">3</text>
<line x1="395.3" y1="325.5" x2="395.3" y2="397.0" stroke="#8a8a8a" stroke-width="0.7"/>
<text x="392.3" y="335.6" font-size="7" text-anchor="middle" font-family="Liberation Sans, sans-serif" fill="#222">2</text>
<line x1="405.0" y1="325.5" x2="405.0" y2="397.0" stroke="#8a8a8a" stroke-width="0.7"/>
<text x="402.5" y="335.6" font-size="7" text-anchor="middle" font-family="Liberation Sans, sans-serif" fill="#222">1</text>
<g clip-path="url(#clipInset)">
<polyline points="326.00,331.2 327.00,331.6 328.00,331.9 329.00,332.2 330.00,332.5 331.00,332.9 332.00,333.2 333.00,333.6 334.00,334.0 335.00,334.4 336.00,334.8 337.00,335.3 338.00,335.7 339.00,336.3 340.00,336.8 341.00,337.3 342.00,337.9 343.00,338.4 344.00,339.0 345.00,339.6 346.00,340.2 347.00,340.9 348.00,341.6 349.00,342.3 350.00,343.0 351.00,343.8 352.00,344.6 353.00,345.5 353.22,345.7 353.44,345.9 353.66,346.1 353.88,346.3 354.10,346.6 354.32,346.7 354.54,346.9 354.76,347.1 354.98,347.3 355.20,347.6 355.42,347.8 355.64,347.9 355.86,348.1 356.08,348.4 356.30,348.7 356.52,348.9 356.74,349.0 356.96,349.3 357.18,349.5 357.40,349.7 357.62,349.8 357.84,350.1 358.06,350.3 358.28,350.6 358.50,350.8 358.72,351.0 358.94,351.0 359.16,351.3 359.38,351.7 359.60,351.8 359.82,352.0 360.04,352.2 360.26,352.5 360.48,352.6 360.70,352.8 360.92,352.8 361.14,353.4 361.36,353.4 361.58,353.7 361.80,353.6 362.02,354.2 362.24,354.0 362.46,354.2 362.68,354.6 362.90,354.6 363.12,354.9 363.34,355.4 363.56,355.1 363.78,355.5 364.00,355.9 364.22,356.0 364.44,356.4 364.66,356.4 364.88,356.3 365.10,356.7 365.32,356.6 365.54,357.0 365.76,357.5 365.98,357.3 366.20,357.3 366.42,358.0 366.64,358.1 366.86,358.0 367.08,358.3 367.30,358.8 367.52,358.3 367.74,359.1 367.96,359.2 368.18,358.7 368.40,358.9 368.62,359.3 368.84,359.6 369.06,360.1 369.28,359.9 369.50,360.1 369.72,360.0 369.94,360.0 370.16,360.5 370.38,360.8 370.60,361.2 370.82,361.5 371.04,361.2 371.26,361.4 371.48,361.9 371.70,361.9 371.92,361.5 372.14,362.3 372.36,362.5 372.58,361.8 372.80,363.0 373.02,362.6 373.24,363.3 373.46,363.5 373.68,363.0 373.90,363.1 374.12,363.0 374.34,364.2 374.56,363.7 374.78,363.4 375.00,364.4 375.22,363.8 375.44,364.6 375.66,365.3 375.88,364.8 376.10,365.1 376.32,365.4 376.54,365.2 376.76,365.1 376.98,365.0 377.20,364.9 377.42,365.4 377.64,366.4 377.86,365.0 378.08,365.4 378.30,365.7 378.52,366.4 378.74,366.6 378.96,365.8 379.18,365.9 379.40,365.8 379.62,366.6 379.84,366.1 380.06,366.7 380.28,366.9 380.50,366.8 380.72,367.1 380.94,366.3 381.16,366.2 381.38,367.3 381.60,367.3 381.82,366.7 382.04,366.9 382.26,366.2 382.48,366.5 382.70,366.6 382.92,366.6 383.14,366.3 383.36,366.4 383.58,367.6 383.80,367.2 384.02,366.5 384.24,366.9 384.46,367.1 384.68,366.5 384.90,367.4 385.12,367.2 385.34,366.5 385.56,368.2 385.78,367.7 386.00,367.1 386.22,366.9 386.44,366.6 386.66,367.5 386.88,366.7 387.10,367.0 387.32,367.0 387.54,366.7 387.76,366.7 387.98,366.7 388.20,367.7 388.42,367.7 388.64,367.6 388.86,367.0 389.08,367.2 389.30,366.8 389.52,367.2 389.74,367.6 389.96,367.4 390.18,367.2 390.40,367.7 390.62,367.5 390.84,367.4 391.06,367.1 391.28,366.8 391.50,367.1 391.72,366.8 391.94,367.6 392.16,367.1 392.38,366.8 392.60,367.4 392.82,367.5 393.04,367.0 393.26,367.6 393.48,367.1 393.70,366.9 393.92,366.9 394.14,367.1 394.36,367.1 394.58,367.3 394.80,367.6 395.02,366.6 395.24,366.9 395.46,366.5 395.68,366.7 395.90,367.1 396.12,366.8 396.34,366.3 396.56,366.7 396.78,366.5 397.00,366.5 397.22,367.0 397.44,366.3 397.66,366.9 397.88,366.8 398.10,366.7 398.32,366.4 398.54,366.7 398.76,367.0 398.98,366.8 399.20,366.7 399.42,366.9 399.64,366.9 399.86,366.6 400.08,366.4 400.30,366.9 400.52,366.5 400.74,366.5 400.96,367.0 401.18,366.3 401.40,367.0 401.62,366.9 401.84,366.6 402.06,367.2 402.28,367.3 402.50,366.6 402.72,366.5 402.94,366.7 403.16,367.0 403.38,367.0 403.60,367.5 403.82,367.1 404.04,367.1 404.26,367.2 404.48,366.8 404.70,367.0 404.92,367.4 405.14,367.9 405.36,367.4 405.58,367.2 405.80,367.8 406.02,367.4 406.24,367.4 406.46,367.4 406.68,367.8 406.90,368.2 407.12,368.3 407.34,368.1 407.56,368.0 407.78,368.4 408.00,367.7 408.22,367.9 408.44,367.9 408.66,368.3 408.88,368.1 409.10,368.8 409.32,368.2 409.54,369.1 409.76,369.3 409.98,369.2 410.20,369.2 410.42,368.7 410.64,369.8 410.86,369.2 411.08,369.2 411.30,369.7 411.52,369.2 411.74,369.6 411.96,369.8 412.18,369.9 412.40,370.1 412.62,370.5 412.84,369.8 413.06,370.2 413.28,370.8 413.50,371.2 413.72,370.9 413.94,371.5 414.16,371.4 414.38,371.7 414.60,370.8 414.82,371.9 415.04,372.1 415.26,371.7 415.48,372.6 415.70,371.8 415.92,372.2 416.14,373.0 416.36,372.2 416.58,372.5 416.80,372.5 417.02,373.4 417.24,373.9 417.46,373.2 417.68,374.0 417.90,373.0" fill="none" stroke="#1838f4" stroke-width="1.1" stroke-linejoin="round"/>
<polyline points="326.00,332.2 327.00,332.6 328.00,332.9 329.00,333.2 330.00,333.6 331.00,333.9 332.00,334.3 333.00,334.7 334.00,335.1 335.00,335.5 336.00,335.9 337.00,336.4 338.00,337.0 339.00,337.5 340.00,338.1 341.00,338.7 342.00,339.3 343.00,340.0 344.00,340.7 345.00,341.4 346.00,342.1 347.00,342.8 348.00,343.6 349.00,344.4 350.00,345.2 351.00,346.1 352.00,347.0 353.00,348.1 353.22,348.2 353.44,348.6 353.66,348.8 353.88,349.1 354.10,349.3 354.32,349.7 354.54,349.7 354.76,349.8 354.98,350.0 355.20,350.6 355.42,350.5 355.64,351.0 355.86,351.3 356.08,351.4 356.30,351.5 356.52,351.6 356.74,352.4 356.96,352.8 357.18,352.6 357.40,352.7 357.62,352.8 357.84,353.2 358.06,354.0 358.28,353.6 358.50,354.1 358.72,354.2 358.94,354.6 359.16,354.6 359.38,355.0 359.60,355.9 359.82,356.0 360.04,356.0 360.26,356.2 360.48,356.6 360.70,356.8 360.92,357.4 361.14,357.3 361.36,356.7 361.58,358.1 361.80,357.1 362.02,357.7 362.24,358.7 362.46,358.1 362.68,358.4 362.90,359.3 363.12,358.4 363.34,359.9 363.56,359.2 363.78,360.2 364.00,361.8 364.22,361.2 364.44,359.5 364.66,360.9 364.88,360.4 365.10,361.8 365.32,360.5 365.54,361.4 365.76,362.9 365.98,361.0 366.20,362.6 366.42,362.9 366.64,364.6 366.86,363.3 367.08,362.5 367.30,363.4 367.52,364.7 367.74,363.0 367.96,364.7 368.18,364.8 368.40,364.3 368.62,364.2 368.84,364.6 369.06,363.8 369.28,363.5 369.50,366.3 369.72,366.9 369.94,364.0 370.16,365.5 370.38,369.1 370.60,369.5 370.82,366.7 371.04,364.9 371.26,366.4 371.48,367.8 371.70,365.7 371.92,366.6 372.14,365.7 372.36,368.8 372.58,365.8 372.80,366.2 373.02,367.4 373.24,366.2 373.46,370.0 373.68,370.7 373.90,366.7 374.12,368.8 374.34,367.5 374.56,368.0 374.78,368.3 375.00,369.0 375.22,371.3 375.44,382.8 375.66,370.1 375.88,372.7 376.10,368.1 376.32,369.4 376.54,368.3 376.76,371.7 376.98,372.7 377.20,368.7 377.42,369.2 377.64,372.3 377.86,370.7 378.08,369.3 378.30,371.5 378.52,370.1 378.74,369.9 378.96,368.8 379.18,369.1 379.40,370.7 379.62,370.6 379.84,369.7 380.06,369.6 380.28,371.8 380.50,372.1 380.72,373.0 380.94,370.0 381.16,372.4 381.38,369.8 381.60,369.2 381.82,371.9 382.04,373.3 382.26,371.5 382.48,369.7 382.70,372.4 382.92,371.2 383.14,369.2 383.36,373.5 383.58,371.9 383.80,369.8 384.02,370.4 384.24,371.2 384.46,371.9 384.68,372.1 384.90,370.4 385.12,371.2 385.34,369.9 385.56,374.6 385.78,373.0 386.00,371.9 386.22,371.9 386.44,370.0 386.66,371.9 386.88,371.9 387.10,369.5 387.32,372.7 387.54,370.5 387.76,374.3 387.98,372.2 388.20,371.3 388.42,369.6 388.64,372.6 388.86,371.2 389.08,372.3 389.30,370.4 389.52,372.6 389.74,371.8 389.96,370.8 390.18,369.3 390.40,372.2 390.62,372.3 390.84,372.4 391.06,370.6 391.28,373.8 391.50,370.0 391.72,372.5 391.94,370.7 392.16,370.8 392.38,371.4 392.60,370.3 392.82,369.5 393.04,370.6 393.26,369.1 393.48,370.1 393.70,369.0 393.92,372.1 394.14,369.8 394.36,370.8 394.58,369.3 394.80,369.5 395.02,370.2 395.24,369.1 395.46,370.9 395.68,369.3 395.90,370.7 396.12,370.9 396.34,371.3 396.56,370.3 396.78,368.6 397.00,372.4 397.22,369.7 397.44,368.9 397.66,369.3 397.88,370.9 398.10,369.7 398.32,371.2 398.54,369.2 398.76,370.1 398.98,369.8 399.20,369.5 399.42,368.5 399.64,369.6 399.86,371.0 400.08,368.7 400.30,368.7 400.52,369.6 400.74,371.7 400.96,370.0 401.18,370.9 401.40,369.3 401.62,369.8 401.84,370.4 402.06,369.9 402.28,370.5 402.50,371.0 402.72,370.2 402.94,369.7 403.16,369.8 403.38,371.7 403.60,368.4 403.82,371.4 404.04,370.1 404.26,370.8 404.48,371.1 404.70,369.5 404.92,370.2 405.14,370.6 405.36,368.6 405.58,370.9 405.80,369.4 406.02,368.5 406.24,369.1 406.46,371.1 406.68,371.4 406.90,369.5 407.12,368.7 407.34,373.1 407.56,368.9 407.78,369.3 408.00,372.0 408.22,369.1 408.44,371.2 408.66,371.0 408.88,369.3 409.10,370.8 409.32,372.5 409.54,372.8 409.76,369.7 409.98,372.9 410.20,373.0 410.42,373.2 410.64,370.0 410.86,371.0 411.08,370.8 411.30,372.2 411.52,373.1 411.74,371.1 411.96,371.7 412.18,371.5 412.40,376.2 412.62,371.4 412.84,371.4 413.06,372.2 413.28,371.7 413.50,372.0 413.72,374.8 413.94,374.1 414.16,374.0 414.38,374.5 414.60,373.5 414.82,374.8 415.04,375.1 415.26,374.4 415.48,376.8 415.70,376.6 415.92,377.9 416.14,377.8 416.36,374.1 416.58,375.3 416.80,378.4 417.02,378.1 417.24,374.5 417.46,376.0 417.68,374.9 417.90,382.8" fill="none" stroke="#8cffff" stroke-width="0.8" stroke-linejoin="round"/>
<polyline points="326.00,332.7 327.00,333.1 328.00,333.4 329.00,333.7 330.00,334.1 331.00,334.4 332.00,334.8 333.00,335.1 334.00,335.5 335.00,336.0 336.00,336.4 337.00,336.9 338.00,337.5 339.00,338.1 340.00,338.7 341.00,339.3 342.00,340.0 343.00,340.7 344.00,341.4 345.00,342.1 346.00,342.9 347.00,343.6 348.00,344.5 349.00,345.3 350.00,346.2 351.00,347.1 352.00,348.1 353.00,349.3 353.22,349.5 353.44,349.9 353.66,349.9 353.88,350.4 354.10,350.5 354.32,350.7 354.54,351.0 354.76,351.2 354.98,351.5 355.20,352.0 355.42,352.0 355.64,352.5 355.86,352.5 356.08,352.9 356.30,352.9 356.52,353.3 356.74,354.1 356.96,354.0 357.18,354.7 357.40,355.2 357.62,355.5 357.84,355.4 358.06,356.5 358.28,355.6 358.50,356.1 358.72,356.9 358.94,356.5 359.16,356.9 359.38,357.4 359.60,357.0 359.82,356.9 360.04,358.1 360.26,358.5 360.48,358.2 360.70,358.6 360.92,358.1 361.14,360.4 361.36,359.7 361.58,360.2 361.80,360.1 362.02,360.1 362.24,361.4 362.46,359.7 362.68,362.5 362.90,362.6 363.12,362.1 363.34,361.8 363.56,361.2 363.78,362.0 364.00,363.2 364.22,362.8 364.44,363.9 364.66,362.9 364.88,364.4 365.10,365.3 365.32,364.3 365.54,365.0 365.76,364.9 365.98,364.8 366.20,364.0 366.42,365.1 366.64,365.7 366.86,367.9 367.08,364.7 367.30,366.2 367.52,368.3 367.74,367.2 367.96,366.6 368.18,366.9 368.40,373.3 368.62,366.2 368.84,370.3 369.06,367.0 369.28,370.1 369.50,370.4 369.72,369.1 369.94,369.2 370.16,370.9 370.38,371.4 370.60,368.1 370.82,373.6 371.04,370.1 371.26,370.9 371.48,368.7 371.70,377.2 371.92,373.5 372.14,371.1 372.36,375.0 372.58,375.0 372.80,371.3 373.02,375.1 373.24,371.4 373.46,374.8 373.68,370.3 373.90,370.3 374.12,375.1 374.34,376.6 374.56,376.5 374.78,375.9 375.00,373.5 375.22,371.3 375.44,376.6 375.66,373.7 375.88,375.3 376.10,374.6 376.32,372.3 376.54,372.5 376.76,377.8 376.98,374.2 377.20,375.6 377.42,378.3 377.64,375.8 377.86,373.6 378.08,378.3 378.30,375.1 378.52,390.1 378.74,376.1 378.96,375.7 379.18,374.9 379.40,377.5 379.62,377.5 379.84,373.2 380.06,377.7 380.28,384.9 380.50,377.2 380.72,373.0 380.94,378.4 381.16,379.4 381.38,373.6 381.60,375.3 381.82,378.8 382.04,375.2 382.26,374.7 382.48,377.9 382.70,373.5 382.92,375.7 383.14,374.0 383.36,376.2 383.58,374.7 383.80,393.1 384.02,380.6 384.24,372.5 384.46,377.1 384.68,378.6 384.90,373.9 385.12,372.7 385.34,377.7 385.56,374.5 385.78,389.0 386.00,373.8 386.22,377.5 386.44,378.4 386.66,372.4 386.88,373.9 387.10,377.1 387.32,379.3 387.54,376.4 387.76,375.8 387.98,377.4 388.20,379.9 388.42,373.9 388.64,371.8 388.86,377.6 389.08,389.8 389.30,375.4 389.52,375.5 389.74,377.5 389.96,373.3 390.18,376.0 390.40,375.4 390.62,373.9 390.84,376.0 391.06,373.1 391.28,377.0 391.50,371.9 391.72,377.0 391.94,375.1 392.16,374.4 392.38,376.3 392.60,371.6 392.82,375.9 393.04,375.0 393.26,371.9 393.48,375.8 393.70,372.0 393.92,373.0 394.14,371.8 394.36,371.2 394.58,375.2 394.80,374.7 395.02,372.9 395.24,373.5 395.46,373.5 395.68,378.1 395.90,375.0 396.12,371.4 396.34,374.1 396.56,373.3 396.78,372.7 397.00,373.2 397.22,372.8 397.44,376.5 397.66,373.9 397.88,371.1 398.10,376.6 398.32,374.8 398.54,370.5 398.76,372.7 398.98,374.4 399.20,372.3 399.42,373.6 399.64,371.3 399.86,374.5 400.08,372.0 400.30,371.0 400.52,372.3 400.74,372.5 400.96,373.6 401.18,387.6 401.40,372.9 401.62,373.0 401.84,372.5 402.06,373.7 402.28,370.4 402.50,373.7 402.72,373.4 402.94,373.9 403.16,373.0 403.38,373.2 403.60,372.6 403.82,374.0 404.04,372.5 404.26,373.9 404.48,373.7 404.70,375.1 404.92,375.2 405.14,372.9 405.36,371.9 405.58,371.2 405.80,374.3 406.02,373.7 406.24,374.0 406.46,371.0 406.68,373.1 406.90,377.8 407.12,373.7 407.34,373.7 407.56,375.4 407.78,375.9 408.00,375.1 408.22,374.5 408.44,373.2 408.66,372.1 408.88,375.7 409.10,385.4 409.32,375.7 409.54,371.8 409.76,372.5 409.98,375.4 410.20,372.1 410.42,376.7 410.64,377.2 410.86,372.7 411.08,377.4 411.30,374.8 411.52,379.8 411.74,376.8 411.96,374.1 412.18,378.0 412.40,377.9 412.62,378.0 412.84,377.7 413.06,378.2 413.28,376.7 413.50,379.2 413.72,378.8 413.94,379.3 414.16,375.0 414.38,377.8 414.60,377.6 414.82,379.2 415.04,377.8 415.26,381.5 415.48,378.2 415.70,378.3 415.92,376.3 416.14,375.7 416.36,378.4 416.58,381.2 416.80,394.4 417.02,378.7 417.24,380.1 417.46,382.8 417.68,378.9 417.90,379.4" fill="none" stroke="#ffff8c" stroke-width="0.8" stroke-linejoin="round"/>
<polyline points="326.00,333.0 327.00,333.3 328.00,333.7 329.00,334.0 330.00,334.3 331.00,334.6 332.00,335.0 333.00,335.3 334.00,335.7 335.00,336.2 336.00,336.6 337.00,337.1 338.00,337.7 339.00,338.3 340.00,338.9 341.00,339.6 342.00,340.3 343.00,341.0 344.00,341.7 345.00,342.5 346.00,343.2 347.00,344.1 348.00,344.9 349.00,345.8 350.00,346.7 351.00,347.7 352.00,348.7 353.00,349.8 353.22,350.1 353.44,350.2 353.66,350.5 353.88,350.7 354.10,351.1 354.32,351.3 354.54,351.7 354.76,352.1 354.98,352.2 355.20,352.4 355.42,352.6 355.64,353.1 355.86,353.0 356.08,353.4 356.30,354.0 356.52,354.1 356.74,354.1 356.96,354.8 357.18,355.2 357.40,355.3 357.62,355.8 357.84,355.4 358.06,355.6 358.28,356.3 358.50,356.2 358.72,356.6 358.94,357.3 359.16,356.9 359.38,357.8 359.60,358.0 359.82,358.5 360.04,358.2 360.26,358.1 360.48,358.9 360.70,358.7 360.92,359.6 361.14,359.1 361.36,360.6 361.58,360.0 361.80,360.1 362.02,360.3 362.24,361.2 362.46,360.7 362.68,361.1 362.90,362.7 363.12,362.9 363.34,361.6 363.56,363.0 363.78,362.9 364.00,363.5 364.22,363.7 364.44,362.6 364.66,363.9 364.88,364.7 365.10,364.9 365.32,365.8 365.54,364.6 365.76,365.4 365.98,365.3 366.20,365.5 366.42,365.5 366.64,365.8 366.86,367.1 367.08,366.4 367.30,366.5 367.52,368.6 367.74,366.6 367.96,369.2 368.18,369.3 368.40,368.9 368.62,369.9 368.84,367.3 369.06,368.2 369.28,369.7 369.50,368.6 369.72,369.6 369.94,370.6 370.16,370.8 370.38,370.1 370.60,371.0 370.82,372.9 371.04,370.2 371.26,372.7 371.48,373.5 371.70,374.6 371.92,370.7 372.14,370.9 372.36,373.7 372.58,372.2 372.80,371.4 373.02,373.2 373.24,373.0 373.46,372.0 373.68,375.2 373.90,374.3 374.12,372.0 374.34,373.8 374.56,374.3 374.78,375.6 375.00,372.8 375.22,372.4 375.44,373.6 375.66,374.9 375.88,374.1 376.10,375.2 376.32,373.8 376.54,377.4 376.76,376.5 376.98,374.1 377.20,375.8 377.42,376.0 377.64,375.2 377.86,374.2 378.08,377.2 378.30,376.5 378.52,375.7 378.74,375.5 378.96,377.0 379.18,374.8 379.40,375.7 379.62,378.6 379.84,376.8 380.06,375.3 380.28,374.1 380.50,375.4 380.72,375.3 380.94,375.4 381.16,377.4 381.38,374.4 381.60,376.7 381.82,374.2 382.04,376.0 382.26,377.0 382.48,375.2 382.70,375.3 382.92,377.5 383.14,376.0 383.36,376.4 383.58,379.6 383.80,374.9 384.02,375.5 384.24,378.9 384.46,377.9 384.68,375.0 384.90,374.4 385.12,376.3 385.34,374.9 385.56,374.9 385.78,376.4 386.00,375.9 386.22,375.3 386.44,375.7 386.66,373.7 386.88,376.3 387.10,379.6 387.32,374.1 387.54,375.5 387.76,375.7 387.98,376.5 388.20,376.1 388.42,373.9 388.64,374.7 388.86,374.1 389.08,378.2 389.30,377.7 389.52,376.5 389.74,376.4 389.96,373.7 390.18,374.7 390.40,375.4 390.62,375.0 390.84,375.3 391.06,373.4 391.28,375.0 391.50,377.2 391.72,376.2 391.94,375.6 392.16,372.8 392.38,376.2 392.60,374.6 392.82,374.5 393.04,373.8 393.26,374.7 393.48,373.4 393.70,372.7 393.92,373.3 394.14,375.6 394.36,373.8 394.58,372.5 394.80,374.6 395.02,388.8 395.24,374.9 395.46,373.7 395.68,374.5 395.90,374.7 396.12,373.2 396.34,373.3 396.56,376.3 396.78,372.2 397.00,372.6 397.22,371.7 397.44,374.1 397.66,375.8 397.88,373.3 398.10,374.0 398.32,371.8 398.54,374.1 398.76,371.8 398.98,371.6 399.20,371.8 399.42,374.2 399.64,372.8 399.86,372.8 400.08,371.9 400.30,372.2 400.52,373.3 400.74,372.2 400.96,372.5 401.18,372.3 401.40,374.1 401.62,373.6 401.84,372.4 402.06,373.3 402.28,373.5 402.50,373.4 402.72,372.9 402.94,372.8 403.16,371.7 403.38,371.4 403.60,371.8 403.82,374.0 404.04,373.0 404.26,373.0 404.48,373.5 404.70,371.5 404.92,371.7 405.14,374.2 405.36,373.6 405.58,371.9 405.80,372.7 406.02,374.5 406.24,372.0 406.46,371.7 406.68,373.1 406.90,371.7 407.12,373.9 407.34,371.8 407.56,372.9 407.78,371.9 408.00,375.6 408.22,375.1 408.44,373.7 408.66,374.4 408.88,372.3 409.10,374.4 409.32,373.2 409.54,376.5 409.76,377.0 409.98,375.1 410.20,372.6 410.42,373.9 410.64,374.9 410.86,373.5 411.08,376.4 411.30,376.2 411.52,374.8 411.74,375.2 411.96,374.1 412.18,377.0 412.40,385.9 412.62,377.1 412.84,374.4 413.06,375.1 413.28,374.7 413.50,376.6 413.72,377.7 413.94,377.5 414.16,376.6 414.38,376.9 414.60,377.3 414.82,379.2 415.04,377.6 415.26,378.7 415.48,376.4 415.70,378.8 415.92,380.3 416.14,380.4 416.36,381.1 416.58,383.0 416.80,377.5 417.02,377.3 417.24,380.7 417.46,378.5 417.68,382.4 417.90,380.0" fill="none" stroke="#1cb81c" stroke-width="0.8" stroke-linejoin="round"/>
<polyline points="326.00,333.5 327.00,333.9 328.00,334.2 329.00,334.5 330.00,334.9 331.00,335.2 332.00,335.6 333.00,336.0 334.00,336.4 335.00,336.9 336.00,337.4 337.00,337.9 338.00,338.5 339.00,339.2 340.00,339.8 341.00,340.5 342.00,341.3 343.00,342.0 344.00,342.8 345.00,343.7 346.00,344.5 347.00,345.4 348.00,346.3 349.00,347.2 350.00,348.2 351.00,349.2 352.00,350.3 353.00,351.6 353.22,351.7 353.44,352.0 353.66,352.4 353.88,352.7 354.10,352.8 354.32,353.2 354.54,353.4 354.76,354.1 354.98,354.0 355.20,354.6 355.42,354.8 355.64,355.2 355.86,355.1 356.08,356.1 356.30,356.1 356.52,356.8 356.74,356.5 356.96,357.1 357.18,357.3 357.40,358.2 357.62,357.8 357.84,357.9 358.06,358.1 358.28,358.1 358.50,358.3 358.72,359.6 358.94,360.1 359.16,360.7 359.38,359.9 359.60,359.9 359.82,360.5 360.04,361.9 360.26,360.2 360.48,361.4 360.70,362.5 360.92,362.6 361.14,361.8 361.36,362.8 361.58,364.5 361.80,363.1 362.02,364.3 362.24,362.7 362.46,364.9 362.68,364.8 362.90,365.6 363.12,363.9 363.34,365.9 363.56,366.7 363.78,366.7 364.00,364.7 364.22,364.9 364.44,367.2 364.66,368.2 364.88,369.2 365.10,366.3 365.32,371.7 365.54,367.0 365.76,370.4 365.98,367.3 366.20,380.7 366.42,369.5 366.64,368.3 366.86,374.2 367.08,369.9 367.30,374.6 367.52,372.4 367.74,369.9 367.96,372.2 368.18,374.0 368.40,375.6 368.62,388.3 368.84,374.6 369.06,377.1 369.28,377.1 369.50,376.0 369.72,374.5 369.94,376.1 370.16,377.3 370.38,377.8 370.60,372.8 370.82,378.1 371.04,374.7 371.26,380.6 371.48,382.1 371.70,377.8 371.92,381.4 372.14,381.4 372.36,379.1 372.58,375.4 372.80,377.0 373.02,389.1 373.24,377.3 373.46,378.6 373.68,379.5 373.90,382.3 374.12,378.9 374.34,379.8 374.56,376.5 374.78,384.2 375.00,384.0 375.22,378.0 375.44,382.3 375.66,385.2 375.88,378.5 376.10,379.7 376.32,383.3 376.54,380.0 376.76,381.9 376.98,391.3 377.20,377.2 377.42,381.0 377.64,378.0 377.86,382.5 378.08,383.8 378.30,381.5 378.52,382.3 378.74,383.2 378.96,378.0 379.18,381.1 379.40,385.5 379.62,379.3 379.84,379.0 380.06,378.8 380.28,385.1 380.50,383.8 380.72,381.7 380.94,381.6 381.16,382.0 381.38,382.1 381.60,382.8 381.82,386.0 382.04,378.5 382.26,384.9 382.48,377.4 382.70,383.9 382.92,378.5 383.14,385.6 383.36,381.2 383.58,377.7 383.80,378.8 384.02,385.1 384.24,383.2 384.46,395.7 384.68,382.0 384.90,383.6 385.12,383.9 385.34,382.0 385.56,385.5 385.78,377.6 386.00,384.3 386.22,380.8 386.44,380.1 386.66,378.2 386.88,381.5 387.10,383.4 387.32,382.1 387.54,384.8 387.76,383.2 387.98,377.2 388.20,378.4 388.42,377.1 388.64,382.2 388.86,382.3 389.08,375.5 389.30,376.7 389.52,388.0 389.74,380.9 389.96,378.0 390.18,380.7 390.40,381.6 390.62,376.5 390.84,380.2 391.06,381.5 391.28,378.5 391.50,379.8 391.72,379.6 391.94,375.2 392.16,380.1 392.38,376.5 392.60,380.6 392.82,381.1 393.04,375.8 393.26,377.4 393.48,377.7 393.70,377.4 393.92,375.9 394.14,375.2 394.36,379.3 394.58,374.6 394.80,377.5 395.02,375.8 395.24,375.2 395.46,392.1 395.68,379.8 395.90,383.9 396.12,375.3 396.34,376.5 396.56,377.0 396.78,379.1 397.00,379.0 397.22,375.8 397.44,376.7 397.66,373.3 397.88,375.9 398.10,373.4 398.32,378.1 398.54,373.1 398.76,373.9 398.98,373.8 399.20,385.8 399.42,377.5 399.64,379.4 399.86,378.4 400.08,376.0 400.30,373.9 400.52,375.8 400.74,377.9 400.96,392.9 401.18,378.8 401.40,376.5 401.62,375.6 401.84,375.2 402.06,374.4 402.28,372.7 402.50,378.4 402.72,374.7 402.94,379.7 403.16,373.0 403.38,378.4 403.60,373.3 403.82,376.0 404.04,374.7 404.26,377.0 404.48,378.0 404.70,376.1 404.92,378.5 405.14,374.4 405.36,374.7 405.58,374.1 405.80,372.7 406.02,376.9 406.24,374.0 406.46,379.2 406.68,377.9 406.90,380.3 407.12,378.6 407.34,376.3 407.56,379.0 407.78,373.3 408.00,373.8 408.22,387.5 408.44,379.4 408.66,373.7 408.88,378.9 409.10,376.6 409.32,379.7 409.54,378.7 409.76,380.4 409.98,376.1 410.20,377.1 410.42,374.9 410.64,387.0 410.86,374.2 411.08,380.7 411.30,374.8 411.52,374.5 411.74,381.3 411.96,376.3 412.18,380.0 412.40,377.3 412.62,383.5 412.84,379.4 413.06,382.8 413.28,376.2 413.50,375.9 413.72,378.6 413.94,381.3 414.16,394.9 414.38,379.0 414.60,379.0 414.82,383.1 415.04,388.5 415.26,378.8 415.48,377.6 415.70,385.5 415.92,384.1 416.14,379.9 416.36,382.8 416.58,393.7 416.80,381.2 417.02,385.0 417.24,388.6 417.46,381.7 417.68,380.0 417.90,382.0" fill="none" stroke="#ff961c" stroke-width="0.8" stroke-linejoin="round"/>
<polygon points="356.0,356.3 356.5,356.9 357.0,357.5 357.5,358.1 358.0,358.7 358.5,359.3 359.0,359.9 359.5,360.5 360.0,361.1 360.5,361.7 361.0,362.3 361.5,362.9 362.0,363.5 362.5,364.1 363.0,364.7 363.5,365.3 364.0,365.9 364.5,366.5 365.0,367.1 365.5,367.7 366.0,368.3 366.5,369.0 367.0,369.6 367.5,370.2 368.0,370.8 368.5,371.4 369.0,372.0 369.5,372.6 370.0,373.1 370.5,373.7 371.0,374.2 371.5,374.7 372.0,375.2 372.5,375.6 373.0,376.0 373.5,376.4 374.0,376.7 374.5,377.1 375.0,377.4 375.5,377.6 376.0,377.8 376.5,378.0 377.0,378.2 377.5,378.3 378.0,378.4 378.5,378.5 379.0,378.5 379.5,378.6 380.0,378.6 380.5,378.6 381.0,378.6 381.5,378.6 382.0,378.5 382.5,378.4 383.0,378.4 383.5,378.3 384.0,378.2 384.5,378.0 385.0,377.9 385.5,377.8 386.0,377.7 386.5,377.5 387.0,377.4 387.5,377.3 388.0,377.1 388.5,377.0 389.0,376.8 389.5,376.7 390.0,376.6 390.5,376.5 391.0,376.3 391.5,376.2 392.0,376.1 392.5,375.9 393.0,375.8 393.5,375.6 394.0,375.5 394.5,375.3 395.0,375.1 395.5,375.0 396.0,374.8 396.5,374.7 397.0,374.5 397.5,374.4 398.0,374.3 398.5,374.2 399.0,374.1 399.5,374.0 400.0,373.9 400.5,373.8 401.0,373.8 401.5,373.8 402.0,373.8 402.5,373.7 403.0,373.8 403.5,373.8 404.0,373.8 404.5,373.9 405.0,373.9 405.5,374.0 406.0,374.1 406.5,374.2 407.0,374.3 407.5,374.4 408.0,374.5 408.5,374.7 409.0,374.8 409.5,375.0 410.0,375.2 410.5,375.4 411.0,375.6 411.5,375.8 412.0,376.1 412.5,376.4 413.0,376.6 413.5,376.9 414.0,377.2 414.5,377.6 415.0,378.0 415.5,378.5 416.0,379.0 416.5,379.5 417.0,380.1 417.5,380.6 417.5,387.5 417.0,386.8 416.5,386.1 416.0,385.4 415.5,384.8 415.0,384.2 414.5,383.6 414.0,383.1 413.5,382.6 413.0,382.2 412.5,381.8 412.0,381.3 411.5,380.9 411.0,380.6 410.5,380.2 410.0,379.8 409.5,379.6 409.0,379.4 408.5,379.2 408.0,379.0 407.5,378.8 407.0,378.7 406.5,378.5 406.0,378.4 405.5,378.2 405.0,378.1 404.5,378.0 404.0,377.9 403.5,377.8 403.0,377.7 402.5,377.7 402.0,377.7 401.5,377.7 401.0,377.8 400.5,377.9 400.0,377.9 399.5,378.1 399.0,378.2 398.5,378.3 398.0,378.5 397.5,378.6 397.0,378.8 396.5,379.0 396.0,379.2 395.5,379.4 395.0,379.6 394.5,379.8 394.0,380.0 393.5,380.1 393.0,380.3 392.5,380.5 392.0,380.7 391.5,380.9 391.0,381.1 390.5,381.4 390.0,381.6 389.5,381.7 389.0,381.9 388.5,382.2 388.0,382.4 387.5,382.6 387.0,382.8 386.5,383.0 386.0,383.2 385.5,383.4 385.0,383.6 384.5,383.8 384.0,384.0 383.5,384.2 383.0,384.4 382.5,384.5 382.0,384.7 381.5,384.7 381.0,384.7 380.5,384.7 380.0,384.6 379.5,384.5 379.0,384.5 378.5,384.4 378.0,384.2 377.5,384.1 377.0,384.0 376.5,383.8 376.0,383.5 375.5,383.3 375.0,383.0 374.5,382.7 374.0,382.3 373.5,381.9 373.0,381.5 372.5,381.0 372.0,380.6 371.5,379.9 371.0,379.2 370.5,378.5 370.0,377.8 369.5,377.0 369.0,376.3 368.5,375.5 368.0,374.7 367.5,373.9 367.0,373.1 366.5,372.3 366.0,371.5 365.5,370.7 365.0,369.9 364.5,369.1 364.0,368.3 363.5,367.5 363.0,366.7 362.5,365.9 362.0,365.2 361.5,364.5 361.0,363.8 360.5,363.0 360.0,362.3 359.5,361.6 359.0,360.9 358.5,360.2 358.0,359.4 357.5,358.7 357.0,358.0 356.5,357.3 356.0,356.6" fill="#ff961c"/>
<polyline points="326.00,334.0 327.00,334.4 328.00,334.7 329.00,335.0 330.00,335.4 331.00,335.7 332.00,336.1 333.00,336.5 334.00,336.9 335.00,337.4 336.00,337.9 337.00,338.4 338.00,339.0 339.00,339.7 340.00,340.3 341.00,341.0 342.00,341.8 343.00,342.5 344.00,343.3 345.00,344.1 346.00,345.0 347.00,345.9 348.00,346.8 349.00,347.7 350.00,348.7 351.00,349.7 352.00,350.8 353.00,352.0 353.22,352.4 353.44,352.9 353.66,353.3 353.88,353.1 354.10,353.3 354.32,354.0 354.54,354.4 354.76,354.1 354.98,355.0 355.20,354.8 355.42,355.6 355.64,355.4 355.86,356.4 356.08,356.5 356.30,356.1 356.52,356.9 356.74,356.7 356.96,357.9 357.18,358.4 357.40,358.3 357.62,357.9 357.84,360.3 358.06,358.7 358.28,359.9 358.50,359.1 358.72,360.6 358.94,360.6 359.16,361.2 359.38,360.6 359.60,360.5 359.82,362.6 360.04,361.2 360.26,363.3 360.48,362.0 360.70,361.9 360.92,363.5 361.14,363.1 361.36,363.0 361.58,364.1 361.80,364.0 362.02,365.4 362.24,363.7 362.46,365.0 362.68,365.1 362.90,366.0 363.12,364.5 363.34,365.0 363.56,365.9 363.78,368.7 364.00,366.0 364.22,367.0 364.44,366.4 364.66,369.9 364.88,369.3 365.10,367.8 365.32,370.2 365.54,369.3 365.76,371.8 365.98,371.7 366.20,371.5 366.42,371.3 366.64,373.8 366.86,372.7 367.08,369.7 367.30,369.5 367.52,372.4 367.74,371.2 367.96,373.5 368.18,373.6 368.40,376.2 368.62,375.5 368.84,372.9 369.06,377.5 369.28,374.2 369.50,376.4 369.72,375.9 369.94,373.3 370.16,373.1 370.38,374.1 370.60,375.4 370.82,376.9 371.04,379.4 371.26,379.4 371.48,380.0 371.70,378.3 371.92,381.9 372.14,377.1 372.36,390.2 372.58,380.9 372.80,381.4 373.02,376.4 373.24,379.6 373.46,379.7 373.68,381.9 373.90,376.1 374.12,377.5 374.34,383.3 374.56,382.3 374.78,377.8 375.00,378.1 375.22,382.7 375.44,383.9 375.66,382.9 375.88,384.3 376.10,393.2 376.32,377.0 376.54,378.4 376.76,382.3 376.98,385.5 377.20,389.2 377.42,377.8 377.64,378.4 377.86,382.6 378.08,383.2 378.30,385.7 378.52,386.2 378.74,381.9 378.96,379.9 379.18,377.9 379.40,379.8 379.62,383.5 379.84,383.9 380.06,384.6 380.28,383.0 380.50,386.0 380.72,378.9 380.94,380.7 381.16,381.4 381.38,379.9 381.60,385.9 381.82,384.4 382.04,384.0 382.26,389.4 382.48,385.4 382.70,382.0 382.92,377.8 383.14,382.0 383.36,384.8 383.58,384.8 383.80,383.6 384.02,385.4 384.24,379.0 384.46,379.6 384.68,387.1 384.90,384.9 385.12,377.9 385.34,385.0 385.56,379.2 385.78,383.7 386.00,379.7 386.22,384.3 386.44,382.6 386.66,382.9 386.88,379.0 387.10,383.9 387.32,377.5 387.54,381.3 387.76,379.5 387.98,379.9 388.20,379.7 388.42,381.7 388.64,380.9 388.86,376.9 389.08,380.5 389.30,379.4 389.52,381.1 389.74,378.0 389.96,376.6 390.18,377.8 390.40,380.9 390.62,379.1 390.84,376.9 391.06,377.6 391.28,380.1 391.50,394.6 391.72,376.6 391.94,376.1 392.16,384.8 392.38,377.0 392.60,381.8 392.82,377.2 393.04,377.2 393.26,376.6 393.48,378.1 393.70,375.1 393.92,374.5 394.14,377.8 394.36,379.6 394.58,378.4 394.80,377.4 395.02,378.2 395.24,379.7 395.46,375.1 395.68,375.4 395.90,374.0 396.12,377.6 396.34,378.8 396.56,375.8 396.78,377.0 397.00,376.6 397.22,373.9 397.44,374.3 397.66,373.6 397.88,373.7 398.10,375.7 398.32,375.4 398.54,383.9 398.76,379.3 398.98,374.1 399.20,379.0 399.42,373.9 399.64,373.8 399.86,372.9 400.08,374.7 400.30,378.4 400.52,374.1 400.74,376.9 400.96,374.1 401.18,374.5 401.40,376.3 401.62,372.8 401.84,375.9 402.06,374.1 402.28,377.8 402.50,373.4 402.72,373.1 402.94,373.0 403.16,375.9 403.38,375.8 403.60,378.6 403.82,374.4 404.04,392.6 404.26,377.9 404.48,373.8 404.70,377.3 404.92,374.8 405.14,374.9 405.36,376.0 405.58,377.5 405.80,378.2 406.02,376.9 406.24,378.5 406.46,380.1 406.68,377.7 406.90,374.7 407.12,378.1 407.34,374.0 407.56,374.1 407.78,373.6 408.00,377.4 408.22,378.4 408.44,377.0 408.66,380.3 408.88,374.9 409.10,378.8 409.32,378.9 409.54,376.4 409.76,379.9 409.98,376.4 410.20,374.9 410.42,380.0 410.64,394.5 410.86,380.0 411.08,379.8 411.30,375.9 411.52,374.8 411.74,376.9 411.96,377.7 412.18,378.0 412.40,382.9 412.62,380.6 412.84,379.5 413.06,376.5 413.28,389.3 413.50,383.9 413.72,382.8 413.94,380.4 414.16,382.9 414.38,379.6 414.60,379.3 414.82,377.8 415.04,381.5 415.26,387.3 415.48,383.3 415.70,390.9 415.92,384.4 416.14,385.4 416.36,388.6 416.58,386.4 416.80,388.8 417.02,383.4 417.24,386.5 417.46,382.5 417.68,382.5 417.90,385.5" fill="none" stroke="#ff2c12" stroke-width="0.8" stroke-linejoin="round"/>
<polygon points="356.0,357.0 356.5,357.7 357.0,358.3 357.5,358.9 358.0,359.6 358.5,360.2 359.0,360.8 359.5,361.5 360.0,362.1 360.5,362.7 361.0,363.3 361.5,363.9 362.0,364.5 362.5,365.1 363.0,365.7 363.5,366.3 364.0,366.9 364.5,367.4 365.0,368.0 365.5,368.6 366.0,369.2 366.5,369.8 367.0,370.4 367.5,371.0 368.0,371.6 368.5,372.1 369.0,372.7 369.5,373.2 370.0,373.8 370.5,374.3 371.0,374.8 371.5,375.2 372.0,375.7 372.5,376.1 373.0,376.5 373.5,376.9 374.0,377.2 374.5,377.5 375.0,377.8 375.5,378.1 376.0,378.3 376.5,378.5 377.0,378.7 377.5,378.8 378.0,378.9 378.5,379.0 379.0,379.0 379.5,379.1 380.0,379.1 380.5,379.1 381.0,379.1 381.5,379.1 382.0,379.0 382.5,378.9 383.0,378.9 383.5,378.8 384.0,378.7 384.5,378.6 385.0,378.4 385.5,378.3 386.0,378.2 386.5,378.0 387.0,377.9 387.5,377.8 388.0,377.6 388.5,377.5 389.0,377.4 389.5,377.2 390.0,377.1 390.5,377.0 391.0,376.8 391.5,376.7 392.0,376.5 392.5,376.4 393.0,376.2 393.5,376.0 394.0,375.8 394.5,375.7 395.0,375.5 395.5,375.3 396.0,375.2 396.5,375.0 397.0,374.8 397.5,374.7 398.0,374.5 398.5,374.4 399.0,374.3 399.5,374.2 400.0,374.1 400.5,374.0 401.0,374.0 401.5,373.9 402.0,373.9 402.5,373.9 403.0,373.9 403.5,373.9 404.0,374.0 404.5,374.0 405.0,374.1 405.5,374.2 406.0,374.3 406.5,374.4 407.0,374.5 407.5,374.6 408.0,374.7 408.5,374.9 409.0,375.1 409.5,375.3 410.0,375.5 410.5,375.7 411.0,375.9 411.5,376.2 412.0,376.5 412.5,376.8 413.0,377.1 413.5,377.4 414.0,377.7 414.5,378.2 415.0,378.6 415.5,379.2 416.0,379.7 416.5,380.4 417.0,381.0 417.5,381.6 417.5,388.5 417.0,387.7 416.5,387.0 416.0,386.2 415.5,385.5 415.0,384.8 414.5,384.2 414.0,383.6 413.5,383.1 413.0,382.6 412.5,382.2 412.0,381.7 411.5,381.3 411.0,380.9 410.5,380.5 410.0,380.1 409.5,379.9 409.0,379.6 408.5,379.4 408.0,379.2 407.5,379.0 407.0,378.8 406.5,378.7 406.0,378.5 405.5,378.4 405.0,378.3 404.5,378.2 404.0,378.1 403.5,378.0 403.0,377.9 402.5,377.9 402.0,377.8 401.5,377.9 401.0,378.0 400.5,378.0 400.0,378.1 399.5,378.3 399.0,378.4 398.5,378.6 398.0,378.7 397.5,378.9 397.0,379.1 396.5,379.3 396.0,379.5 395.5,379.7 395.0,379.9 394.5,380.1 394.0,380.3 393.5,380.6 393.0,380.8 392.5,381.0 392.0,381.2 391.5,381.4 391.0,381.6 390.5,381.8 390.0,382.1 389.5,382.3 389.0,382.5 388.5,382.7 388.0,382.9 387.5,383.1 387.0,383.3 386.5,383.5 386.0,383.7 385.5,383.9 385.0,384.1 384.5,384.3 384.0,384.5 383.5,384.7 383.0,384.9 382.5,385.0 382.0,385.2 381.5,385.2 381.0,385.2 380.5,385.2 380.0,385.1 379.5,385.0 379.0,384.9 378.5,384.9 378.0,384.7 377.5,384.6 377.0,384.4 376.5,384.2 376.0,384.0 375.5,383.7 375.0,383.5 374.5,383.1 374.0,382.8 373.5,382.4 373.0,382.0 372.5,381.5 372.0,381.1 371.5,380.5 371.0,379.8 370.5,379.1 370.0,378.4 369.5,377.7 369.0,377.0 368.5,376.2 368.0,375.5 367.5,374.7 367.0,373.9 366.5,373.2 366.0,372.4 365.5,371.6 365.0,370.8 364.5,370.0 364.0,369.3 363.5,368.5 363.0,367.7 362.5,366.9 362.0,366.2 361.5,365.5 361.0,364.7 360.5,364.0 360.0,363.3 359.5,362.5 359.0,361.8 358.5,361.1 358.0,360.3 357.5,359.6 357.0,358.8 356.5,358.1 356.0,357.3" fill="#ff2c12"/>
</g>
<rect x="325.8" y="325.5" width="91.7" height="71.5" fill="none" stroke="#9a9a9a" stroke-width="0.8"/>
<line x1="325.8" y1="337.50" x2="328.0" y2="337.50" stroke="#777" stroke-width="0.7"/>
<line x1="325.8" y1="329.61" x2="327.1" y2="329.61" stroke="#999" stroke-width="0.5"/>
<text x="323.6" y="340.10" font-size="6.7" text-anchor="end" font-family="Liberation Sans, sans-serif" fill="#222">10<tspan font-size="5" dy="-2.6" dx="0.2">-1</tspan></text>
<line x1="325.8" y1="363.70" x2="328.0" y2="363.70" stroke="#777" stroke-width="0.7"/>
<line x1="325.8" y1="355.81" x2="327.1" y2="355.81" stroke="#999" stroke-width="0.5"/>
<line x1="325.8" y1="351.20" x2="327.1" y2="351.20" stroke="#999" stroke-width="0.5"/>
<line x1="325.8" y1="347.93" x2="327.1" y2="347.93" stroke="#999" stroke-width="0.5"/>
<line x1="325.8" y1="345.39" x2="327.1" y2="345.39" stroke="#999" stroke-width="0.5"/>
<line x1="325.8" y1="343.31" x2="327.1" y2="343.31" stroke="#999" stroke-width="0.5"/>
<line x1="325.8" y1="341.56" x2="327.1" y2="341.56" stroke="#999" stroke-width="0.5"/>
<line x1="325.8" y1="340.04" x2="327.1" y2="340.04" stroke="#999" stroke-width="0.5"/>
<line x1="325.8" y1="338.70" x2="327.1" y2="338.70" stroke="#999" stroke-width="0.5"/>
<text x="323.6" y="366.30" font-size="6.7" text-anchor="end" font-family="Liberation Sans, sans-serif" fill="#222">10<tspan font-size="5" dy="-2.6" dx="0.2">-2</tspan></text>
<line x1="325.8" y1="389.90" x2="328.0" y2="389.90" stroke="#777" stroke-width="0.7"/>
<line x1="325.8" y1="382.01" x2="327.1" y2="382.01" stroke="#999" stroke-width="0.5"/>
<line x1="325.8" y1="377.40" x2="327.1" y2="377.40" stroke="#999" stroke-width="0.5"/>
<line x1="325.8" y1="374.13" x2="327.1" y2="374.13" stroke="#999" stroke-width="0.5"/>
<line x1="325.8" y1="371.59" x2="327.1" y2="371.59" stroke="#999" stroke-width="0.5"/>
<line x1="325.8" y1="369.51" x2="327.1" y2="369.51" stroke="#999" stroke-width="0.5"/>
<line x1="325.8" y1="367.76" x2="327.1" y2="367.76" stroke="#999" stroke-width="0.5"/>
<line x1="325.8" y1="366.24" x2="327.1" y2="366.24" stroke="#999" stroke-width="0.5"/>
<line x1="325.8" y1="364.90" x2="327.1" y2="364.90" stroke="#999" stroke-width="0.5"/>
<text x="323.6" y="392.50" font-size="6.7" text-anchor="end" font-family="Liberation Sans, sans-serif" fill="#222">10<tspan font-size="5" dy="-2.6" dx="0.2">-3</tspan></text>
<line x1="340.40" y1="397.0" x2="340.40" y2="395.4" stroke="#999" stroke-width="0.5"/>
<line x1="354.81" y1="397.0" x2="354.81" y2="395.4" stroke="#999" stroke-width="0.5"/>
<line x1="369.23" y1="397.0" x2="369.23" y2="395.4" stroke="#999" stroke-width="0.5"/>
<line x1="381.00" y1="397.0" x2="381.00" y2="395.4" stroke="#999" stroke-width="0.5"/>
<line x1="390.96" y1="397.0" x2="390.96" y2="395.4" stroke="#999" stroke-width="0.5"/>
<line x1="399.59" y1="397.0" x2="399.59" y2="395.4" stroke="#999" stroke-width="0.5"/>
<line x1="407.19" y1="397.0" x2="407.19" y2="395.4" stroke="#999" stroke-width="0.5"/>
<line x1="414.00" y1="397.0" x2="414.00" y2="395.4" stroke="#999" stroke-width="0.5"/>
<text x="341" y="405" font-size="6.6" text-anchor="middle" font-family="Liberation Sans, sans-serif" fill="#222">3.2×10<tspan font-size="5" dy="-2.5">-2</tspan></text>
<text x="417" y="405" font-size="6.6" text-anchor="middle" font-family="Liberation Sans, sans-serif" fill="#222">1.0×10<tspan font-size="5" dy="-2.5">-1</tspan></text>
<text x="372.5" y="411.5" font-size="7.2" text-anchor="middle" font-family="Liberation Sans, sans-serif" fill="#222">q (Å<tspan font-size="5" dy="-2.8">-1</tspan><tspan dy="2.8">)</tspan></text>
<text transform="translate(309.6,365.8) rotate(-90)" font-size="7.3" font-family="Liberation Sans, sans-serif" fill="#222">I(q)</text>
</svg>
</body></html>
